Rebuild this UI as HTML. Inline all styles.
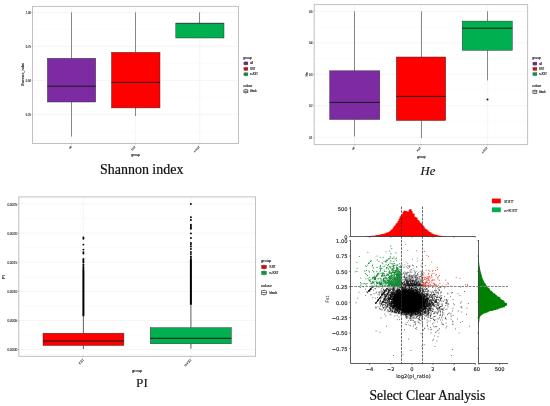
<!DOCTYPE html>
<html lang="en"><head><meta charset="utf-8"><title>Figure</title>
<style>html,body{margin:0;padding:0;background:#fff}svg{display:block;filter:blur(.35px)}</style></head>
<body>
<svg width="550" height="406" viewBox="0 0 550 406">
<rect width="550" height="406" fill="#fff"/>
<rect x="32.5" y="6.4" width="206.0" height="137.1" fill="#fff"/>
<path d="M32.5 29.4H238.5" stroke="#f6f6f6" stroke-width=".5"/>
<path d="M32.5 63.4H238.5" stroke="#f6f6f6" stroke-width=".5"/>
<path d="M32.5 97.4H238.5" stroke="#f6f6f6" stroke-width=".5"/>
<path d="M32.5 131.4H238.5" stroke="#f6f6f6" stroke-width=".5"/>
<path d="M32.5 12.4H238.5" stroke="#f0f0f0" stroke-width=".7"/>
<path d="M32.5 46.4H238.5" stroke="#f0f0f0" stroke-width=".7"/>
<path d="M32.5 80.4H238.5" stroke="#f0f0f0" stroke-width=".7"/>
<path d="M32.5 114.4H238.5" stroke="#f0f0f0" stroke-width=".7"/>
<path d="M71.6 6.4V143.5" stroke="#f1f1f1" stroke-width=".7"/>
<path d="M135.6 6.4V143.5" stroke="#f1f1f1" stroke-width=".7"/>
<path d="M199.8 6.4V143.5" stroke="#f1f1f1" stroke-width=".7"/>
<path d="M71.5 12.4V58.3M71.5 102V136.5" stroke="#3c3c3c" stroke-width="0.6"/>
<rect x="47.4" y="58.3" width="48.300000000000004" height="43.7" fill="#7d2ba3" stroke="#2b2b2b" stroke-width=".45"/>
<path d="M47.4 86.2H95.7" stroke="#1a1a1a" stroke-width="1.0"/>
<path d="M135.5 12.4V52.3M135.5 107.9V116" stroke="#3c3c3c" stroke-width="0.6"/>
<rect x="111.5" y="52.3" width="48.5" height="55.60000000000001" fill="#ff0000" stroke="#2b2b2b" stroke-width=".45"/>
<path d="M111.5 82.4H160" stroke="#1a1a1a" stroke-width="1.0"/>
<path d="M199.5 12.4V23.2M199.5 38V38" stroke="#3c3c3c" stroke-width="0.6"/>
<rect x="175.8" y="23.2" width="48.19999999999999" height="14.8" fill="#00b050" stroke="#2b2b2b" stroke-width=".45"/>
<path d="M175.8 23.2H224" stroke="#1a1a1a" stroke-width="0.5"/>
<rect x="32.5" y="6.4" width="206.0" height="137.1" fill="none" stroke="#c0c0c0" stroke-width="1"/>
<path d="M31.5 12.4H32.5" stroke="#666" stroke-width=".4"/>
<text x="30.9" y="14.054" font-size="2.65" font-family="Liberation Sans, Arial, sans-serif" fill="#3a3a3a" text-anchor="end"  stroke="#3a3a3a" stroke-width=".14">1.00</text>
<path d="M31.5 46.4H32.5" stroke="#666" stroke-width=".4"/>
<text x="30.9" y="48.054" font-size="2.65" font-family="Liberation Sans, Arial, sans-serif" fill="#3a3a3a" text-anchor="end"  stroke="#3a3a3a" stroke-width=".14">0.75</text>
<path d="M31.5 80.4H32.5" stroke="#666" stroke-width=".4"/>
<text x="30.9" y="82.054" font-size="2.65" font-family="Liberation Sans, Arial, sans-serif" fill="#3a3a3a" text-anchor="end"  stroke="#3a3a3a" stroke-width=".14">0.50</text>
<path d="M31.5 114.4H32.5" stroke="#666" stroke-width=".4"/>
<text x="30.9" y="116.054" font-size="2.65" font-family="Liberation Sans, Arial, sans-serif" fill="#3a3a3a" text-anchor="end"  stroke="#3a3a3a" stroke-width=".14">0.25</text>
<text transform="translate(24.1 74.5) rotate(-90)" font-size="3.3" font-family="Liberation Sans, Arial, sans-serif" fill="#222" text-anchor="middle" stroke="#222" stroke-width=".14">Shannon_index</text>
<path d="M71.6 143.5V144.5" stroke="#666" stroke-width=".4"/>
<text transform="translate(71.89999999999999 147.1) rotate(-45)" font-size="2.65" font-family="Liberation Sans, Arial, sans-serif" fill="#3a3a3a" text-anchor="end" stroke="#3a3a3a" stroke-width=".14">all</text>
<path d="M135.6 143.5V144.5" stroke="#666" stroke-width=".4"/>
<text transform="translate(135.9 147.1) rotate(-45)" font-size="2.65" font-family="Liberation Sans, Arial, sans-serif" fill="#3a3a3a" text-anchor="end" stroke="#3a3a3a" stroke-width=".14">KST</text>
<path d="M199.8 143.5V144.5" stroke="#666" stroke-width=".4"/>
<text transform="translate(200.10000000000002 147.1) rotate(-45)" font-size="2.65" font-family="Liberation Sans, Arial, sans-serif" fill="#3a3a3a" text-anchor="end" stroke="#3a3a3a" stroke-width=".14">n-KST</text>
<text x="135.5" y="156" font-size="3.3" font-family="Liberation Sans, Arial, sans-serif" fill="#111" text-anchor="middle"  stroke="#111" stroke-width=".14">group</text>
<text x="243.3" y="58.9" font-size="3.3" font-family="Liberation Sans, Arial, sans-serif" fill="#111" text-anchor="start"  stroke="#111" stroke-width=".14">group</text>
<path d="M245.90 60.90V65.90" stroke="#333" stroke-width="0.3"/>
<rect x="243.9" y="61.95" width="4.00" height="2.90" fill="#7d2ba3" stroke="#333" stroke-width="0.3"/>
<path d="M243.9 63.40h4.00" stroke="#333" stroke-width="0.4"/>
<text x="250.3" y="64.35" font-size="2.65" font-family="Liberation Sans, Arial, sans-serif" fill="#111" text-anchor="start"  stroke="#111" stroke-width=".14">all</text>
<path d="M245.90 66.40V71.40" stroke="#333" stroke-width="0.3"/>
<rect x="243.9" y="67.45" width="4.00" height="2.90" fill="#ff0000" stroke="#333" stroke-width="0.3"/>
<path d="M243.9 68.90h4.00" stroke="#333" stroke-width="0.4"/>
<text x="250.3" y="69.85000000000001" font-size="2.65" font-family="Liberation Sans, Arial, sans-serif" fill="#111" text-anchor="start"  stroke="#111" stroke-width=".14">KST</text>
<path d="M245.90 71.80V76.80" stroke="#333" stroke-width="0.3"/>
<rect x="243.9" y="72.85" width="4.00" height="2.90" fill="#00b050" stroke="#333" stroke-width="0.3"/>
<path d="M243.9 74.30h4.00" stroke="#333" stroke-width="0.4"/>
<text x="250.3" y="75.25" font-size="2.65" font-family="Liberation Sans, Arial, sans-serif" fill="#111" text-anchor="start"  stroke="#111" stroke-width=".14">n-KST</text>
<text x="243.3" y="86.7" font-size="3.3" font-family="Liberation Sans, Arial, sans-serif" fill="#111" text-anchor="start"  stroke="#111" stroke-width=".14">colour</text>
<path d="M245.90 88.80V93.80" stroke="#111" stroke-width="0.5"/>
<rect x="243.9" y="89.85" width="4.00" height="2.90" fill="#fff" stroke="#111" stroke-width="0.5"/>
<path d="M243.9 91.30h4.00" stroke="#111" stroke-width="0.6"/>
<text x="250.3" y="92.25" font-size="2.65" font-family="Liberation Sans, Arial, sans-serif" fill="#111" text-anchor="start"  stroke="#111" stroke-width=".14">black</text>
<text x="141.7" y="173.7" font-size="13.6" font-family="Liberation Serif, Times New Roman, serif" fill="#111" text-anchor="middle" textLength="83.4" lengthAdjust="spacingAndGlyphs" stroke="#111" stroke-width=".22">Shannon index</text>
<rect x="314.2" y="4.6" width="213.40000000000003" height="140.0" fill="#fff"/>
<path d="M314.2 27H527.6" stroke="#f6f6f6" stroke-width=".5"/>
<path d="M314.2 58.5H527.6" stroke="#f6f6f6" stroke-width=".5"/>
<path d="M314.2 90H527.6" stroke="#f6f6f6" stroke-width=".5"/>
<path d="M314.2 121.5H527.6" stroke="#f6f6f6" stroke-width=".5"/>
<path d="M314.2 11.3H527.6" stroke="#f0f0f0" stroke-width=".7"/>
<path d="M314.2 42.8H527.6" stroke="#f0f0f0" stroke-width=".7"/>
<path d="M314.2 74.3H527.6" stroke="#f0f0f0" stroke-width=".7"/>
<path d="M314.2 105.8H527.6" stroke="#f0f0f0" stroke-width=".7"/>
<path d="M314.2 137.3H527.6" stroke="#f0f0f0" stroke-width=".7"/>
<path d="M354.5 4.6V144.6" stroke="#f1f1f1" stroke-width=".7"/>
<path d="M421 4.6V144.6" stroke="#f1f1f1" stroke-width=".7"/>
<path d="M487.7 4.6V144.6" stroke="#f1f1f1" stroke-width=".7"/>
<path d="M354.5 11.3V70.8M354.5 119.5V136.5" stroke="#3c3c3c" stroke-width="0.6"/>
<rect x="329.7" y="70.8" width="50.10000000000002" height="48.7" fill="#7d2ba3" stroke="#2b2b2b" stroke-width=".45"/>
<path d="M329.7 102.4H379.8" stroke="#1a1a1a" stroke-width="1.0"/>
<path d="M421.5 11.3V57M421.5 120.5V138" stroke="#3c3c3c" stroke-width="0.6"/>
<rect x="396.3" y="57" width="49.39999999999998" height="63.5" fill="#ff0000" stroke="#2b2b2b" stroke-width=".45"/>
<path d="M396.3 96.4H445.7" stroke="#1a1a1a" stroke-width="1.0"/>
<path d="M487.5 11.3V21.1M487.5 50.3V80.4" stroke="#3c3c3c" stroke-width="0.6"/>
<rect x="462.2" y="21.1" width="50.099999999999966" height="29.199999999999996" fill="#00b050" stroke="#2b2b2b" stroke-width=".45"/>
<path d="M462.2 28.2H512.3" stroke="#1a1a1a" stroke-width="1.0"/>
<circle cx="487.5" cy="99.4" r="1" fill="#111"/>
<rect x="314.2" y="4.6" width="213.40000000000003" height="140.0" fill="none" stroke="#c0c0c0" stroke-width="1"/>
<path d="M313.2 11.3H314.2" stroke="#666" stroke-width=".4"/>
<text x="312.59999999999997" y="12.954" font-size="2.65" font-family="Liberation Sans, Arial, sans-serif" fill="#3a3a3a" text-anchor="end"  stroke="#3a3a3a" stroke-width=".14">0.5</text>
<path d="M313.2 42.8H314.2" stroke="#666" stroke-width=".4"/>
<text x="312.59999999999997" y="44.454" font-size="2.65" font-family="Liberation Sans, Arial, sans-serif" fill="#3a3a3a" text-anchor="end"  stroke="#3a3a3a" stroke-width=".14">0.4</text>
<path d="M313.2 74.3H314.2" stroke="#666" stroke-width=".4"/>
<text x="312.59999999999997" y="75.954" font-size="2.65" font-family="Liberation Sans, Arial, sans-serif" fill="#3a3a3a" text-anchor="end"  stroke="#3a3a3a" stroke-width=".14">0.3</text>
<path d="M313.2 105.8H314.2" stroke="#666" stroke-width=".4"/>
<text x="312.59999999999997" y="107.454" font-size="2.65" font-family="Liberation Sans, Arial, sans-serif" fill="#3a3a3a" text-anchor="end"  stroke="#3a3a3a" stroke-width=".14">0.2</text>
<path d="M313.2 137.3H314.2" stroke="#666" stroke-width=".4"/>
<text x="312.59999999999997" y="138.954" font-size="2.65" font-family="Liberation Sans, Arial, sans-serif" fill="#3a3a3a" text-anchor="end"  stroke="#3a3a3a" stroke-width=".14">0.1</text>
<text transform="translate(307.9 74.4) rotate(-90)" font-size="3.3" font-family="Liberation Sans, Arial, sans-serif" fill="#222" text-anchor="middle" stroke="#222" stroke-width=".14">He</text>
<path d="M354.5 144.6V145.6" stroke="#666" stroke-width=".4"/>
<text transform="translate(354.8 148.2) rotate(-45)" font-size="2.65" font-family="Liberation Sans, Arial, sans-serif" fill="#3a3a3a" text-anchor="end" stroke="#3a3a3a" stroke-width=".14">all</text>
<path d="M421 144.6V145.6" stroke="#666" stroke-width=".4"/>
<text transform="translate(421.3 148.2) rotate(-45)" font-size="2.65" font-family="Liberation Sans, Arial, sans-serif" fill="#3a3a3a" text-anchor="end" stroke="#3a3a3a" stroke-width=".14">KST</text>
<path d="M487.7 144.6V145.6" stroke="#666" stroke-width=".4"/>
<text transform="translate(488.0 148.2) rotate(-45)" font-size="2.65" font-family="Liberation Sans, Arial, sans-serif" fill="#3a3a3a" text-anchor="end" stroke="#3a3a3a" stroke-width=".14">n-KST</text>
<text x="421.3" y="158" font-size="3.3" font-family="Liberation Sans, Arial, sans-serif" fill="#111" text-anchor="middle"  stroke="#111" stroke-width=".14">group</text>
<text x="532.3" y="58.8" font-size="3.3" font-family="Liberation Sans, Arial, sans-serif" fill="#111" text-anchor="start"  stroke="#111" stroke-width=".14">group</text>
<path d="M534.90 61.10V66.10" stroke="#333" stroke-width="0.3"/>
<rect x="532.9" y="62.15" width="4.00" height="2.90" fill="#7d2ba3" stroke="#333" stroke-width="0.3"/>
<path d="M532.9 63.60h4.00" stroke="#333" stroke-width="0.4"/>
<text x="539.3" y="64.55" font-size="2.65" font-family="Liberation Sans, Arial, sans-serif" fill="#111" text-anchor="start"  stroke="#111" stroke-width=".14">all</text>
<path d="M534.90 66.40V71.40" stroke="#333" stroke-width="0.3"/>
<rect x="532.9" y="67.45" width="4.00" height="2.90" fill="#ff0000" stroke="#333" stroke-width="0.3"/>
<path d="M532.9 68.90h4.00" stroke="#333" stroke-width="0.4"/>
<text x="539.3" y="69.85000000000001" font-size="2.65" font-family="Liberation Sans, Arial, sans-serif" fill="#111" text-anchor="start"  stroke="#111" stroke-width=".14">KST</text>
<path d="M534.90 71.60V76.60" stroke="#333" stroke-width="0.3"/>
<rect x="532.9" y="72.65" width="4.00" height="2.90" fill="#00b050" stroke="#333" stroke-width="0.3"/>
<path d="M532.9 74.10h4.00" stroke="#333" stroke-width="0.4"/>
<text x="539.3" y="75.05" font-size="2.65" font-family="Liberation Sans, Arial, sans-serif" fill="#111" text-anchor="start"  stroke="#111" stroke-width=".14">n-KST</text>
<text x="532.3" y="87.1" font-size="3.3" font-family="Liberation Sans, Arial, sans-serif" fill="#111" text-anchor="start"  stroke="#111" stroke-width=".14">colour</text>
<path d="M534.90 89.30V94.30" stroke="#111" stroke-width="0.5"/>
<rect x="532.9" y="90.35" width="4.00" height="2.90" fill="#fff" stroke="#111" stroke-width="0.5"/>
<path d="M532.9 91.80h4.00" stroke="#111" stroke-width="0.6"/>
<text x="539.3" y="92.75" font-size="2.65" font-family="Liberation Sans, Arial, sans-serif" fill="#111" text-anchor="start"  stroke="#111" stroke-width=".14">black</text>
<text x="427.9" y="175.0" font-size="13.4" font-family="Liberation Serif, Times New Roman, serif" fill="#111" text-anchor="middle" font-style="italic" textLength="14.8" lengthAdjust="spacingAndGlyphs" stroke="#111" stroke-width=".15">He</text>
<rect x="18.8" y="196.9" width="236.7" height="159.4" fill="#fff"/>
<path d="M18.8 218.5H255.5" stroke="#f6f6f6" stroke-width=".5"/>
<path d="M18.8 247.6H255.5" stroke="#f6f6f6" stroke-width=".5"/>
<path d="M18.8 276.7H255.5" stroke="#f6f6f6" stroke-width=".5"/>
<path d="M18.8 305.8H255.5" stroke="#f6f6f6" stroke-width=".5"/>
<path d="M18.8 335H255.5" stroke="#f6f6f6" stroke-width=".5"/>
<path d="M18.8 204H255.5" stroke="#f0f0f0" stroke-width=".7"/>
<path d="M18.8 233.1H255.5" stroke="#f0f0f0" stroke-width=".7"/>
<path d="M18.8 262.2H255.5" stroke="#f0f0f0" stroke-width=".7"/>
<path d="M18.8 291.3H255.5" stroke="#f0f0f0" stroke-width=".7"/>
<path d="M18.8 320.4H255.5" stroke="#f0f0f0" stroke-width=".7"/>
<path d="M18.8 349.5H255.5" stroke="#f0f0f0" stroke-width=".7"/>
<path d="M83.3 196.9V356.3" stroke="#f1f1f1" stroke-width=".7"/>
<path d="M191 196.9V356.3" stroke="#f1f1f1" stroke-width=".7"/>
<circle cx="83.4" cy="237.4" r=".95" fill="#000"/>
<circle cx="83.4" cy="238.8" r=".95" fill="#000"/>
<circle cx="83.4" cy="244.6" r=".95" fill="#000"/>
<circle cx="83.4" cy="249.6" r=".95" fill="#000"/>
<circle cx="83.4" cy="252.3" r=".95" fill="#000"/>
<circle cx="83.4" cy="253.5" r=".95" fill="#000"/>
<circle cx="83.4" cy="258.9" r=".95" fill="#000"/>
<circle cx="83.4" cy="260" r=".95" fill="#000"/>
<circle cx="83.4" cy="261.2" r=".95" fill="#000"/>
<circle cx="83.4" cy="262.4" r=".95" fill="#000"/>
<circle cx="83.4" cy="264.5" r=".95" fill="#000"/>
<circle cx="83.4" cy="266" r=".95" fill="#000"/>
<circle cx="83.4" cy="267.5" r=".95" fill="#000"/>
<circle cx="83.4" cy="268.8" r=".95" fill="#000"/>
<path d="M83.4 270V315.5" stroke="#000" stroke-width="2.0" stroke-linecap="round"/>
<circle cx="190.9" cy="204" r=".95" fill="#000"/>
<circle cx="190.9" cy="217.3" r=".95" fill="#000"/>
<circle cx="190.9" cy="220" r=".95" fill="#000"/>
<circle cx="190.9" cy="224.7" r=".95" fill="#000"/>
<circle cx="190.9" cy="226" r=".95" fill="#000"/>
<circle cx="190.9" cy="227.5" r=".95" fill="#000"/>
<circle cx="190.9" cy="228.8" r=".95" fill="#000"/>
<circle cx="190.9" cy="233.4" r=".95" fill="#000"/>
<circle cx="190.9" cy="238" r=".95" fill="#000"/>
<circle cx="190.9" cy="243" r=".95" fill="#000"/>
<circle cx="190.9" cy="244.5" r=".95" fill="#000"/>
<circle cx="190.9" cy="246.5" r=".95" fill="#000"/>
<circle cx="190.9" cy="249" r=".95" fill="#000"/>
<circle cx="190.9" cy="252" r=".95" fill="#000"/>
<circle cx="190.9" cy="254" r=".95" fill="#000"/>
<circle cx="190.9" cy="256.5" r=".95" fill="#000"/>
<circle cx="190.9" cy="258" r=".95" fill="#000"/>
<path d="M190.9 259.8V304" stroke="#000" stroke-width="2.0" stroke-linecap="round"/>
<path d="M83.4 315V333.2M83.4 345.5V349" stroke="#222" stroke-width="0.7"/>
<rect x="43" y="333.2" width="80.9" height="12.300000000000011" fill="#ff0000" stroke="#2b2b2b" stroke-width=".45"/>
<path d="M43 341H123.9" stroke="#1a1a1a" stroke-width="1.0"/>
<path d="M190.9 304V327.7M190.9 343.8V348.7" stroke="#222" stroke-width="0.7"/>
<rect x="150.3" y="327.7" width="81.0" height="16.100000000000023" fill="#00b050" stroke="#2b2b2b" stroke-width=".45"/>
<path d="M150.3 338.3H231.3" stroke="#1a1a1a" stroke-width="1.0"/>
<rect x="18.8" y="196.9" width="236.7" height="159.4" fill="none" stroke="#c0c0c0" stroke-width="1"/>
<path d="M17.8 204H18.8" stroke="#666" stroke-width=".4"/>
<text x="17.2" y="205.85199999999998" font-size="3.2" font-family="Liberation Sans, Arial, sans-serif" fill="#3a3a3a" text-anchor="end"  stroke="#3a3a3a" stroke-width=".14">0.0025</text>
<path d="M17.8 233.1H18.8" stroke="#666" stroke-width=".4"/>
<text x="17.2" y="234.95199999999997" font-size="3.2" font-family="Liberation Sans, Arial, sans-serif" fill="#3a3a3a" text-anchor="end"  stroke="#3a3a3a" stroke-width=".14">0.0020</text>
<path d="M17.8 262.2H18.8" stroke="#666" stroke-width=".4"/>
<text x="17.2" y="264.05199999999996" font-size="3.2" font-family="Liberation Sans, Arial, sans-serif" fill="#3a3a3a" text-anchor="end"  stroke="#3a3a3a" stroke-width=".14">0.0015</text>
<path d="M17.8 291.3H18.8" stroke="#666" stroke-width=".4"/>
<text x="17.2" y="293.152" font-size="3.2" font-family="Liberation Sans, Arial, sans-serif" fill="#3a3a3a" text-anchor="end"  stroke="#3a3a3a" stroke-width=".14">0.0010</text>
<path d="M17.8 320.4H18.8" stroke="#666" stroke-width=".4"/>
<text x="17.2" y="322.25199999999995" font-size="3.2" font-family="Liberation Sans, Arial, sans-serif" fill="#3a3a3a" text-anchor="end"  stroke="#3a3a3a" stroke-width=".14">0.0005</text>
<path d="M17.8 349.5H18.8" stroke="#666" stroke-width=".4"/>
<text x="17.2" y="351.352" font-size="3.2" font-family="Liberation Sans, Arial, sans-serif" fill="#3a3a3a" text-anchor="end"  stroke="#3a3a3a" stroke-width=".14">0.0000</text>
<text transform="translate(5.0 277) rotate(-90)" font-size="4.0" font-family="Liberation Sans, Arial, sans-serif" fill="#222" text-anchor="middle" stroke="#222" stroke-width=".14">PI</text>
<path d="M83.3 356.3V357.3" stroke="#666" stroke-width=".4"/>
<text transform="translate(84.3 360.0) rotate(-45)" font-size="3.2" font-family="Liberation Sans, Arial, sans-serif" fill="#3a3a3a" text-anchor="end" stroke="#3a3a3a" stroke-width=".14">KST</text>
<path d="M191 356.3V357.3" stroke="#666" stroke-width=".4"/>
<text transform="translate(192.0 360.0) rotate(-45)" font-size="3.2" font-family="Liberation Sans, Arial, sans-serif" fill="#3a3a3a" text-anchor="end" stroke="#3a3a3a" stroke-width=".14">n-KST</text>
<text x="137.1" y="371.6" font-size="4.0" font-family="Liberation Sans, Arial, sans-serif" fill="#111" text-anchor="middle"  stroke="#111" stroke-width=".14">group</text>
<text x="261" y="261.62" font-size="4.026" font-family="Liberation Sans, Arial, sans-serif" fill="#111" text-anchor="start"  stroke="#111" stroke-width=".14">group</text>
<path d="M264.04 263.95V270.05" stroke="#333" stroke-width="0.3"/>
<rect x="261.6" y="265.23" width="4.88" height="3.54" fill="#ff0000" stroke="#333" stroke-width="0.3"/>
<path d="M261.6 267.00h4.88" stroke="#333" stroke-width="0.4"/>
<text x="269.54" y="268.159" font-size="3.2329999999999997" font-family="Liberation Sans, Arial, sans-serif" fill="#111" text-anchor="start"  stroke="#111" stroke-width=".14">KST</text>
<path d="M264.04 269.85V275.95" stroke="#333" stroke-width="0.3"/>
<rect x="261.6" y="271.13" width="4.88" height="3.54" fill="#00b050" stroke="#333" stroke-width="0.3"/>
<path d="M261.6 272.90h4.88" stroke="#333" stroke-width="0.4"/>
<text x="269.54" y="274.05899999999997" font-size="3.2329999999999997" font-family="Liberation Sans, Arial, sans-serif" fill="#111" text-anchor="start"  stroke="#111" stroke-width=".14">n-KST</text>
<text x="261" y="287.02000000000004" font-size="4.026" font-family="Liberation Sans, Arial, sans-serif" fill="#111" text-anchor="start"  stroke="#111" stroke-width=".14">colour</text>
<path d="M264.04 289.55V295.65" stroke="#111" stroke-width="0.5"/>
<rect x="261.6" y="290.83" width="4.88" height="3.54" fill="#fff" stroke="#111" stroke-width="0.5"/>
<path d="M261.6 292.60h4.88" stroke="#111" stroke-width="0.6"/>
<text x="269.54" y="293.759" font-size="3.2329999999999997" font-family="Liberation Sans, Arial, sans-serif" fill="#111" text-anchor="start"  stroke="#111" stroke-width=".14">black</text>
<text x="142.0" y="387.4" font-size="13.5" font-family="Liberation Serif, Times New Roman, serif" fill="#111" text-anchor="middle" textLength="11.8" lengthAdjust="spacingAndGlyphs" stroke="#111" stroke-width=".1">PI</text>
<path d="M363.6 236.5V236.5h1.0V236.4h1.0V236.2h1.0V236.2h1.0V236.1h1.0V236.0h1.0V235.9h1.0V235.8h1.0V235.8h1.0V235.7h1.0V235.7h1.0V235.5h1.0V235.3h1.0V235.1h1.0V235.0h1.0V234.9h1.0V234.6h1.0V234.3h1.0V234.1h1.0V233.9h1.0V233.5h1.0V233.4h1.0V232.8h1.0V232.6h1.0V232.2h1.0V231.7h1.0V231.0h1.0V229.7h1.0V229.2h1.0V227.7h1.0V226.3h1.0V225.3h1.0V223.6h1.0V222.8h1.0V220.9h1.0V218.8h1.0V216.4h1.0V215.4h1.0V214.2h1.0V211.9h1.0V210.4h1.0V210.9h1.0V211.1h1.0V211.2h1.0V211.7h1.0V209.7h1.0V209.0h1.0V209.2h1.0V210.9h1.0V213.5h1.0V213.5h1.0V216.8h1.0V217.3h1.0V217.7h1.0V220.0h1.0V220.6h1.0V222.5h1.0V222.9h1.0V224.1h1.0V225.6h1.0V226.6h1.0V228.2h1.0V228.9h1.0V229.8h1.0V230.6h1.0V231.5h1.0V232.0h1.0V232.6h1.0V233.4h1.0V233.7h1.0V234.3h1.0V234.5h1.0V234.8h1.0V235.0h1.0V235.4h1.0V235.6h1.0V235.7h1.0V235.8h1.0V236.0h1.0V236.1h1.0V236.2h1.0V236.2h1.0V236.3h1.0V236.4h1.0V236.4h1.0V236.5h1.0V236.5Z" fill="#ff0000"/>
<path d="M350.5 207V236.5H475.5" fill="none" stroke="#1a1a1a" stroke-width=".7"/>
<path d="M349.1 208.2H350.5" stroke="#1a1a1a" stroke-width=".5"/>
<text x="347.6" y="210.5" font-size="5.2" font-family="DejaVu Sans, Liberation Sans, sans-serif" fill="#111" text-anchor="end"  stroke="#111" stroke-width=".1">500</text>
<path d="M349.1 236.5H350.5" stroke="#1a1a1a" stroke-width=".5"/>
<text x="347.6" y="238.8" font-size="5.2" font-family="DejaVu Sans, Liberation Sans, sans-serif" fill="#111" text-anchor="end"  stroke="#111" stroke-width=".1">0</text>
<path d="M369.6 236.5v1.2" stroke="#1a1a1a" stroke-width=".5"/>
<path d="M390.7 236.5v1.2" stroke="#1a1a1a" stroke-width=".5"/>
<path d="M411.9 236.5v1.2" stroke="#1a1a1a" stroke-width=".5"/>
<path d="M433.0 236.5v1.2" stroke="#1a1a1a" stroke-width=".5"/>
<path d="M454.1 236.5v1.2" stroke="#1a1a1a" stroke-width=".5"/>
<path d="M475.3 236.5v1.2" stroke="#1a1a1a" stroke-width=".5"/>
<path d="M478.5 256.6H478.7v0.55H478.7v0.55H478.8v0.55H478.8v0.55H478.9v0.55H478.9v0.55H479.0v0.55H479.0v0.55H479.0v0.55H479.1v0.55H479.1v0.55H479.2v0.55H479.2v0.55H479.3v0.55H479.3v0.55H479.4v0.55H479.5v0.55H479.6v0.55H479.7v0.55H479.8v0.55H479.9v0.55H480.0v0.55H480.1v0.55H480.2v0.55H480.3v0.55H480.4v0.55H480.5v0.55H480.7v0.55H480.8v0.55H480.9v0.55H481.2v0.55H481.3v0.55H481.4v0.55H481.6v0.55H481.7v0.55H481.9v0.55H482.0v0.55H482.3v0.55H482.3v0.55H482.5v0.55H482.7v0.55H483.0v0.55H483.3v0.55H483.5v0.55H483.7v0.55H484.1v0.55H484.3v0.55H484.7v0.55H484.8v0.55H485.7v0.55H485.9v0.55H486.0v0.55H486.5v0.55H486.9v0.55H487.3v0.55H487.6v0.55H488.6v0.55H489.3v0.55H489.4v0.55H489.9v0.55H490.0v0.55H490.6v0.55H491.5v0.55H492.0v0.55H493.3v0.55H493.1v0.55H493.6v0.55H495.4v0.55H495.5v0.55H495.6v0.55H496.9v0.55H496.8v0.55H498.2v0.55H499.6v0.55H500.1v0.55H500.6v0.55H500.5v0.55H501.4v0.55H501.7v0.55H503.6v0.55H503.7v0.55H504.8v0.55H504.5v0.55H504.8v0.55H506.4v0.55H507.0v0.55H507.1v0.55H507.1v0.55H506.8v0.55H506.3v0.55H504.8v0.55H505.0v0.55H503.1v0.55H500.9v0.55H499.4v0.55H498.3v0.55H496.1v0.55H494.4v0.55H492.4v0.55H489.7v0.55H488.6v0.55H487.2v0.55H485.8v0.55H484.1v0.55H483.1v0.55H482.3v0.55H481.5v0.55H480.7v0.55H480.5v0.55H480.2v0.55H479.9v0.55H479.6v0.55H479.6v0.55H479.5v0.55H479.4v0.55H479.4v0.55H479.3v0.55H479.2v0.55H479.2v0.55H479.1v0.55H479.0v0.55H479.0v0.55H478.9v0.55H478.8v0.55H478.8v0.55H478.7v0.55H478.5Z" fill="#008000"/>
<path d="M478.5 240V363.5H508" fill="none" stroke="#1a1a1a" stroke-width=".7"/>
<path d="M478.5 240.6h-1.2" stroke="#1a1a1a" stroke-width=".5"/>
<path d="M478.5 256.0h-1.2" stroke="#1a1a1a" stroke-width=".5"/>
<path d="M478.5 271.4h-1.2" stroke="#1a1a1a" stroke-width=".5"/>
<path d="M478.5 286.8h-1.2" stroke="#1a1a1a" stroke-width=".5"/>
<path d="M478.5 302.2h-1.2" stroke="#1a1a1a" stroke-width=".5"/>
<path d="M478.5 317.6h-1.2" stroke="#1a1a1a" stroke-width=".5"/>
<path d="M478.5 333.0h-1.2" stroke="#1a1a1a" stroke-width=".5"/>
<path d="M478.5 348.4h-1.2" stroke="#1a1a1a" stroke-width=".5"/>
<path d="M478.8 363.5v1.4" stroke="#1a1a1a" stroke-width=".5"/>
<text x="478.40000000000003" y="371.4" font-size="5.2" font-family="DejaVu Sans, Liberation Sans, sans-serif" fill="#111" text-anchor="middle"  stroke="#111" stroke-width=".1">0</text>
<path d="M499.6 363.5v1.4" stroke="#1a1a1a" stroke-width=".5"/>
<text x="499.6" y="371.4" font-size="5.2" font-family="DejaVu Sans, Liberation Sans, sans-serif" fill="#111" text-anchor="middle"  stroke="#111" stroke-width=".1">500</text>
<defs><radialGradient id="g"><stop offset="0" stop-color="#000"/><stop offset=".72" stop-color="#000"/><stop offset="1" stop-color="#000" stop-opacity="0"/></radialGradient></defs>
<ellipse cx="408.4" cy="301.4" rx="13.2" ry="9.212" fill="url(#g)" transform="rotate(7 408.4 301.4)"/>
<path d="M416.8 309.2h0M416.0 293.3h0M418.5 301.3h0M404.8 308.1h0M397.1 303.1h0M412.4 294.9h0M392.7 294.9h0M398.6 302.8h0M416.9 305.6h0M406.4 290.0h0M418.5 296.6h0M427.0 299.7h0M396.4 296.8h0M402.0 307.7h0M398.6 303.8h0M418.0 298.9h0M405.4 294.4h0M419.2 299.7h0M398.1 298.9h0M413.2 308.3h0M403.9 307.4h0M396.5 301.3h0M416.9 291.3h0M420.2 290.0h0M416.9 305.5h0M414.3 310.3h0M404.7 308.3h0M397.3 302.8h0M404.3 307.5h0M415.7 294.6h0M414.7 307.7h0M414.8 295.5h0M412.8 294.0h0M406.5 308.7h0M408.7 292.0h0M407.3 308.4h0M396.7 296.0h0M406.4 308.1h0M395.8 298.9h0M391.4 302.5h0M410.3 309.5h0M393.8 293.4h0M417.5 290.9h0M419.5 297.2h0M419.9 303.0h0M401.7 306.9h0M422.1 298.4h0M418.8 305.1h0M399.5 306.3h0M420.0 305.5h0M391.6 301.4h0M413.4 308.8h0M418.6 298.0h0M422.7 316.9h0M402.0 306.8h0M407.0 308.4h0M389.5 298.8h0M406.8 294.4h0M398.3 305.6h0M413.6 308.2h0M416.3 308.8h0M419.6 306.8h0M400.1 295.7h0M407.6 309.5h0M397.7 300.2h0M424.4 305.9h0M413.2 293.2h0M410.0 294.1h0M409.3 309.7h0M393.5 307.5h0M417.5 305.2h0M418.7 299.6h0M402.5 292.4h0M419.2 302.9h0M426.4 300.7h0M397.1 301.4h0M394.2 305.7h0M417.2 305.2h0M409.6 289.7h0M404.8 312.2h0M408.7 313.9h0M406.7 314.1h0M415.2 290.8h0M409.4 294.4h0M418.5 304.2h0M426.1 311.4h0M416.2 294.7h0M407.8 308.7h0M413.5 294.3h0M402.6 312.0h0M418.5 301.4h0M411.3 293.8h0M394.8 292.6h0M399.2 306.8h0M407.2 308.5h0M402.8 307.3h0M402.5 309.1h0M417.3 307.6h0M413.9 309.7h0M392.6 294.2h0M407.8 293.6h0M417.3 298.2h0M419.6 303.5h0M397.7 292.0h0M418.4 300.0h0M426.5 308.3h0M423.0 296.4h0M399.6 304.6h0M407.7 294.2h0M394.3 295.3h0M416.5 294.1h0M400.8 295.0h0M410.4 293.4h0M398.9 303.3h0M401.5 294.2h0M422.7 302.0h0M413.7 290.6h0M397.2 309.8h0M419.9 296.9h0M405.6 312.9h0M412.9 307.9h0M413.2 290.9h0M422.5 302.5h0M421.0 303.1h0M401.6 295.9h0M409.3 312.7h0M421.0 303.1h0M400.9 306.6h0M400.5 294.3h0M419.3 299.6h0M416.5 306.6h0M402.7 294.7h0M418.4 305.5h0M395.7 296.7h0M412.4 313.7h0M417.2 297.6h0M408.7 308.8h0M401.8 294.1h0M423.2 294.0h0M417.9 298.3h0M415.8 306.8h0M417.9 312.0h0M405.7 294.5h0M397.8 295.0h0M415.5 306.9h0M416.6 306.8h0M401.6 309.4h0M407.0 309.2h0M416.8 296.0h0M410.6 308.7h0M406.0 293.9h0M401.6 294.3h0M421.3 295.7h0M406.7 308.2h0M412.7 312.3h0M415.5 311.0h0M402.0 308.0h0M421.5 300.8h0M400.2 305.0h0M399.9 295.4h0M407.4 293.4h0M397.0 304.3h0M396.9 304.1h0M400.1 290.4h0M405.8 308.8h0M398.3 304.0h0M409.2 309.2h0M413.1 294.0h0M415.3 308.0h0M420.3 300.9h0M415.2 294.9h0M407.5 294.0h0M404.1 308.1h0M416.6 293.0h0M420.7 303.6h0M414.2 308.0h0M417.9 298.2h0M420.0 296.5h0M408.6 309.9h0M417.6 293.4h0M397.6 290.0h0M399.5 294.6h0M406.6 290.0h0M393.3 301.3h0M416.3 293.2h0M401.6 309.7h0M417.4 299.2h0M417.9 304.2h0M403.6 308.9h0M393.5 294.5h0M412.8 295.4h0M399.2 305.5h0M390.1 306.8h0M418.6 303.4h0M407.3 294.2h0M410.8 294.4h0M400.1 293.5h0M425.3 300.8h0M421.4 303.9h0M417.8 295.3h0M399.9 306.5h0M413.2 293.2h0M419.1 305.9h0M397.8 293.7h0M422.6 303.2h0M417.4 292.8h0M416.4 295.5h0M421.7 309.0h0M396.0 292.3h0M409.4 294.1h0M396.9 295.3h0M411.7 309.9h0M418.6 302.5h0M401.7 294.8h0M397.7 294.4h0M418.2 302.2h0M411.6 293.4h0M426.1 306.7h0M416.9 306.2h0M419.4 300.7h0M419.7 301.1h0M429.9 307.9h0M412.9 291.8h0M419.9 314.8h0M398.3 295.2h0M401.3 309.2h0M397.8 301.0h0M414.1 307.8h0M406.9 292.3h0M418.1 299.3h0M409.5 310.3h0M417.3 296.3h0M414.5 311.3h0M424.5 301.8h0M395.7 301.1h0M410.7 308.9h0M407.4 290.1h0M419.2 302.8h0M394.3 294.6h0M410.6 294.5h0M419.3 307.2h0M410.6 309.6h0M408.2 294.0h0M414.4 295.5h0M400.2 306.1h0M396.5 298.9h0M420.2 301.1h0M416.2 306.8h0M406.1 294.5h0M400.6 296.1h0M418.1 295.8h0M417.0 309.0h0M399.1 304.5h0M395.5 295.0h0M415.6 293.7h0M392.6 305.4h0M408.0 311.2h0M393.8 298.5h0M397.2 303.5h0M415.1 308.6h0M399.7 291.7h0M398.6 295.2h0M416.1 308.3h0M398.6 298.0h0M409.4 309.1h0M400.3 307.3h0M394.7 296.0h0M420.0 302.2h0M416.1 297.1h0M399.2 305.5h0M418.3 300.8h0M400.5 308.6h0M420.7 294.4h0M403.7 308.5h0M419.5 298.6h0M423.5 306.7h0M384.5 295.1h0M401.3 309.8h0M418.2 297.5h0M404.7 308.7h0M402.0 295.2h0M404.5 291.6h0M395.7 300.0h0M402.0 293.8h0M409.9 294.4h0M412.4 308.2h0M410.5 294.6h0M406.3 308.9h0M418.3 299.4h0M421.2 296.6h0M397.7 293.9h0M393.7 307.7h0M402.6 309.5h0M413.8 310.9h0M419.3 301.3h0M413.7 295.7h0M411.5 309.0h0M418.6 304.3h0M394.3 303.3h0M426.3 299.6h0M397.0 302.4h0M411.0 293.3h0M412.4 309.0h0M401.8 291.5h0M403.5 307.9h0M407.1 293.9h0M416.7 294.8h0M417.6 298.7h0M412.8 307.9h0M403.4 308.1h0M416.0 294.8h0M421.3 305.6h0M404.9 291.9h0M420.0 308.4h0M425.0 298.1h0M405.7 293.4h0M411.1 289.7h0M395.2 296.9h0M419.1 305.8h0M408.0 310.4h0M401.8 312.3h0M394.6 295.4h0M418.2 305.5h0M406.1 293.9h0M402.4 307.9h0M418.5 303.1h0M397.8 297.9h0M414.5 307.9h0M413.0 311.6h0M413.4 290.3h0M414.1 295.2h0M422.1 305.8h0M404.8 293.0h0M426.6 307.0h0M407.5 293.3h0M417.3 306.5h0M403.2 291.6h0M397.8 296.3h0M400.6 307.9h0M413.0 312.3h0M416.7 297.8h0M416.9 296.0h0M398.3 298.7h0M398.2 296.4h0M397.7 304.8h0M415.8 294.0h0M419.4 300.8h0M400.9 305.6h0M398.6 294.5h0M421.5 298.4h0M411.8 310.4h0M420.2 304.0h0M416.9 296.9h0M413.3 295.6h0M415.7 295.5h0M401.6 308.3h0M413.3 309.6h0M399.3 296.6h0M397.7 302.0h0M419.9 314.9h0M405.5 310.1h0M398.3 296.7h0M388.0 292.8h0M410.6 292.5h0M401.5 306.7h0M416.0 297.1h0M404.3 307.8h0M412.7 309.7h0M406.3 312.5h0M406.5 308.1h0M397.2 305.5h0M417.4 310.8h0M399.4 310.9h0M398.6 304.2h0M396.3 301.9h0M414.0 307.7h0M414.8 293.2h0M403.2 314.8h0M398.3 301.3h0M414.4 307.5h0M419.8 299.7h0M412.4 308.9h0M411.1 294.5h0M408.1 289.9h0M406.7 308.6h0M410.7 309.4h0M409.9 290.7h0M400.3 309.4h0M419.3 294.6h0M431.7 306.9h0M405.1 294.5h0M411.8 295.0h0M395.6 299.5h0M418.5 302.2h0M400.6 307.0h0M419.2 301.2h0M406.5 308.7h0M398.6 299.8h0M405.1 293.7h0M392.7 308.7h0M419.6 302.7h0M396.5 292.2h0M411.0 309.2h0M409.6 287.7h0M418.1 299.3h0M413.8 295.3h0M396.4 307.3h0M407.4 308.5h0M398.8 305.2h0M399.9 297.4h0M407.3 294.3h0M394.5 304.7h0M397.8 302.9h0M397.7 294.8h0M404.5 293.7h0M409.7 311.2h0M409.5 294.4h0M404.3 293.1h0M399.5 309.8h0M420.1 302.2h0M415.9 296.4h0M403.7 308.4h0M411.6 312.0h0M402.8 308.6h0M417.3 295.7h0M410.4 310.5h0M421.8 297.9h0M416.4 306.6h0M420.1 306.0h0M416.0 294.4h0M399.6 296.6h0M427.9 306.8h0M415.4 294.2h0M415.2 308.7h0M422.1 298.3h0M426.8 299.0h0M401.2 308.3h0M408.8 293.3h0M398.8 297.4h0M397.1 299.3h0M413.6 310.0h0M419.2 292.3h0M416.4 297.4h0M396.6 301.7h0M408.2 308.8h0M423.6 299.3h0M395.2 294.5h0M408.2 294.3h0M400.3 308.0h0M409.5 308.7h0M419.2 301.1h0M416.8 294.0h0M398.1 302.1h0M397.0 294.1h0M412.9 295.5h0M406.1 308.7h0M409.8 314.5h0M417.8 300.2h0M401.2 309.1h0M395.7 294.0h0M398.4 305.6h0M414.2 310.0h0M408.6 290.4h0M400.1 312.8h0M399.5 311.6h0M406.7 309.3h0M412.2 314.7h0M415.4 310.3h0M398.7 307.6h0M407.6 313.7h0M400.5 295.8h0M410.5 311.7h0M404.5 294.3h0M401.7 295.0h0M402.1 295.4h0M412.6 293.6h0M401.4 294.7h0M417.3 296.1h0M427.0 302.5h0M408.4 293.8h0M418.2 303.2h0M399.9 307.4h0M429.6 308.4h0M416.7 307.5h0M399.4 297.5h0M407.2 309.6h0M407.9 286.8h0M422.9 304.0h0M414.6 295.3h0M402.2 308.2h0M417.5 298.4h0M399.7 296.0h0M398.5 302.1h0M401.6 293.0h0M408.2 310.1h0M390.5 308.8h0M418.2 301.6h0M421.5 306.0h0M416.6 312.1h0M414.0 293.3h0M399.1 298.3h0M415.2 306.8h0M403.9 292.3h0M423.3 299.3h0M407.3 310.9h0M408.8 309.4h0M390.2 296.6h0M423.9 296.9h0M405.2 308.0h0M406.0 312.6h0M418.6 303.9h0M406.5 310.4h0M417.8 305.7h0M398.2 300.4h0M404.2 307.8h0M411.5 308.8h0M400.9 290.8h0M416.3 306.6h0M397.9 288.0h0M419.0 306.1h0M407.5 309.7h0M397.3 306.9h0M412.0 311.0h0M422.5 305.1h0M397.2 302.0h0M417.3 308.8h0M408.8 309.6h0M418.3 306.0h0M408.9 294.4h0M413.1 309.4h0M420.9 308.3h0M403.6 294.2h0M419.4 302.0h0M419.8 303.4h0M421.4 296.8h0M400.5 296.2h0M410.3 312.8h0M409.2 294.2h0M415.5 294.6h0M419.7 300.8h0M415.2 307.2h0M419.2 312.7h0M408.6 312.5h0M418.5 298.6h0M405.1 307.9h0M407.8 309.7h0M424.2 309.5h0M400.7 306.1h0M420.8 300.6h0M395.3 304.0h0M392.2 306.5h0M409.6 311.2h0M399.8 304.3h0M399.2 296.3h0M397.1 300.9h0M411.9 288.4h0M413.9 295.2h0M398.5 298.6h0M419.9 306.8h0M405.9 294.5h0M406.6 308.1h0M417.7 299.7h0M397.2 311.8h0M417.0 306.3h0M401.8 295.4h0M412.8 293.0h0M419.2 299.2h0M414.3 309.2h0M413.3 293.0h0M397.0 294.8h0M403.8 294.4h0M411.6 309.8h0M401.1 294.1h0M407.4 291.9h0M414.4 309.7h0M398.9 294.3h0M398.5 299.6h0M398.1 299.8h0M420.3 307.1h0M420.3 304.9h0M419.2 306.4h0M398.9 305.2h0M418.4 308.7h0M398.9 298.8h0M414.0 311.3h0M408.0 309.1h0M405.6 314.9h0M418.4 300.7h0M407.1 309.0h0M409.0 293.8h0M398.5 304.0h0M410.5 293.1h0M420.1 292.4h0M397.9 307.8h0M409.0 309.3h0M420.8 298.2h0M401.5 292.1h0M417.8 296.0h0M402.7 307.4h0M417.5 305.6h0M395.1 302.0h0M397.4 290.5h0M398.7 295.7h0M420.1 298.1h0M397.4 298.9h0M409.0 293.7h0M419.7 296.0h0M390.3 310.4h0M422.5 298.1h0M398.1 300.0h0M405.4 309.7h0M419.8 303.1h0M406.8 310.8h0M399.7 295.3h0M395.3 293.9h0M424.6 299.3h0M418.2 306.0h0M413.2 308.4h0M409.6 309.1h0M403.6 307.3h0M396.8 301.0h0M399.4 295.8h0M417.1 305.7h0M416.3 295.4h0M395.4 309.3h0M417.1 298.1h0M401.1 309.5h0M398.0 307.4h0M404.3 291.3h0M417.2 305.0h0M409.1 311.5h0M409.2 293.4h0M426.5 308.5h0M406.6 294.2h0M414.0 309.7h0M418.9 301.5h0M413.6 308.0h0M396.1 303.3h0M412.9 309.6h0M418.0 298.1h0M398.8 294.0h0M419.1 298.9h0M410.5 292.0h0M412.7 289.9h0M395.8 300.2h0M401.9 292.8h0M385.7 290.4h0M409.3 293.3h0M413.6 294.8h0M392.7 302.0h0M418.4 311.9h0M412.9 311.4h0M418.6 298.5h0M395.1 302.0h0M403.0 289.8h0M398.2 301.5h0M399.9 306.5h0M418.2 296.9h0M391.4 292.1h0M390.8 295.3h0M410.5 309.0h0M399.3 298.0h0M399.3 303.4h0M391.7 293.6h0M411.4 311.6h0M403.8 288.0h0M409.7 286.9h0M400.8 306.2h0M417.4 311.4h0M400.2 296.5h0M394.3 299.5h0M399.4 303.6h0M397.9 301.2h0M402.9 292.2h0M419.0 306.4h0M404.0 307.9h0M415.1 307.3h0M408.8 293.7h0M400.1 304.5h0M405.3 294.2h0M398.8 298.3h0M403.7 293.6h0M405.8 287.2h0M401.1 309.6h0M421.5 301.7h0M417.3 306.9h0M417.8 296.1h0M398.0 306.5h0M420.4 305.3h0M430.5 294.5h0M396.6 298.9h0M405.3 309.6h0M419.3 299.0h0M408.6 310.9h0M420.0 306.3h0M419.2 300.9h0M397.4 300.7h0M405.5 308.3h0M417.9 298.1h0M420.3 304.0h0M403.6 292.0h0M420.5 304.0h0M415.7 296.3h0M395.2 293.8h0M410.1 309.7h0M412.5 294.4h0M411.9 291.8h0M406.3 311.2h0M385.5 302.5h0M416.5 306.5h0M420.1 295.3h0M418.9 300.6h0M403.1 294.2h0M392.6 307.0h0M412.1 294.1h0M418.1 300.9h0M402.8 294.9h0M401.3 293.2h0M403.0 309.0h0M396.8 303.0h0M418.1 297.3h0M421.3 296.6h0M402.0 307.3h0M402.0 295.6h0M404.9 307.9h0M416.5 287.2h0M418.1 299.2h0M404.9 290.7h0M419.6 300.6h0M404.7 291.2h0M409.7 309.3h0M390.5 298.4h0M409.7 293.2h0M401.4 306.9h0M407.2 291.4h0M411.6 293.1h0M399.2 304.1h0M409.5 309.7h0M399.8 296.9h0M410.4 294.3h0M402.0 294.2h0M396.5 297.0h0M416.4 294.3h0M407.2 312.2h0M418.4 303.0h0M405.8 293.8h0M409.7 294.2h0M397.2 308.0h0M403.9 308.6h0M404.0 294.1h0M407.9 291.3h0M399.2 305.1h0M418.1 308.7h0M393.7 303.6h0M415.2 310.2h0M397.6 302.8h0M395.1 293.7h0M420.5 298.6h0M398.3 306.8h0M409.2 308.4h0M411.0 308.4h0M414.4 294.6h0M408.1 309.4h0M409.0 291.0h0M421.8 307.3h0M395.2 300.0h0M413.4 293.5h0M416.4 307.9h0M416.7 290.9h0M420.7 302.8h0M417.0 296.0h0M396.2 302.0h0M402.4 292.7h0M418.1 300.9h0M419.8 300.2h0M422.3 289.2h0M414.6 309.7h0M401.3 307.9h0M407.2 294.2h0M397.8 303.2h0M416.2 296.3h0M419.3 300.8h0M418.6 303.8h0M427.7 302.9h0M418.5 293.5h0M421.0 310.2h0M401.2 295.3h0M403.8 291.5h0M417.7 311.0h0M420.8 301.4h0M398.4 302.3h0M399.2 303.6h0M408.1 293.4h0M419.0 296.0h0M420.0 298.5h0M385.8 302.7h0M399.5 311.7h0M413.5 291.4h0M397.2 306.9h0M390.7 297.9h0M395.7 296.2h0M399.1 310.8h0M404.2 307.8h0M414.3 294.6h0M422.2 299.3h0M422.6 303.2h0M403.0 289.9h0M407.2 309.8h0M416.7 295.9h0M404.6 290.3h0M411.7 292.8h0M418.8 308.3h0M401.7 306.5h0M421.6 307.9h0M402.8 292.3h0M401.3 309.0h0M416.2 306.9h0M390.6 310.0h0M401.9 294.6h0M395.9 299.0h0M409.9 291.2h0M421.7 301.7h0M398.5 299.3h0M394.7 311.6h0M419.1 299.7h0M403.0 308.1h0M413.2 308.2h0M412.7 290.9h0M418.8 306.1h0M421.0 307.1h0M398.0 300.7h0M396.4 302.9h0M411.9 308.6h0M420.4 301.5h0M401.2 308.2h0M408.7 310.8h0M407.3 292.1h0M429.7 302.7h0M411.6 294.3h0M410.9 293.5h0M401.3 306.9h0M407.4 308.6h0M417.8 297.0h0M409.9 289.2h0M398.2 311.6h0M398.3 303.4h0M417.7 292.8h0M417.6 298.0h0M415.6 307.4h0M412.2 309.0h0M417.1 297.4h0M419.8 298.8h0M404.9 290.3h0M393.8 299.7h0M400.3 293.9h0M398.7 298.9h0M410.2 312.2h0M393.9 306.9h0M426.6 300.9h0M393.7 296.4h0M419.7 292.7h0M420.5 300.6h0M404.2 292.2h0M404.7 288.5h0M422.2 305.0h0M424.1 306.4h0M415.6 309.9h0M397.5 304.5h0M392.3 305.6h0M419.3 295.6h0M408.2 309.4h0M430.0 305.7h0M407.8 291.7h0M411.7 315.7h0M407.5 294.3h0M416.4 297.0h0M391.2 302.0h0M417.4 297.7h0M406.7 311.7h0M418.6 305.7h0M414.3 293.3h0M398.5 295.5h0M418.9 299.2h0M409.0 310.9h0M407.0 291.2h0M395.3 291.9h0M415.4 307.7h0M403.3 308.8h0M398.9 295.9h0M414.7 307.6h0M425.0 301.8h0M415.0 308.1h0M404.7 290.4h0M402.3 307.0h0M406.7 309.2h0M420.2 305.3h0M410.9 309.0h0M398.0 303.2h0M415.8 312.7h0M417.3 296.6h0M408.1 308.5h0M403.4 310.3h0M413.1 308.6h0M399.4 305.6h0M407.0 309.8h0M406.1 293.0h0M416.8 311.2h0M404.3 290.5h0M411.1 309.0h0M416.8 290.0h0M419.3 298.6h0M404.5 294.6h0M408.4 308.4h0M395.1 297.8h0M395.1 298.1h0M399.5 309.4h0M416.6 308.7h0M397.9 302.6h0M402.1 306.5h0M410.1 314.5h0M397.8 301.7h0M417.1 295.7h0M401.6 306.3h0M395.3 308.6h0M435.8 299.4h0M418.6 300.2h0M416.2 292.4h0M395.5 309.1h0M406.3 292.8h0M419.9 298.5h0M417.6 306.2h0M396.8 299.0h0M418.8 294.4h0M419.5 298.7h0M398.3 304.4h0M407.0 294.4h0M423.8 303.7h0M398.1 303.4h0M425.7 310.2h0M409.5 310.7h0M398.5 304.9h0M418.9 308.7h0M409.4 289.7h0M436.3 297.0h0M398.8 309.2h0M417.7 304.1h0M397.5 298.7h0M416.9 295.5h0M411.6 293.5h0M403.9 308.8h0M420.8 305.0h0M401.2 307.6h0M419.3 301.7h0M422.2 303.9h0M418.5 293.5h0M403.9 307.4h0M407.2 294.2h0M414.2 308.5h0M405.4 313.2h0M403.7 308.7h0M418.3 309.1h0M398.3 300.4h0M419.4 302.9h0M402.8 307.5h0M414.8 295.6h0M416.8 298.4h0M414.1 294.7h0M392.7 299.4h0M402.4 308.4h0M419.2 303.5h0M411.7 290.4h0M398.3 306.3h0M405.7 308.3h0M395.5 297.7h0M413.9 307.9h0M400.5 296.5h0M417.6 307.2h0M392.1 305.3h0M411.6 293.9h0M402.6 291.9h0M398.8 302.7h0M399.3 297.6h0M395.6 310.9h0M410.2 308.3h0M419.1 300.7h0M405.0 312.2h0M412.1 294.9h0M419.9 296.4h0M414.3 308.8h0M413.5 309.1h0M393.3 300.9h0M406.4 309.3h0M417.6 296.2h0M414.4 307.7h0M408.9 293.4h0M392.4 299.0h0M397.2 302.2h0M393.5 289.9h0M416.9 306.3h0M406.0 287.5h0M398.5 296.1h0M417.6 304.9h0M413.6 291.6h0M424.9 315.3h0M401.0 295.7h0M418.1 301.4h0M413.7 291.6h0M399.5 294.9h0M409.4 309.8h0M417.6 308.1h0M394.2 303.9h0M398.1 295.7h0M395.4 299.4h0M406.9 310.1h0M402.0 295.1h0M409.9 310.1h0M402.4 294.9h0M406.2 294.3h0M397.0 302.5h0M417.0 298.5h0M406.2 293.0h0M416.2 310.4h0M399.6 297.9h0M395.4 294.7h0M418.6 295.5h0M406.1 293.2h0M397.9 304.0h0M414.6 310.0h0M412.7 288.2h0M397.7 300.7h0M400.5 307.3h0M416.2 294.1h0M395.3 305.4h0M416.8 296.9h0M409.4 309.7h0M389.4 297.8h0M419.1 292.7h0M423.0 300.0h0M424.1 303.9h0M419.1 306.9h0M392.5 301.4h0M396.8 289.5h0M410.4 292.1h0M422.3 302.7h0M403.0 307.0h0M414.6 308.7h0M419.1 299.5h0M398.9 298.0h0M413.7 307.7h0M403.8 294.6h0M411.8 308.6h0M413.8 294.0h0M400.2 306.5h0M398.3 290.5h0M415.0 307.7h0M417.5 310.1h0M416.3 296.9h0M404.0 307.8h0M399.9 292.8h0M406.7 294.4h0M396.8 301.4h0M392.7 295.1h0M418.5 299.6h0M408.3 294.0h0M412.7 307.9h0M420.0 300.6h0M398.3 304.7h0M402.5 289.0h0M419.2 297.9h0M423.5 304.2h0M415.5 295.4h0M409.5 294.1h0M398.9 298.5h0M399.6 309.5h0M397.2 300.9h0M424.7 308.5h0M415.3 296.3h0M405.8 309.4h0M403.4 308.6h0M396.8 297.3h0M412.3 309.9h0M410.1 294.2h0M401.7 306.0h0M421.8 297.8h0M402.4 308.3h0M401.2 295.6h0M403.6 309.0h0M400.1 293.3h0M408.7 308.9h0M420.9 295.2h0M396.2 296.7h0M396.2 298.8h0M414.5 294.1h0M406.0 290.3h0M396.1 303.0h0M389.3 301.8h0M413.9 292.2h0M421.2 303.2h0M413.9 295.3h0M406.4 292.3h0M398.3 301.3h0M398.9 302.4h0M395.2 297.2h0M397.0 293.9h0M395.6 301.1h0M404.6 312.0h0M415.1 296.3h0M396.7 309.1h0M407.5 309.0h0M407.1 309.6h0M402.7 307.1h0M415.8 306.6h0M418.2 300.6h0M418.9 308.1h0M403.0 293.0h0M395.6 301.2h0M418.4 296.8h0M398.2 299.2h0M406.6 310.3h0M398.0 291.4h0M422.7 294.0h0M416.1 310.3h0M402.5 306.6h0M404.9 293.6h0M414.9 295.6h0M421.3 301.1h0M408.0 311.0h0M412.2 308.2h0M400.3 305.4h0M413.0 292.1h0M416.7 306.9h0M404.7 310.5h0M407.5 292.1h0M402.5 295.0h0M416.2 294.5h0M392.8 298.1h0M403.3 308.1h0M419.3 300.8h0M399.0 296.9h0M406.4 294.1h0M412.3 290.4h0M397.6 304.2h0M420.1 296.6h0M411.4 313.7h0M399.1 303.8h0M412.7 295.4h0M404.8 294.7h0M397.3 301.1h0M416.8 305.6h0M395.3 297.4h0M397.4 304.1h0M387.1 298.2h0M399.5 294.0h0M412.1 308.1h0M398.5 299.1h0M418.0 290.2h0M418.1 306.3h0M417.5 298.0h0M398.4 297.0h0M431.4 299.8h0M412.3 293.6h0M418.3 301.8h0M397.9 303.2h0M402.3 295.0h0M406.2 289.4h0M400.9 306.9h0M423.4 289.3h0M409.5 312.0h0M391.4 299.6h0M417.5 296.7h0M398.5 301.2h0M404.0 307.4h0M402.7 291.3h0M394.2 300.7h0M408.0 308.8h0M411.3 308.7h0M418.4 299.0h0M408.8 294.0h0M398.2 297.2h0M405.1 294.2h0M422.2 302.8h0M410.4 292.2h0M421.6 297.5h0M399.6 305.9h0M401.8 295.0h0M418.0 303.4h0M418.1 301.0h0M400.8 291.2h0M416.9 291.9h0M399.4 305.6h0M420.4 301.8h0M419.7 292.8h0M405.7 309.9h0M402.4 312.4h0M412.4 308.3h0M415.4 306.9h0M398.3 303.3h0M417.2 298.3h0M422.4 303.3h0M410.2 315.1h0M384.3 304.8h0M422.5 291.4h0M397.7 298.8h0M419.3 302.4h0M397.0 297.5h0M422.4 295.5h0M433.3 305.0h0M424.1 302.4h0M423.3 302.5h0M410.6 292.8h0M407.3 309.6h0M401.3 306.3h0M397.1 297.8h0M408.7 293.7h0M424.5 301.1h0M400.5 294.3h0M417.6 293.9h0M418.6 304.4h0M399.9 296.9h0M420.7 305.7h0M420.2 298.8h0M396.9 305.0h0M401.8 306.3h0M400.8 306.8h0M394.4 301.1h0M394.6 300.5h0M408.9 310.5h0M397.1 302.0h0M393.4 307.4h0M400.3 296.1h0M398.4 297.5h0M418.9 308.4h0M394.1 299.3h0M416.1 295.9h0M399.0 310.4h0M414.5 307.8h0M417.9 305.2h0M421.6 307.8h0M398.7 289.3h0M406.8 290.1h0M419.0 304.2h0M418.1 299.4h0M400.2 306.4h0M417.5 298.0h0M415.4 294.7h0M403.7 289.5h0M419.0 308.2h0M423.8 304.9h0M422.4 299.7h0M413.7 310.0h0M420.3 299.4h0M403.3 295.1h0M403.8 294.9h0M419.8 297.8h0M435.3 302.6h0M398.6 306.9h0M400.5 294.0h0M392.9 301.0h0M414.4 296.3h0M417.8 306.5h0M433.6 309.7h0M418.3 302.4h0M401.3 308.0h0M397.7 309.6h0M397.2 293.9h0M420.7 297.1h0M405.0 308.0h0M401.3 308.6h0M414.8 296.5h0M400.9 309.1h0M423.5 304.6h0M416.6 291.0h0M419.4 303.4h0M405.3 307.9h0M397.5 303.6h0M398.6 305.8h0M410.8 309.0h0M406.2 308.7h0M409.1 294.5h0M390.5 307.9h0M417.3 296.4h0M420.8 301.4h0M405.6 308.1h0M394.7 294.6h0M400.0 307.4h0M396.7 304.5h0M394.0 297.6h0M380.9 302.2h0M417.9 297.2h0M414.3 295.9h0M418.2 302.6h0M400.3 310.6h0M412.9 295.0h0M403.9 293.6h0M394.8 299.4h0M406.2 293.7h0M400.3 296.5h0M400.1 296.8h0M406.2 293.8h0M417.8 311.7h0M397.1 300.4h0M422.3 301.3h0M407.4 291.0h0M414.4 294.8h0M398.6 302.9h0M397.3 305.4h0M412.7 310.8h0M396.6 303.7h0M393.4 303.1h0M389.1 295.4h0M410.6 294.0h0M416.8 309.0h0M418.2 295.7h0M412.5 290.0h0M416.8 294.1h0M403.3 308.6h0M408.7 308.7h0M403.1 293.0h0M408.1 292.3h0M421.1 301.0h0M407.9 309.1h0M408.3 309.6h0M399.0 294.1h0M415.9 296.7h0M392.3 296.3h0M414.9 307.6h0M411.1 293.8h0M414.9 308.4h0M410.1 294.1h0M417.0 296.7h0M413.3 308.1h0M421.6 296.6h0M407.6 311.7h0M406.7 309.7h0M412.2 293.2h0M406.6 293.8h0M407.6 309.8h0M399.5 303.9h0M418.8 295.6h0M397.1 301.0h0M425.6 305.0h0M421.8 304.6h0M417.2 294.9h0M396.7 298.8h0M421.9 300.4h0M400.7 296.5h0M424.0 306.7h0M404.1 290.5h0M419.1 298.2h0M420.2 305.4h0M399.1 303.4h0M422.7 300.3h0M424.5 300.1h0M411.9 290.5h0M394.7 307.2h0M405.7 309.1h0M421.4 296.3h0M415.7 307.5h0M426.2 298.4h0M417.7 308.3h0M416.7 297.1h0M419.3 303.2h0M397.6 297.1h0M398.4 302.4h0M399.5 305.3h0M393.3 298.3h0M416.7 307.0h0M405.0 309.3h0M416.6 306.3h0M398.8 304.1h0M409.9 293.0h0M396.5 297.2h0M418.9 304.3h0M406.4 316.4h0M393.3 306.0h0M409.8 309.1h0M418.5 305.4h0M403.9 310.8h0M381.0 298.7h0M402.8 293.5h0M407.4 310.6h0M398.6 299.9h0M415.3 308.2h0M405.6 308.9h0M410.6 309.3h0M419.7 304.4h0M416.0 296.8h0M395.7 301.5h0M398.8 292.3h0M406.8 310.4h0M417.5 298.5h0M408.0 309.7h0M408.3 310.4h0M407.8 310.0h0M426.6 298.8h0M397.6 295.1h0M408.8 292.5h0M409.1 290.1h0M403.8 293.1h0M416.6 297.6h0M410.2 309.3h0M417.9 308.2h0M389.5 308.0h0M398.0 301.4h0M395.9 301.2h0M410.1 309.3h0M392.9 296.6h0M396.5 301.5h0M398.0 299.0h0M399.4 297.2h0M395.0 295.5h0M408.2 293.3h0M413.1 295.0h0M415.7 297.1h0M404.0 308.1h0M416.5 297.0h0M398.7 306.4h0M401.8 294.5h0M407.6 311.3h0M402.7 312.8h0M419.6 306.4h0M415.2 296.5h0M416.8 306.2h0M390.3 294.9h0M417.1 307.2h0M394.6 306.7h0M420.4 299.1h0M396.2 299.6h0M410.6 293.4h0M418.8 300.5h0M396.4 307.5h0M407.2 291.9h0M415.4 311.4h0M404.8 293.0h0M415.8 295.9h0M396.1 304.1h0M406.7 314.0h0M395.5 287.0h0M414.4 307.6h0M424.5 295.3h0M419.5 297.4h0M408.5 289.9h0M397.7 307.4h0M410.4 293.4h0M399.3 305.5h0M396.6 304.2h0M417.5 296.0h0M416.9 307.2h0M400.5 307.0h0M396.8 299.9h0M418.3 303.0h0M405.3 309.3h0M397.9 302.5h0M405.9 311.2h0M403.3 294.3h0M418.7 297.2h0M420.5 304.2h0M397.8 302.9h0M410.2 308.6h0M419.4 296.6h0M398.3 304.2h0M409.4 309.3h0M396.1 306.6h0M392.3 292.6h0M409.0 291.9h0M417.5 297.5h0M417.6 304.6h0M415.1 294.5h0M407.1 308.6h0M403.1 314.4h0M412.3 293.7h0M421.7 304.9h0M421.8 300.3h0M420.9 301.9h0M419.1 296.8h0M411.8 295.0h0M416.9 305.4h0M412.0 293.4h0M421.8 299.2h0M409.9 308.6h0M412.8 293.5h0M402.7 292.8h0M416.6 307.3h0M408.4 309.8h0M400.1 304.9h0M420.6 296.5h0M396.8 294.4h0M409.4 308.8h0M418.5 303.8h0M423.1 304.8h0M406.9 294.1h0M409.7 312.9h0M396.6 300.5h0M416.3 308.0h0M412.4 308.9h0M418.9 301.6h0M384.4 307.0h0M410.8 294.1h0M411.4 294.3h0M396.2 299.8h0M414.9 296.2h0M407.1 313.3h0M416.4 309.3h0M407.8 294.1h0M416.9 288.7h0M404.0 308.0h0M417.7 297.7h0M401.2 313.6h0M412.5 308.4h0M396.7 300.9h0M418.8 305.7h0M409.9 293.9h0M417.4 292.5h0M397.1 301.3h0M417.8 304.8h0M416.8 298.4h0M411.8 295.0h0M414.0 309.8h0M412.3 309.6h0M414.1 307.9h0M399.0 303.9h0M418.7 305.2h0M404.6 294.6h0M413.9 307.6h0M419.1 304.9h0M412.1 308.8h0M416.9 297.5h0M420.5 305.7h0M426.6 301.2h0M406.0 308.6h0M408.8 312.7h0M417.8 308.5h0M405.2 309.4h0M406.0 312.9h0M400.3 305.1h0M399.0 306.3h0M411.4 294.9h0M401.3 289.0h0M402.0 306.8h0M400.6 312.2h0M422.7 303.8h0M397.7 302.3h0M392.0 303.7h0M421.3 307.1h0M408.7 294.0h0M420.1 307.6h0M403.7 294.9h0M398.2 300.9h0M420.0 291.2h0M403.1 294.3h0M412.0 311.9h0M396.9 299.6h0M387.6 305.8h0M400.1 296.5h0M418.2 298.7h0M415.1 307.2h0M407.1 308.8h0M408.0 309.3h0M385.5 309.2h0M392.9 302.6h0M414.2 308.8h0M402.8 307.6h0M400.1 295.8h0M395.3 299.9h0M414.3 293.8h0M423.2 296.7h0M394.4 299.9h0M418.0 300.7h0M416.0 313.5h0M422.7 299.5h0M409.6 288.3h0M396.0 302.1h0M419.7 299.4h0M402.8 307.4h0M398.6 300.4h0M398.5 299.1h0M410.8 310.6h0M421.1 305.3h0M411.9 293.9h0M401.3 289.8h0M420.3 306.6h0M396.9 302.2h0M398.9 297.5h0M402.4 308.3h0M397.5 301.3h0M398.8 299.1h0M401.0 294.4h0M409.7 293.3h0M406.1 293.3h0M402.5 295.1h0M417.8 308.3h0M420.3 301.2h0M399.3 296.7h0M402.9 308.9h0M417.9 303.8h0M413.8 309.0h0M397.1 298.4h0M396.0 298.6h0M415.9 309.4h0M418.5 298.8h0M409.6 309.2h0M417.8 305.0h0M406.8 309.6h0M402.4 307.9h0M397.4 303.1h0M404.1 308.8h0M400.0 294.8h0M397.6 296.5h0M400.4 291.5h0M419.7 296.2h0M430.1 310.9h0M409.1 310.1h0M414.6 307.8h0M419.3 301.5h0M420.1 294.6h0M416.3 306.9h0M394.0 299.5h0M405.3 293.2h0M413.9 308.3h0M403.5 307.6h0M392.3 308.0h0M419.3 307.8h0M414.2 311.8h0M405.3 287.1h0M403.0 308.2h0M412.2 294.4h0M421.6 300.9h0M414.8 296.0h0M418.0 289.7h0M400.4 296.2h0M416.4 310.7h0M398.6 298.6h0M421.2 307.8h0M397.7 300.9h0M421.4 296.5h0M388.7 294.0h0M397.6 303.8h0M396.1 302.0h0M398.9 305.1h0M398.3 306.6h0M406.4 290.4h0M397.3 301.9h0M404.4 289.2h0M416.0 295.7h0M412.9 308.6h0M422.0 297.9h0M425.2 303.0h0M415.8 294.0h0M419.8 306.8h0M410.2 294.5h0M398.6 302.8h0M415.9 295.3h0M409.2 294.4h0M406.4 291.5h0M396.3 299.3h0M386.2 306.4h0M399.6 294.4h0M402.6 294.6h0M406.4 292.5h0M416.5 297.8h0M412.5 314.8h0M396.6 298.1h0M419.2 299.3h0M416.2 308.5h0M393.3 300.6h0M416.8 307.9h0M414.6 310.6h0M416.7 287.9h0M411.2 292.3h0M421.1 299.6h0M416.5 295.6h0M396.7 299.8h0M403.4 294.5h0M404.8 294.5h0M409.9 288.1h0M418.4 303.4h0M416.7 311.8h0M413.6 295.0h0M418.5 302.1h0M403.5 293.4h0M397.4 306.7h0M414.1 308.8h0M403.7 293.1h0M409.1 311.5h0M418.5 303.1h0M400.0 296.6h0M395.0 300.3h0M411.3 308.3h0M418.9 299.5h0M412.2 294.9h0M402.1 295.6h0M397.5 304.6h0M390.4 306.3h0M395.1 305.9h0M401.7 293.3h0M404.8 294.3h0M413.7 309.1h0M396.4 306.3h0M389.0 295.0h0M419.7 305.6h0M404.0 308.7h0M401.5 306.4h0M413.3 294.4h0M412.4 311.8h0M419.3 297.4h0M411.6 308.3h0M402.0 294.9h0M405.0 292.1h0M409.3 310.2h0M419.8 299.1h0M405.4 293.9h0M403.0 294.4h0M413.8 309.4h0M397.4 298.8h0M410.4 316.5h0M413.4 308.5h0M420.8 303.3h0M406.7 312.0h0M408.5 309.6h0M414.5 307.6h0M404.5 308.3h0M393.6 299.0h0M407.5 290.8h0M418.2 297.2h0M422.3 300.7h0M406.4 294.0h0M421.0 304.9h0M405.6 292.9h0M403.4 309.3h0M405.1 293.2h0M401.7 308.2h0M409.4 293.6h0M394.5 305.0h0M405.5 310.1h0M419.0 297.7h0M402.8 295.0h0M417.6 306.4h0M400.7 308.0h0M398.7 299.0h0M416.5 296.8h0M404.5 308.2h0M411.9 293.9h0M419.6 293.0h0M414.0 295.4h0M415.6 290.2h0M409.3 309.1h0M400.4 296.9h0M415.2 291.5h0M397.1 290.7h0M414.7 309.9h0M405.8 308.2h0M422.8 309.6h0M424.2 303.3h0M422.6 293.7h0M413.9 308.9h0M405.4 291.4h0M403.9 294.2h0M397.9 301.8h0M420.6 301.1h0M398.0 307.5h0M419.8 304.7h0M396.5 298.9h0M395.3 303.6h0M411.0 309.8h0M414.6 309.3h0M394.8 294.7h0M407.3 309.3h0M420.8 300.6h0M419.4 312.1h0M425.1 306.9h0M407.4 309.3h0M415.5 309.7h0M404.6 291.6h0M395.7 302.2h0M404.2 294.7h0M419.4 300.2h0M420.0 302.5h0M416.8 306.1h0M392.5 306.9h0M417.0 294.6h0M383.5 301.7h0M418.0 296.6h0M421.2 305.7h0M399.3 298.0h0M401.7 308.2h0M405.8 293.9h0M407.1 293.4h0M408.1 290.0h0M419.1 302.9h0M418.5 296.5h0M413.4 291.8h0M398.8 296.6h0M419.0 302.2h0M399.5 296.6h0M411.5 293.2h0M427.3 305.2h0M393.6 308.4h0M406.9 294.4h0M399.1 303.1h0M424.9 303.8h0M401.3 293.2h0M413.3 294.9h0M394.9 299.0h0M397.8 302.2h0M398.7 299.2h0M412.6 309.7h0M417.4 305.4h0M409.1 308.5h0M418.1 306.6h0M411.2 308.3h0M398.3 305.0h0M412.7 295.2h0M392.3 311.5h0M399.5 313.5h0M426.4 304.1h0M410.6 294.0h0M412.8 313.8h0M409.2 311.0h0M412.9 314.0h0M404.3 311.4h0M413.6 312.0h0M413.1 295.0h0M396.6 304.4h0M408.3 310.0h0M410.2 310.2h0M399.2 292.2h0M414.6 293.0h0M409.3 311.4h0M403.3 308.2h0M417.3 310.4h0M399.6 304.7h0M395.3 303.5h0M399.3 297.9h0M418.0 305.5h0M418.7 302.7h0M414.6 308.7h0M399.8 308.3h0M418.7 303.9h0M402.3 287.4h0M418.7 302.8h0M396.6 300.9h0M396.9 302.7h0M400.6 295.7h0M396.3 300.1h0M398.4 301.1h0M398.3 300.9h0M397.4 306.9h0M410.0 294.3h0M412.6 290.2h0M416.1 310.7h0M397.8 300.2h0M397.0 300.4h0M398.2 295.0h0M402.0 294.1h0M404.0 294.1h0M399.3 295.8h0M409.5 308.5h0M404.8 311.5h0M401.3 292.8h0M401.5 308.7h0M416.7 307.5h0M405.8 293.7h0M415.1 310.9h0M417.4 298.0h0M398.2 298.8h0M402.5 309.8h0M404.4 307.6h0M397.5 303.7h0M412.8 294.6h0M416.6 298.0h0M416.6 287.3h0M411.2 292.8h0M410.9 291.9h0M407.6 290.8h0M393.4 301.7h0M397.6 306.0h0M397.9 301.9h0M398.1 303.5h0M414.8 293.5h0M399.2 303.8h0M433.6 300.6h0M415.4 295.5h0M418.5 301.4h0M417.5 295.8h0M416.5 306.3h0M421.0 307.5h0M403.1 307.4h0M421.3 304.6h0M396.1 297.3h0M422.0 302.3h0M411.0 294.7h0M418.9 302.4h0M423.8 298.0h0M415.6 296.9h0M405.8 290.6h0M411.0 293.8h0M419.7 304.0h0M400.5 294.5h0M423.2 301.3h0M405.5 308.6h0M395.0 305.4h0M401.8 295.1h0M402.8 307.9h0M399.9 296.1h0M401.2 306.1h0M414.9 290.4h0M419.7 303.2h0M399.4 296.9h0M416.8 305.6h0M398.3 308.2h0M416.8 297.7h0M395.0 297.2h0M409.6 309.0h0M412.5 309.1h0M403.6 308.4h0M399.3 297.0h0M418.5 301.0h0M409.5 310.0h0M418.3 303.5h0M393.8 299.1h0M397.2 297.6h0M399.7 292.9h0M404.6 307.9h0M403.0 308.7h0M405.2 293.8h0M401.2 295.6h0M414.2 308.5h0M415.8 308.8h0M403.0 294.7h0M398.4 301.3h0M414.4 308.0h0M416.3 306.4h0M417.3 312.3h0M398.8 296.0h0M418.9 296.6h0M398.1 300.7h0M401.1 305.9h0M397.2 303.1h0M389.8 297.9h0M399.3 306.2h0M397.8 295.7h0M400.2 295.7h0M419.5 301.5h0M399.8 304.9h0M402.8 292.2h0M408.9 312.7h0M402.6 307.8h0M395.3 300.9h0M392.4 298.7h0M400.4 306.1h0M415.5 287.3h0M416.1 296.8h0M415.7 297.0h0M414.0 308.3h0M397.7 300.7h0M413.2 293.0h0M403.5 307.7h0M419.8 301.9h0M403.2 295.0h0M413.5 308.5h0M390.8 298.9h0M403.0 294.3h0M411.0 315.3h0M414.2 311.6h0M412.7 293.0h0M407.3 292.7h0M405.3 293.9h0M418.6 307.5h0M404.6 294.5h0M428.3 299.8h0M420.1 298.1h0M421.2 298.8h0M414.2 307.9h0M418.9 298.6h0M397.0 299.0h0M396.4 303.0h0M404.9 294.7h0M415.0 310.3h0M398.8 297.6h0M402.1 295.7h0M399.2 305.6h0M417.7 299.3h0M418.2 304.0h0M415.9 309.1h0M395.4 299.6h0M404.4 293.9h0M400.9 308.0h0M418.1 298.6h0M402.2 309.5h0M398.2 304.0h0M408.8 308.8h0M395.8 304.0h0M419.3 305.8h0M406.7 290.2h0M403.4 311.6h0M402.2 292.6h0M401.6 294.8h0M396.9 294.5h0M418.2 305.6h0M398.7 296.2h0M404.3 293.5h0M417.0 307.1h0M395.5 296.0h0M397.5 302.2h0M408.8 293.3h0M423.9 297.7h0M414.5 308.6h0M414.1 311.0h0M398.1 304.9h0M415.6 295.5h0M392.9 294.5h0M424.0 302.9h0M393.8 304.2h0M403.3 307.8h0M410.7 294.3h0M420.5 302.5h0M403.1 291.4h0M398.3 300.2h0M407.8 308.3h0M398.0 306.0h0M414.5 307.4h0M398.6 297.9h0M411.0 291.4h0M416.1 290.1h0M410.0 293.3h0M398.3 300.9h0M411.4 313.4h0M417.3 298.8h0M403.3 307.3h0M434.0 313.6h0M407.1 291.2h0M406.2 293.5h0M409.0 294.4h0M422.2 310.2h0M405.9 310.2h0M415.4 295.6h0M405.2 309.9h0M422.0 302.6h0M409.9 294.3h0M424.0 299.0h0M397.5 297.7h0M411.3 314.6h0M410.6 310.7h0M417.5 293.6h0M396.5 301.5h0M399.4 306.4h0M422.5 295.9h0M419.1 298.4h0M401.8 294.5h0M395.4 302.0h0M409.3 309.0h0M398.3 291.5h0M405.8 308.8h0M417.7 308.0h0M418.2 302.7h0M422.2 303.7h0M407.4 309.1h0M420.4 314.4h0M416.6 296.9h0M401.6 293.0h0M417.0 307.5h0M409.1 310.4h0M419.9 298.8h0M421.9 301.2h0M399.1 297.5h0M415.1 309.9h0M403.9 309.8h0M425.5 299.6h0M403.0 294.6h0M415.2 310.9h0M396.4 300.1h0M410.6 311.4h0M408.4 308.4h0M410.7 308.3h0M400.4 305.9h0M405.7 293.8h0M419.4 300.2h0M411.4 311.1h0M391.0 304.4h0M409.8 291.7h0M392.6 299.6h0M411.3 294.1h0M414.5 307.7h0M404.3 288.4h0M397.8 302.0h0M394.8 294.8h0M413.7 310.7h0M396.8 298.2h0M397.2 301.4h0M397.3 298.7h0M408.7 311.7h0M415.3 296.3h0M415.5 308.3h0M423.4 295.2h0M405.0 308.0h0M412.1 292.8h0M417.6 295.8h0M424.7 305.2h0M417.4 296.1h0M403.4 288.9h0M420.3 295.5h0M394.0 307.5h0M418.4 295.1h0M419.8 298.4h0M403.5 308.2h0M402.1 287.8h0M416.6 292.6h0M414.5 295.0h0M415.5 295.4h0M413.6 292.2h0M422.3 306.2h0M393.9 297.3h0M391.5 299.7h0M414.4 292.8h0M416.4 296.9h0M397.0 302.5h0M417.2 297.3h0M397.0 310.2h0M394.2 297.9h0M421.2 302.4h0M410.4 312.7h0M418.2 295.1h0M408.0 288.6h0M402.0 307.5h0M419.2 306.2h0M420.0 299.6h0M406.8 309.6h0M403.6 307.8h0M393.9 298.5h0M409.2 308.9h0M417.6 298.7h0M416.1 290.1h0M396.3 298.8h0M416.4 297.7h0M413.1 315.3h0M400.5 295.4h0M404.1 308.0h0M419.8 300.1h0M397.6 297.8h0M419.4 304.9h0M399.9 305.9h0M396.4 298.7h0M420.8 307.9h0M398.1 313.4h0M401.7 314.3h0M416.2 296.9h0M405.7 315.0h0M398.2 302.4h0M406.6 308.8h0M409.2 291.2h0M414.7 307.3h0M392.4 302.7h0M407.6 294.4h0M399.2 298.4h0M414.0 308.8h0M420.0 302.0h0M422.7 307.4h0M411.1 308.7h0M402.5 290.9h0M411.0 294.7h0M420.2 298.0h0M409.4 308.9h0M399.6 295.7h0M418.6 303.2h0M404.0 308.2h0M418.9 305.9h0M397.8 307.7h0M409.7 308.9h0M414.5 296.1h0M423.5 294.7h0M410.7 290.2h0M402.5 307.2h0M405.5 308.6h0M419.0 297.1h0M418.0 304.8h0M393.8 307.4h0M407.2 291.6h0M403.1 310.0h0M413.0 309.0h0M399.1 298.3h0M397.0 306.6h0M407.1 291.6h0M408.7 310.9h0M421.7 302.6h0M402.3 295.5h0M406.8 293.4h0M414.4 292.5h0M406.0 308.0h0M414.1 295.3h0M400.3 295.0h0M404.8 308.8h0M416.0 296.8h0M413.6 295.7h0M406.6 293.1h0M398.4 305.6h0M415.5 314.6h0M414.1 292.3h0M412.8 294.9h0M407.9 293.4h0M403.8 311.6h0M410.5 309.8h0M408.9 310.2h0M412.0 309.0h0M406.0 289.3h0M409.6 310.8h0M411.7 308.4h0M411.7 310.9h0M407.9 310.9h0M405.1 311.4h0M418.7 295.2h0M412.5 288.4h0M413.4 287.3h0M394.1 302.7h0M418.0 304.6h0M410.8 309.8h0M395.7 298.9h0M418.3 298.3h0M405.8 294.0h0M402.4 311.6h0M403.5 312.7h0M402.3 314.4h0M415.5 294.0h0M418.2 301.2h0M424.3 311.3h0M416.4 308.8h0M412.5 310.3h0M412.8 295.2h0M399.9 296.6h0M401.8 294.7h0M430.1 300.3h0M412.8 309.9h0M416.5 307.2h0M419.1 304.6h0M430.2 309.7h0M400.0 307.0h0M414.3 295.6h0M399.8 308.5h0M404.8 289.4h0M413.3 290.5h0M405.9 294.2h0M409.4 312.1h0M396.3 302.5h0M412.4 293.1h0M413.8 290.1h0M422.0 308.9h0M398.9 305.5h0M424.4 301.6h0M418.4 303.7h0M412.2 292.3h0M398.2 303.8h0M427.6 300.4h0M432.8 299.1h0M419.4 296.6h0M414.8 312.9h0M418.0 298.1h0M421.0 304.7h0M398.0 298.2h0M403.7 294.7h0M419.7 302.9h0M391.6 299.8h0M417.8 303.8h0M399.0 293.8h0M407.2 309.2h0M423.4 294.2h0M397.1 298.2h0M385.2 300.2h0M395.9 300.2h0M404.1 308.1h0M418.7 301.8h0M400.0 304.9h0M394.8 297.0h0M398.7 290.9h0M420.6 299.6h0M397.5 299.7h0M400.1 295.1h0M398.3 293.1h0M416.5 295.8h0M395.2 303.4h0M396.7 297.7h0M405.7 293.8h0M418.5 304.7h0M399.3 297.7h0M397.8 298.0h0M401.9 295.6h0M414.8 308.8h0M397.3 294.2h0M430.0 304.2h0M420.2 301.5h0M420.0 302.9h0M404.4 311.2h0M399.4 296.1h0M395.9 302.9h0M411.1 308.3h0M395.0 297.6h0M397.6 298.5h0M403.6 308.2h0M405.3 294.4h0M413.3 294.8h0M420.7 299.6h0M412.7 295.3h0M396.1 305.3h0M398.4 296.8h0M421.5 299.2h0M398.8 304.4h0M409.4 293.9h0M395.9 306.5h0M418.9 300.9h0M397.8 302.0h0M418.5 303.5h0M414.3 295.8h0M400.2 291.2h0M405.6 308.0h0M400.0 307.4h0M389.6 297.9h0M402.4 310.4h0M413.4 293.2h0M395.1 295.5h0M396.3 300.4h0M397.9 301.7h0M414.7 307.9h0M415.5 313.0h0M400.5 292.7h0M407.1 294.2h0M422.3 302.7h0M400.3 296.1h0M404.3 309.6h0M394.5 309.9h0M402.9 308.3h0M415.3 294.2h0M393.4 298.3h0M401.1 295.7h0M402.6 290.1h0M407.8 290.5h0M424.0 302.8h0M410.6 294.4h0M396.5 298.7h0M418.8 297.4h0M388.2 301.9h0M412.1 289.7h0M424.0 296.9h0M425.4 305.6h0M419.0 297.4h0M410.4 308.6h0M416.9 306.1h0M397.8 296.8h0M413.6 310.3h0M394.8 302.0h0M418.5 305.1h0M405.4 308.7h0M397.5 294.6h0M399.3 305.7h0M419.5 312.2h0M396.4 298.6h0M428.5 309.0h0M418.8 304.3h0M409.9 308.4h0M401.4 307.7h0M419.1 303.5h0M397.5 302.6h0M413.4 309.6h0M401.3 309.4h0M414.1 308.6h0M417.7 299.4h0M399.2 297.8h0M386.9 300.4h0M406.2 294.2h0M419.6 304.8h0M404.7 292.6h0M399.1 288.7h0M398.4 300.3h0M417.3 295.6h0M398.6 306.7h0M418.1 293.9h0M418.5 307.1h0M405.4 289.0h0M416.0 306.6h0M396.0 301.2h0M405.8 289.8h0M417.5 305.4h0M419.8 290.1h0M394.8 290.8h0M395.6 297.7h0M407.0 313.0h0M419.3 303.4h0M415.6 296.9h0M407.7 294.0h0M400.0 308.4h0M405.6 292.7h0M400.2 306.2h0M407.6 290.7h0M402.5 294.7h0M429.0 298.6h0M405.4 308.4h0M399.1 308.7h0M401.5 295.7h0M404.5 308.1h0M419.6 297.9h0M403.6 307.3h0M417.3 293.1h0M397.7 293.1h0M421.0 302.2h0M403.4 307.9h0M390.4 299.1h0M389.9 303.4h0M398.0 300.6h0M416.8 306.5h0M421.9 303.7h0M394.9 311.5h0M410.9 308.5h0M413.3 294.1h0M410.0 294.1h0M423.0 301.0h0M402.8 308.9h0M421.5 298.8h0M420.0 301.5h0M426.4 312.7h0M402.0 307.4h0M419.4 301.7h0M398.9 302.7h0M401.6 292.5h0M404.2 307.5h0M411.3 293.0h0M406.4 294.1h0M397.2 302.2h0M401.4 309.0h0M400.2 307.2h0M405.7 308.3h0M420.2 302.3h0M404.7 293.7h0M417.7 314.6h0M419.3 300.9h0M399.9 293.2h0M400.3 306.8h0M390.1 308.9h0M419.2 301.2h0M420.8 296.2h0M418.1 304.3h0M400.0 296.2h0M418.5 299.4h0M415.8 296.5h0M398.4 297.6h0M397.2 309.6h0M418.7 300.8h0M416.4 294.8h0M403.8 291.7h0M409.5 294.2h0M420.4 289.2h0M413.0 316.2h0M420.0 304.8h0M402.3 306.7h0M404.0 294.1h0M415.9 307.2h0M419.5 310.3h0M425.7 300.0h0M403.0 307.6h0M420.9 310.7h0M414.2 312.9h0M409.1 287.5h0M418.7 300.2h0M410.6 310.8h0M401.2 306.6h0M415.7 314.9h0M416.9 308.0h0M404.4 293.4h0M418.7 298.1h0M409.6 311.3h0M406.2 310.6h0M398.7 301.2h0M425.4 302.5h0M414.5 293.0h0M397.3 305.4h0M420.1 303.6h0M431.4 302.1h0M417.1 298.5h0M418.1 309.2h0M423.2 304.3h0M419.5 303.2h0M420.0 302.0h0M419.6 302.2h0M399.3 305.3h0M396.4 298.8h0M398.6 295.8h0M423.8 301.5h0M416.4 310.7h0M416.6 308.6h0M415.8 296.8h0M405.6 308.2h0M409.4 292.9h0M419.8 302.9h0M398.6 304.7h0M404.3 294.6h0M416.2 297.6h0M398.2 303.3h0M398.4 304.8h0M413.8 312.1h0M396.6 299.3h0M406.4 292.9h0M397.1 300.3h0M415.3 308.0h0M397.6 298.9h0M399.4 297.3h0M412.3 291.1h0M401.9 294.4h0M420.7 313.5h0M420.2 301.5h0M398.6 300.9h0M420.7 299.6h0M406.0 293.6h0M417.0 307.4h0M417.7 304.1h0M422.5 307.7h0M419.5 299.0h0M414.9 313.8h0M399.7 295.8h0M396.9 301.6h0M417.5 298.0h0M435.3 290.2h0M424.5 305.6h0M407.8 293.7h0M400.9 309.2h0M400.4 308.8h0M395.2 303.9h0M398.8 299.6h0M400.3 294.9h0M398.6 301.7h0M396.6 300.8h0M398.5 295.9h0M412.9 291.0h0M426.2 298.5h0M403.1 307.4h0M413.7 295.6h0M414.7 292.6h0M417.6 305.4h0M418.7 298.5h0M420.9 299.2h0M410.5 314.2h0M403.2 308.6h0M415.7 307.6h0M397.3 302.9h0M418.4 300.7h0M399.7 297.2h0M404.4 290.6h0M412.0 310.9h0M416.9 307.5h0M399.8 294.3h0M406.7 318.4h0M398.3 299.5h0M418.8 307.6h0M418.9 303.1h0M421.9 300.7h0M408.1 312.5h0M416.8 297.9h0M385.2 300.7h0M389.7 302.0h0M401.4 306.2h0M408.5 289.6h0M400.2 297.0h0M416.3 297.3h0M422.9 305.8h0M397.4 296.0h0M397.4 297.8h0M405.7 292.7h0M418.5 298.9h0M402.9 311.3h0M404.7 308.4h0M413.6 314.0h0M394.7 293.8h0M398.1 301.2h0M418.2 302.2h0M414.7 296.4h0M401.8 306.5h0M419.9 292.2h0M416.5 294.9h0M402.2 311.8h0M414.9 315.3h0M406.1 315.2h0M402.7 308.4h0M415.0 293.2h0M428.0 307.1h0M410.3 294.5h0M415.1 294.3h0M404.3 293.3h0M408.3 292.2h0M419.2 308.3h0M399.9 306.6h0M401.4 309.7h0M409.9 292.3h0M419.0 307.0h0M398.4 301.8h0M400.7 305.7h0M413.1 295.5h0M404.6 309.4h0M399.4 294.8h0M418.6 297.4h0M416.1 307.4h0M419.3 301.6h0M398.4 296.1h0M402.0 308.7h0M399.2 309.3h0M418.2 304.5h0M398.6 301.7h0M418.3 296.7h0M399.6 304.0h0M396.6 304.3h0M419.0 297.8h0M399.5 297.6h0M403.3 307.6h0M406.2 308.4h0M413.9 295.4h0M401.8 293.3h0M404.7 308.4h0M399.3 294.2h0M403.0 294.6h0M397.2 303.6h0M418.2 311.5h0M418.7 304.6h0M400.6 306.5h0M409.3 293.4h0M421.3 298.7h0M409.2 293.4h0M419.5 298.9h0M400.6 308.7h0M412.5 310.5h0M404.5 309.0h0M412.1 313.0h0M400.7 296.3h0M421.3 300.8h0M418.8 313.5h0M394.1 300.2h0M419.3 303.6h0M399.3 303.8h0M420.9 311.1h0M415.6 307.3h0M401.0 294.0h0M408.4 310.2h0M407.7 293.8h0M424.3 302.1h0M404.4 307.9h0M415.7 306.5h0M399.4 289.5h0M411.1 292.8h0M403.5 294.9h0M399.8 304.5h0M395.1 298.5h0M415.8 308.9h0M399.0 302.6h0M420.9 309.2h0M400.5 306.1h0M408.2 292.7h0M402.2 307.2h0M416.8 296.8h0M404.1 307.7h0M411.3 293.9h0M416.2 292.0h0M413.8 295.2h0M406.6 308.3h0M405.1 312.4h0M402.0 295.2h0M417.7 306.6h0M404.6 294.3h0M420.8 301.1h0M417.5 296.9h0M402.3 307.9h0M394.2 296.8h0M398.7 305.3h0M404.1 294.5h0M399.4 307.2h0M421.1 301.3h0M397.9 302.8h0M411.6 312.9h0M415.8 307.2h0M420.1 298.6h0M404.2 286.9h0M397.1 297.6h0M404.9 309.9h0M412.4 308.2h0M404.2 307.5h0M401.4 296.1h0M416.0 306.5h0M402.7 307.1h0M398.1 305.9h0M401.8 306.3h0M394.1 302.9h0M408.8 310.8h0M416.7 307.0h0M404.7 308.5h0M414.8 293.8h0M414.5 311.1h0M416.8 308.8h0M412.0 294.1h0M423.2 304.5h0M411.5 309.7h0M398.5 294.6h0M395.9 300.9h0M396.9 304.8h0M413.9 309.1h0M401.9 307.5h0M397.0 298.9h0M416.9 292.6h0M403.3 309.2h0M402.2 308.5h0M405.0 312.5h0M416.4 293.2h0M418.4 299.5h0M398.5 305.1h0M409.5 309.1h0M421.6 308.1h0M398.5 298.4h0M391.2 292.4h0M395.2 312.8h0M393.7 299.4h0M389.7 304.9h0M412.1 291.8h0M410.1 293.8h0M403.2 295.1h0M393.7 305.6h0M413.4 293.8h0M402.7 306.8h0M404.4 308.3h0M405.7 294.1h0M400.6 306.3h0M402.0 291.7h0M397.1 287.8h0M394.4 289.3h0M405.5 310.1h0M394.6 307.5h0M394.5 297.2h0M399.7 307.5h0M417.1 298.6h0M415.8 293.2h0M396.1 301.0h0M400.5 307.6h0M396.6 302.4h0M396.6 292.3h0M428.0 299.4h0M407.4 292.8h0M399.6 306.0h0M419.2 310.9h0M416.6 298.0h0M418.1 300.7h0M413.6 295.1h0M405.5 291.7h0M420.7 301.4h0M404.8 310.8h0M405.6 292.1h0M410.9 293.4h0M415.6 309.7h0M410.7 308.5h0M416.6 296.4h0M399.9 296.6h0M387.5 300.5h0M395.1 299.8h0M430.7 313.2h0M396.6 299.2h0M413.4 295.5h0M416.2 311.2h0M419.6 303.2h0M418.8 299.1h0M398.4 293.2h0M421.2 304.5h0M407.1 294.2h0M400.2 305.1h0M405.3 308.1h0M398.3 301.6h0M423.8 309.5h0M401.6 293.1h0M417.9 299.4h0M398.9 296.0h0M397.2 310.6h0M397.4 299.2h0M410.8 308.6h0M418.5 299.9h0M414.3 292.8h0M406.7 308.5h0M419.3 296.6h0M419.9 298.4h0M398.3 305.3h0M397.3 305.5h0M419.0 299.1h0M418.3 308.5h0M399.7 305.2h0M418.6 300.8h0M414.6 294.8h0M416.3 310.0h0M429.5 303.7h0M432.1 304.7h0M420.4 305.7h0M407.7 294.2h0M399.2 306.8h0M414.6 308.7h0M411.8 309.7h0M395.5 308.7h0M400.1 296.5h0M401.0 292.2h0M404.9 294.1h0M394.1 307.3h0M416.1 313.8h0M398.1 304.5h0M395.6 305.1h0M401.9 295.2h0M420.9 302.9h0M405.7 309.6h0M399.3 294.8h0M405.7 307.9h0M398.4 297.2h0M417.1 296.3h0M395.4 294.5h0M410.5 308.9h0M418.1 297.7h0M402.4 306.8h0M415.9 296.2h0M404.5 293.4h0M411.3 314.3h0M397.2 297.0h0M424.3 301.5h0M404.4 312.5h0M406.3 294.2h0M404.3 308.5h0M397.4 297.8h0M399.9 305.5h0M418.7 298.4h0M396.5 303.3h0M415.9 308.5h0M419.8 300.3h0M416.2 295.9h0M421.3 295.2h0M403.2 294.3h0M426.1 303.0h0M415.5 294.8h0M394.8 301.1h0M398.6 298.0h0M418.6 298.4h0M410.8 292.4h0M408.7 310.3h0M403.1 307.8h0M408.4 290.2h0M400.2 296.7h0M403.6 295.0h0M423.6 296.6h0M395.9 299.9h0M419.1 302.5h0M401.5 291.4h0M400.5 295.3h0M413.2 288.3h0M412.1 293.4h0M421.7 302.5h0M405.4 309.2h0M405.7 309.1h0M402.8 290.7h0M403.4 292.6h0M418.1 297.6h0M397.2 303.4h0M395.9 302.3h0M399.8 307.7h0M420.1 301.8h0M401.2 306.1h0M402.5 294.5h0M396.9 297.9h0M418.6 304.3h0M406.7 292.7h0M398.5 302.2h0M421.9 306.3h0M402.5 306.8h0M397.6 300.1h0M407.7 293.3h0M403.3 307.6h0M394.0 293.0h0M419.1 306.6h0M393.1 303.7h0M403.6 309.8h0M414.2 291.6h0M418.5 296.7h0M415.6 296.4h0M424.4 297.2h0M419.0 299.5h0M393.9 298.2h0M395.6 300.8h0M403.7 310.2h0M416.9 306.2h0M390.3 304.0h0M396.2 307.9h0M402.0 308.8h0M411.1 309.3h0M417.7 304.8h0M398.9 295.9h0M420.3 301.3h0M405.1 293.1h0M422.7 312.1h0M400.3 308.9h0M406.9 309.3h0M418.3 305.2h0M411.6 310.6h0M409.5 308.7h0M398.1 304.5h0M398.7 300.1h0M410.6 310.5h0M404.6 291.7h0M413.5 312.9h0M413.8 309.7h0M397.5 297.6h0M414.9 307.9h0M412.2 310.0h0M404.9 308.1h0M403.9 307.3h0M414.6 310.1h0M406.6 317.3h0M400.4 296.2h0M419.2 295.1h0M419.9 300.0h0M400.0 305.3h0M402.1 309.9h0M418.1 300.6h0M413.0 293.8h0M397.2 300.7h0M419.2 305.5h0M394.7 296.7h0M409.9 308.4h0M414.1 290.7h0M401.0 310.6h0M406.0 293.7h0M424.1 294.6h0M421.0 301.9h0M419.3 305.9h0M407.3 294.3h0M418.5 298.6h0M415.7 306.8h0M398.7 296.7h0M405.3 309.0h0M413.4 294.2h0M403.7 291.6h0M403.1 293.3h0M403.9 313.5h0M418.6 304.3h0M405.5 311.5h0M391.3 288.9h0M416.4 297.6h0M409.5 294.0h0M401.8 313.4h0M395.7 305.6h0M399.8 305.6h0M414.2 311.1h0M397.7 293.4h0M397.5 303.1h0M419.5 298.9h0M423.1 300.1h0M421.3 307.6h0M419.9 307.9h0M429.0 308.7h0M398.6 295.8h0M405.5 293.5h0M414.8 292.9h0M412.0 308.6h0M398.7 298.0h0M394.3 301.2h0M414.7 307.2h0M414.3 294.6h0M419.8 289.5h0M394.8 305.5h0M396.9 299.9h0M405.9 293.1h0M398.5 298.3h0M415.8 306.4h0M402.1 294.5h0M417.9 305.6h0M419.4 301.7h0M415.6 289.9h0M407.2 308.6h0M397.3 300.4h0M408.9 309.5h0M407.1 294.1h0M409.7 309.3h0M396.6 296.4h0M403.5 309.2h0M412.8 294.6h0M416.2 297.2h0M410.5 294.7h0M396.4 303.3h0M412.0 294.9h0M418.0 300.7h0M423.8 294.1h0M390.3 288.9h0M396.5 308.9h0M409.2 313.7h0M414.3 294.1h0M411.4 309.0h0M407.6 291.8h0M404.6 308.9h0M412.5 308.2h0M399.3 304.5h0M403.7 292.7h0M397.7 296.1h0M402.5 294.7h0M403.9 294.7h0M410.4 292.6h0M398.0 295.2h0M406.8 291.0h0M390.9 296.8h0M418.6 303.9h0M393.8 302.7h0M398.9 297.6h0M397.2 304.4h0M400.6 305.7h0M397.9 298.9h0M421.7 310.7h0M393.0 298.5h0M402.0 306.5h0M415.1 295.0h0M394.3 302.0h0M413.4 292.9h0M412.6 308.3h0M418.1 308.1h0M423.1 301.4h0M417.1 305.2h0M397.4 298.0h0M401.9 295.4h0M424.4 297.8h0M417.3 305.4h0M398.1 295.5h0M413.7 294.5h0M398.6 299.8h0M397.3 301.4h0M418.3 295.6h0M399.0 296.5h0M419.6 297.7h0M409.3 294.4h0M420.8 302.4h0M419.7 300.7h0M407.5 291.7h0M415.3 290.3h0M418.0 300.3h0M405.4 309.9h0M426.4 295.9h0M414.6 294.2h0M412.3 292.7h0M422.8 306.5h0M413.1 312.2h0M412.2 309.3h0M409.6 293.3h0M417.7 299.8h0M415.2 307.7h0M403.9 307.6h0M410.7 293.7h0M406.7 311.3h0M396.5 299.1h0M407.4 308.7h0M418.2 307.2h0M414.9 295.5h0M400.0 306.3h0M401.6 294.7h0M407.6 290.5h0M404.7 293.2h0M409.6 313.0h0M399.1 297.5h0M401.5 292.3h0M416.2 307.3h0M415.7 289.5h0M415.2 295.3h0M394.7 304.1h0M418.7 302.8h0M419.7 298.2h0M398.2 305.6h0M393.8 297.2h0M394.7 296.5h0M399.3 297.9h0M401.4 307.4h0M419.7 302.8h0M416.9 307.4h0M429.7 297.2h0M410.6 315.5h0M415.9 311.7h0M399.4 296.4h0M412.8 294.3h0M397.9 293.2h0M405.4 310.2h0M415.4 294.2h0M398.8 299.6h0M417.3 297.9h0M411.5 309.0h0M399.4 294.2h0M396.6 298.9h0M402.0 295.5h0M398.9 304.2h0M418.5 298.9h0M416.2 294.1h0M412.0 311.2h0M395.1 293.3h0M421.0 304.0h0M419.2 299.4h0M414.1 308.0h0M423.2 291.4h0M405.8 294.4h0M398.1 297.3h0M406.9 309.5h0M428.6 310.1h0M397.7 298.2h0M415.2 308.0h0M416.0 296.3h0M407.5 292.5h0M418.9 299.4h0M410.4 309.0h0M431.2 297.3h0M401.1 295.1h0M413.6 307.9h0M394.4 294.9h0M411.7 294.9h0M409.4 293.2h0M411.6 291.7h0M398.8 301.9h0M421.2 299.4h0M392.2 297.6h0M395.9 299.7h0M405.7 293.2h0M398.2 298.4h0M418.4 303.8h0M416.4 296.2h0M420.8 303.4h0M414.4 308.0h0M403.5 293.9h0M412.4 294.1h0M402.8 307.1h0M416.3 297.1h0M421.5 306.8h0M411.4 310.5h0M414.8 308.2h0M417.4 297.7h0M408.7 293.5h0M401.9 309.7h0M418.2 300.7h0M416.3 296.0h0M412.3 292.4h0M399.2 297.4h0M394.5 295.6h0M420.1 307.5h0M410.1 294.5h0M405.8 293.3h0M415.0 296.0h0M419.8 301.0h0M416.7 309.7h0M396.3 307.8h0M401.8 306.4h0M398.7 308.8h0M395.3 301.0h0M401.9 294.8h0M412.3 294.6h0M401.4 293.6h0M409.8 292.9h0M406.4 310.3h0M400.4 290.9h0M404.0 308.3h0M399.4 296.5h0M420.6 303.9h0M399.3 295.2h0M420.4 301.4h0M415.8 308.1h0M395.8 300.1h0M420.3 299.2h0M419.1 299.7h0M396.6 297.1h0M417.9 297.9h0M418.4 306.2h0M397.5 302.1h0M418.5 298.4h0M398.3 304.6h0M398.0 299.2h0M396.8 300.4h0M418.5 304.4h0M409.2 294.5h0M407.6 292.2h0M414.9 308.9h0M413.2 293.7h0M402.9 312.0h0M418.2 301.6h0M413.3 288.7h0M418.2 303.8h0M403.7 308.7h0M420.6 291.4h0M398.2 304.6h0M423.0 299.7h0M389.0 301.9h0M420.7 312.8h0M395.3 302.6h0M391.8 303.9h0M419.9 302.4h0M411.4 290.0h0M421.2 305.0h0M400.3 294.6h0M413.5 293.0h0M410.1 309.5h0M416.0 297.0h0M405.7 308.1h0M418.8 297.8h0M403.2 289.7h0M418.8 298.0h0M394.1 309.4h0M400.1 306.3h0M407.5 294.0h0M398.4 299.7h0M393.2 303.8h0M399.2 294.2h0M423.1 304.3h0M418.8 301.7h0M393.1 292.8h0M395.0 307.4h0M407.8 292.7h0M407.0 309.3h0M408.6 308.5h0M407.7 310.8h0M419.1 308.3h0M396.7 300.6h0M399.5 306.1h0M410.5 310.6h0M396.7 302.5h0M401.8 313.9h0M402.3 293.8h0M420.0 308.8h0M418.1 305.4h0M416.8 289.4h0M415.6 314.9h0M396.0 302.4h0M399.6 292.3h0M425.8 302.1h0M399.3 298.3h0M416.1 296.6h0M418.6 298.1h0M395.4 300.7h0M420.4 301.5h0M410.2 293.9h0M409.1 293.6h0M416.1 306.9h0M412.7 293.3h0M407.3 308.5h0M396.7 303.6h0M400.1 293.6h0M416.2 306.5h0M407.7 312.1h0M403.9 294.4h0M428.9 307.0h0M398.2 296.7h0M407.2 311.1h0M414.6 309.6h0M423.0 301.2h0M398.4 295.5h0M422.8 300.3h0M398.2 299.4h0M418.8 305.9h0M394.9 299.5h0M400.2 296.4h0M414.4 308.8h0M396.4 301.2h0M393.7 307.1h0M415.5 295.4h0M393.6 302.7h0M422.7 301.8h0M414.3 295.8h0M415.9 307.0h0M401.7 294.9h0M399.2 290.7h0M416.7 305.7h0M411.8 309.3h0M405.7 289.2h0M401.6 292.8h0M421.5 305.1h0M409.2 308.6h0M399.9 291.1h0M412.9 310.9h0M418.5 301.8h0M418.0 296.8h0M405.3 292.7h0M417.8 299.7h0M406.9 309.6h0M400.9 307.0h0M399.2 296.7h0M414.1 307.7h0M411.1 293.8h0M422.4 307.8h0M405.6 311.9h0M420.6 304.5h0M393.3 298.6h0M394.8 300.1h0M421.4 302.7h0M414.6 294.9h0M400.1 294.0h0M417.5 295.0h0M418.1 299.6h0M417.8 304.0h0M405.3 309.7h0M392.1 303.5h0M395.8 304.4h0M400.5 294.8h0M398.0 294.8h0M387.7 298.3h0M398.8 302.3h0M398.6 297.7h0M410.8 311.6h0M399.6 311.9h0M416.5 295.9h0M397.7 304.7h0M400.8 294.1h0M398.0 298.9h0M399.2 296.9h0M414.3 289.6h0M417.2 292.0h0M415.1 311.6h0M417.9 305.0h0M404.2 294.4h0M420.3 304.3h0M395.8 300.7h0M404.5 291.4h0M409.7 315.3h0M405.2 292.2h0M412.4 294.2h0M419.1 296.9h0M408.9 293.6h0M402.3 308.7h0M419.1 301.8h0M411.1 294.8h0M391.0 303.3h0M420.4 302.1h0M416.5 296.0h0M418.4 300.4h0M412.8 292.5h0M396.6 300.7h0M400.7 294.6h0M414.9 308.1h0M410.0 309.5h0M418.2 306.0h0M418.1 294.2h0M401.0 291.7h0M398.0 302.3h0M417.2 297.6h0M416.1 297.5h0M414.7 308.4h0M400.6 306.5h0M417.8 299.3h0M420.8 297.4h0M422.4 290.7h0M407.9 311.4h0M418.6 302.1h0M419.1 309.2h0M397.8 296.8h0M408.5 308.8h0M423.9 291.9h0M418.8 299.5h0M395.7 302.7h0M395.5 299.1h0M409.9 294.5h0M404.2 289.5h0M415.0 313.2h0M420.4 301.5h0M409.7 294.2h0M419.2 294.1h0M406.1 314.6h0M416.8 298.0h0M414.2 311.8h0M393.9 292.2h0M417.8 297.8h0M396.6 301.3h0M400.0 307.1h0M396.8 307.2h0M418.9 294.4h0M425.4 296.3h0M397.8 301.4h0M421.0 299.5h0M402.7 294.0h0M403.8 311.6h0M420.3 304.2h0M412.2 310.9h0M410.7 293.5h0M406.7 310.0h0M410.5 294.1h0M405.9 294.3h0M401.6 295.8h0M418.6 304.7h0M400.8 305.8h0M396.6 294.8h0M393.6 298.1h0M404.0 294.0h0M395.5 305.5h0M403.9 294.4h0M420.0 295.3h0M398.1 310.8h0M416.3 295.7h0M403.2 310.8h0M396.5 297.0h0M400.7 291.6h0M418.7 300.0h0M410.6 311.2h0M397.6 306.0h0M407.6 308.6h0M409.3 293.8h0M397.7 296.8h0M419.9 294.3h0M394.3 304.4h0M423.0 298.8h0M420.7 302.5h0M409.8 287.6h0M396.0 299.1h0M395.9 303.7h0M411.6 293.5h0M413.0 293.8h0M410.8 294.8h0M421.9 299.5h0M415.2 293.1h0M418.4 296.1h0M421.7 308.4h0M410.9 294.0h0M417.7 306.1h0M415.0 295.6h0M419.8 299.5h0M401.0 305.8h0M414.4 307.4h0M399.6 296.2h0M415.9 292.0h0M422.7 306.0h0M398.1 304.9h0M418.5 298.7h0M419.4 304.2h0M404.3 293.3h0M402.6 307.3h0M419.7 302.1h0M414.5 307.8h0M412.8 291.6h0M414.8 295.7h0M400.2 295.5h0M418.3 302.5h0M423.5 294.5h0M417.5 295.1h0M413.1 295.5h0M395.0 301.2h0M398.5 296.6h0M417.8 311.9h0M402.9 294.2h0M418.4 303.9h0M415.2 308.4h0M398.1 303.3h0M418.7 307.2h0M410.3 309.3h0M411.8 308.8h0M397.8 300.4h0M418.0 300.6h0M412.2 290.9h0M395.3 299.6h0M399.8 297.0h0M421.3 302.6h0M408.6 311.2h0M423.5 299.8h0M416.8 294.5h0M417.1 305.3h0M420.9 301.0h0M417.8 307.4h0M402.5 294.8h0M406.7 294.3h0M420.0 299.7h0M410.8 291.9h0M397.9 300.9h0M411.6 292.8h0M415.3 308.6h0M400.7 291.6h0M399.5 306.0h0M422.6 295.9h0M402.8 294.0h0M398.1 301.9h0M401.0 306.7h0M406.0 293.6h0M405.3 309.0h0M408.2 309.6h0M400.8 308.2h0M419.4 302.8h0M416.8 305.7h0M400.2 304.8h0M405.5 290.7h0M400.9 294.9h0M410.5 292.9h0M419.9 300.4h0M398.8 302.8h0M417.5 297.3h0M409.1 294.0h0M419.2 299.0h0M401.5 306.0h0M412.2 308.1h0M414.9 308.6h0M417.2 306.4h0M407.2 294.2h0M394.6 302.6h0M419.8 303.3h0M401.0 291.6h0M398.6 304.8h0M408.0 308.9h0M407.7 311.6h0M394.4 306.5h0M416.6 297.5h0M399.3 306.5h0M411.6 293.7h0M408.3 292.6h0M402.9 293.3h0M398.3 306.4h0M397.2 305.5h0M395.7 299.7h0M401.7 295.5h0M409.3 294.2h0M406.6 292.9h0M419.2 308.0h0M401.3 294.1h0M399.1 296.2h0M419.4 299.9h0M398.8 293.0h0M418.5 296.9h0M401.3 295.6h0M395.7 299.2h0M424.0 299.5h0M415.2 306.9h0M418.5 302.9h0M397.3 298.3h0M399.4 305.7h0M401.1 293.8h0M400.0 306.3h0M409.9 311.7h0M414.1 295.5h0M410.4 309.6h0M413.4 309.2h0M418.8 301.9h0M400.9 296.5h0M389.3 301.3h0M401.5 313.4h0M413.6 311.7h0M409.3 293.6h0M398.2 297.0h0M422.5 303.8h0M403.4 294.7h0M404.4 294.5h0M400.4 308.2h0M419.8 296.7h0M398.4 299.6h0M398.7 298.0h0M422.1 300.2h0M395.7 297.7h0M399.7 309.8h0M397.7 301.7h0M412.5 295.1h0M415.5 296.5h0M422.7 300.8h0M396.7 305.7h0M399.3 297.0h0M418.6 304.6h0M411.8 292.2h0M420.1 304.6h0M395.6 299.6h0M422.0 303.7h0M420.2 308.0h0M412.5 308.5h0M399.4 290.0h0M417.1 305.3h0M416.1 306.8h0M417.3 307.9h0M417.1 296.7h0M397.6 299.0h0M393.6 291.6h0M417.2 307.6h0M399.9 293.9h0M394.4 299.1h0M414.7 307.7h0M396.3 294.2h0M401.6 307.3h0M414.1 309.0h0M402.4 292.2h0M396.5 306.4h0M415.8 288.9h0M397.7 309.5h0M418.4 307.5h0M399.1 298.4h0M399.2 296.9h0M397.6 307.2h0M396.0 303.6h0M415.8 295.2h0M425.6 301.4h0M419.0 304.6h0M417.9 293.9h0M411.5 294.4h0M417.8 297.9h0M402.1 295.0h0M398.7 308.2h0M396.9 299.2h0M402.9 293.5h0M414.3 289.3h0M398.0 303.0h0M418.3 302.5h0M416.0 292.8h0M418.8 303.8h0M404.2 309.2h0M396.5 290.7h0M398.8 298.9h0M398.3 313.4h0M404.6 287.2h0M418.6 309.3h0M393.7 290.6h0M404.9 308.8h0M421.6 296.7h0M418.3 292.5h0M418.5 296.1h0M418.7 299.2h0M398.6 300.7h0M403.1 290.4h0M393.1 301.3h0M413.2 310.3h0M417.4 298.3h0M420.1 311.9h0M417.3 305.3h0M396.6 299.5h0M414.0 309.4h0M422.3 294.8h0M402.4 307.2h0M394.3 300.6h0M415.1 294.0h0M398.8 310.5h0M390.9 297.3h0M397.9 299.9h0M411.5 293.5h0M410.5 290.1h0M406.0 311.2h0M411.2 310.1h0M401.4 295.0h0M400.4 306.9h0M414.2 294.2h0M400.7 308.5h0M423.1 302.9h0M405.1 291.3h0M412.6 311.7h0M408.6 294.1h0M412.9 292.4h0M399.4 296.8h0M413.9 295.8h0M423.3 298.1h0M385.3 294.8h0M398.0 298.6h0M415.6 295.6h0M413.3 311.5h0M396.5 295.4h0M399.9 307.9h0M400.9 293.3h0M405.4 294.5h0M420.6 310.2h0M409.7 310.3h0M409.0 294.4h0M414.1 293.3h0M404.9 286.8h0M389.5 300.4h0M419.9 305.8h0M412.9 294.8h0M409.1 308.6h0M413.5 308.6h0M418.5 307.1h0M400.8 306.4h0M403.1 308.9h0M403.1 312.1h0M391.7 293.7h0M398.3 305.6h0M414.7 307.4h0M406.1 309.8h0M405.2 294.4h0M396.9 292.0h0M407.7 310.1h0M405.7 293.9h0M424.1 298.1h0M398.0 305.9h0M419.9 304.2h0M398.8 308.7h0M398.2 290.8h0M391.5 297.2h0M415.1 291.9h0M415.7 295.5h0M396.7 300.3h0M408.8 309.4h0M415.4 296.1h0M399.7 292.1h0M414.5 308.5h0M404.6 310.1h0M401.8 295.5h0M401.4 296.0h0M390.7 299.7h0M397.3 300.2h0M417.6 298.7h0M409.7 292.7h0M417.9 294.8h0M405.9 294.1h0M399.9 304.4h0M402.1 306.9h0M405.3 293.9h0M407.3 293.6h0M405.4 309.1h0M407.8 311.1h0M401.2 308.4h0M399.8 306.7h0M420.5 298.6h0M397.4 302.8h0M390.1 292.7h0M405.6 308.4h0M412.7 290.5h0M413.5 294.3h0M404.5 310.4h0M411.8 311.5h0M402.3 306.7h0M411.2 314.7h0M417.8 299.9h0M425.4 313.4h0M398.2 301.1h0M403.3 293.9h0M395.5 300.4h0M410.5 308.7h0M399.9 306.3h0M424.1 304.8h0M417.0 305.2h0M399.2 308.0h0M401.1 307.9h0M401.9 306.2h0M397.1 296.4h0M415.9 306.3h0M393.3 303.2h0M397.0 305.4h0M396.2 300.0h0M419.7 296.7h0M421.7 301.0h0M416.7 297.8h0M404.6 289.6h0M415.8 313.1h0M417.5 304.6h0M407.5 293.0h0M423.3 305.1h0M414.2 292.3h0M414.9 311.1h0M397.6 304.1h0M396.8 299.6h0M418.8 304.2h0M401.9 295.5h0M414.8 295.9h0M394.9 297.5h0M400.9 306.3h0M417.5 307.0h0M395.1 300.6h0M410.3 293.7h0M409.5 309.2h0M394.9 305.7h0M415.9 307.2h0M415.8 296.9h0M422.0 303.1h0M419.9 295.6h0M402.8 293.9h0M420.0 299.3h0M420.2 301.8h0M429.2 304.2h0M397.7 301.2h0M400.4 305.8h0M404.7 309.8h0M415.4 294.9h0M398.8 304.6h0M423.9 307.1h0M400.0 306.6h0M396.0 300.2h0M415.9 297.3h0M419.7 306.1h0M415.4 310.9h0M425.9 300.0h0M409.9 308.8h0M402.6 290.1h0M399.3 304.5h0M400.7 296.3h0M422.8 309.5h0M399.7 305.5h0M402.0 294.5h0M425.0 299.9h0M421.6 293.3h0M404.9 308.8h0M412.4 295.2h0M402.9 294.1h0M416.2 306.7h0M421.3 296.7h0M398.6 301.6h0M420.6 306.1h0M418.1 301.2h0M414.2 310.4h0M404.8 308.0h0M394.3 295.8h0M407.4 294.4h0M402.3 307.1h0M419.6 305.3h0M409.9 294.2h0M399.7 297.5h0M412.6 309.2h0M397.5 301.9h0M414.9 294.0h0M415.4 294.5h0M421.9 298.3h0M402.3 306.9h0M394.0 301.8h0M400.6 308.5h0M401.3 295.4h0M424.6 309.2h0M427.3 292.1h0M411.6 294.3h0M404.1 294.8h0M420.0 299.1h0M412.7 308.6h0M419.3 305.1h0M418.5 298.8h0M421.2 296.9h0M400.4 295.6h0M399.6 297.3h0M395.8 300.1h0M398.2 293.7h0M413.7 310.5h0M393.8 298.2h0M421.8 305.4h0M404.3 292.5h0M418.3 304.2h0M397.9 298.4h0M410.0 293.3h0M414.6 293.8h0M409.5 293.2h0M418.0 296.3h0M411.2 291.4h0M401.6 293.2h0M405.6 294.0h0M410.4 292.2h0M418.1 299.2h0M418.7 309.9h0M405.2 293.0h0M418.3 299.6h0M402.7 286.9h0M398.6 302.1h0M417.9 309.0h0M413.1 309.6h0M402.1 294.1h0M397.1 305.4h0M418.0 299.5h0M409.5 312.4h0M411.4 293.2h0M406.7 292.9h0M417.5 311.3h0M413.2 295.2h0M399.4 304.1h0M420.7 301.0h0M399.4 296.9h0M422.9 297.7h0M397.1 305.5h0M402.4 294.8h0M404.0 293.5h0M419.6 302.3h0M418.0 303.5h0M417.8 296.4h0M415.7 295.6h0M402.2 294.5h0M419.5 304.2h0M411.8 288.2h0M417.0 297.2h0M410.9 309.2h0M398.3 294.8h0M419.0 298.3h0M404.0 307.8h0M417.7 296.5h0M404.0 309.5h0M402.4 293.5h0M416.1 309.3h0M402.1 293.3h0M396.8 309.6h0M398.5 300.2h0M409.2 290.0h0M412.0 293.9h0M402.7 293.8h0M417.8 306.4h0M399.3 293.4h0M403.7 308.0h0M417.6 292.9h0M398.2 296.0h0M418.2 305.6h0M427.9 306.2h0M418.0 295.6h0M411.8 308.9h0M399.4 297.4h0M396.4 297.4h0M414.4 292.2h0M416.3 309.4h0M413.0 308.8h0M402.5 310.4h0M403.9 308.1h0M410.0 294.5h0M401.7 308.7h0M409.9 291.9h0M398.0 302.9h0M392.8 299.9h0M422.7 295.2h0M412.5 310.2h0M391.9 303.1h0M391.2 296.6h0M400.4 295.9h0M416.5 305.7h0M402.0 307.9h0M416.9 297.7h0M399.3 304.0h0M415.9 306.7h0M399.6 297.8h0M396.2 309.9h0M416.0 292.6h0M399.8 295.6h0M424.9 299.5h0M411.6 294.9h0M411.7 289.2h0M406.1 292.8h0M410.4 309.0h0M397.3 300.0h0M419.2 301.1h0M398.3 297.0h0M401.5 293.7h0M395.5 301.4h0M413.7 308.3h0M403.0 307.2h0M409.0 292.1h0M417.9 308.3h0M418.4 298.3h0M421.1 302.9h0M410.6 294.3h0M398.3 297.4h0M405.2 294.1h0M409.8 309.1h0M397.8 297.5h0M397.4 297.4h0M420.1 299.8h0M395.1 291.0h0M398.2 297.4h0M413.6 318.0h0M400.5 307.1h0M413.9 295.9h0M410.9 294.7h0M403.2 294.2h0M408.1 308.5h0M429.5 303.8h0M419.8 303.6h0M418.5 304.7h0M417.4 294.5h0M402.2 307.7h0M439.1 297.4h0M414.6 295.2h0M411.4 309.7h0M401.1 307.1h0M396.5 299.0h0M412.4 293.8h0M399.6 304.5h0M412.5 308.0h0M392.5 310.0h0M407.9 311.4h0M418.4 303.1h0M418.9 296.5h0M417.5 305.8h0M418.7 305.0h0M398.1 298.8h0M416.2 307.5h0M396.9 297.1h0M413.5 294.4h0M411.3 309.1h0M398.6 301.4h0M410.6 310.3h0M398.8 307.1h0M419.6 304.3h0M419.0 294.2h0M400.3 287.2h0M421.2 307.2h0M417.1 308.4h0M409.2 311.7h0M413.9 295.5h0M418.8 306.2h0M403.1 309.0h0M397.7 289.5h0M393.1 303.7h0M421.1 306.7h0M411.5 310.2h0M399.6 291.2h0M401.4 312.7h0M420.3 301.3h0M409.3 309.4h0M424.6 301.2h0M418.7 302.4h0M393.7 299.5h0M412.1 311.9h0M397.6 308.2h0M400.9 307.7h0M421.0 304.9h0M422.8 311.0h0M408.9 308.6h0M396.1 290.9h0M407.9 291.7h0M391.2 292.5h0M402.8 308.6h0M401.0 295.0h0M423.9 303.5h0M402.2 308.3h0M405.3 289.9h0M398.0 294.1h0M403.1 293.4h0M418.2 303.2h0M399.0 297.8h0M418.5 306.1h0M419.6 302.7h0M398.5 305.8h0M402.4 306.8h0M405.5 316.1h0M413.8 294.6h0M396.8 297.2h0M429.0 305.1h0M389.4 295.0h0M415.4 306.8h0M424.7 306.8h0M415.6 308.0h0M393.2 299.3h0M410.3 294.5h0M401.5 306.9h0M407.6 289.3h0M398.5 308.1h0M393.5 301.0h0M403.6 292.1h0M391.7 304.4h0M391.1 296.9h0M407.2 292.5h0M411.7 293.1h0M403.9 291.9h0M399.5 292.5h0M397.1 290.3h0M417.9 303.7h0M398.7 302.5h0M420.0 298.8h0M420.5 304.1h0M416.8 308.6h0M418.3 297.2h0M404.3 294.0h0M407.1 308.5h0M404.1 294.7h0M414.6 295.4h0M424.4 302.8h0M411.5 288.3h0M407.8 291.7h0M412.2 309.2h0M415.3 293.2h0M394.1 298.5h0M396.7 301.3h0M398.6 300.1h0M398.7 303.8h0M421.6 296.6h0M412.6 309.2h0M397.8 299.4h0M424.8 302.4h0M414.8 308.3h0M411.1 310.1h0M398.9 289.4h0M395.0 295.3h0M398.1 301.5h0M396.7 303.0h0M405.8 309.4h0M398.1 306.3h0M418.6 298.3h0M411.9 294.2h0M414.5 307.4h0M401.5 306.0h0M414.2 292.6h0M415.1 296.6h0M402.6 293.8h0M405.1 307.8h0M431.6 293.7h0M398.6 297.5h0M394.7 306.2h0M410.3 308.7h0M410.6 294.4h0M424.5 305.0h0M408.7 292.1h0M430.8 300.0h0M413.8 309.4h0M397.9 299.3h0M417.9 303.7h0M413.5 295.4h0M397.3 303.4h0M402.9 295.2h0M419.4 299.8h0M419.3 299.4h0M420.3 295.8h0M424.2 308.6h0M422.6 309.3h0M419.5 303.3h0M415.3 295.1h0M402.7 309.6h0M395.7 298.8h0M418.1 307.4h0M400.9 305.5h0M398.2 296.0h0M399.2 303.1h0M398.7 297.9h0M418.0 303.8h0M414.4 308.8h0M414.8 307.9h0M422.3 298.6h0M409.3 291.0h0M411.3 309.0h0M405.0 287.9h0M412.1 311.0h0M405.1 293.7h0M416.5 297.3h0M412.8 308.6h0M401.2 306.4h0M399.8 289.3h0M421.4 296.5h0M421.7 296.7h0M396.0 305.7h0M398.7 301.7h0M411.8 294.5h0M406.9 292.9h0M397.5 307.5h0M398.6 304.4h0M425.2 306.6h0M412.3 308.4h0M418.7 298.4h0M399.1 297.0h0M398.3 298.3h0M396.2 296.6h0M401.9 307.5h0M419.0 305.2h0M410.8 290.1h0M399.3 296.1h0M404.8 292.3h0M395.1 302.0h0M428.2 298.1h0M414.0 313.0h0M412.3 294.8h0M400.6 296.6h0M397.8 304.9h0M402.7 307.8h0M413.5 313.4h0M416.4 294.6h0M397.8 295.5h0M404.1 288.1h0M418.2 307.5h0M419.2 300.5h0M412.6 309.7h0M418.8 294.8h0M401.0 294.5h0M415.0 292.9h0M417.6 298.6h0M397.8 305.0h0M416.9 294.1h0M410.1 294.4h0M420.4 297.5h0M408.5 292.4h0M405.4 291.7h0M413.9 307.5h0M417.6 296.8h0M397.3 305.7h0M411.9 309.9h0M409.2 308.5h0M399.0 298.9h0M396.9 297.7h0M415.0 311.2h0M417.9 304.8h0M415.7 307.0h0M415.9 307.9h0M400.8 305.9h0M397.9 305.6h0M398.4 301.8h0M416.1 296.0h0M396.9 304.3h0M418.4 296.0h0M416.1 296.7h0M415.4 295.9h0M411.3 310.6h0M400.0 307.3h0M398.1 298.6h0M399.2 297.4h0M423.1 304.7h0M405.5 312.6h0M418.7 301.8h0M419.3 303.2h0M397.0 302.1h0M417.5 305.7h0M415.8 297.0h0M412.9 293.3h0M406.0 289.9h0M406.7 293.9h0M406.9 294.3h0M402.9 290.6h0M413.8 307.7h0M401.0 305.5h0M397.8 300.3h0M396.9 300.4h0M407.9 291.9h0M396.4 308.2h0M402.0 295.3h0M423.7 292.0h0M395.7 307.1h0M404.8 308.6h0M412.1 292.9h0M411.8 291.7h0M417.3 309.5h0M418.2 298.9h0M409.0 308.4h0M417.1 297.4h0M409.2 309.3h0M392.0 305.7h0M395.6 300.1h0M416.0 295.2h0M396.7 295.8h0M403.3 308.3h0M398.2 298.0h0M398.4 293.0h0M401.3 310.9h0M400.2 296.4h0M400.6 295.7h0M418.6 298.4h0M398.3 296.9h0M401.6 294.3h0M414.7 310.4h0M408.5 289.3h0M430.4 294.9h0M397.5 307.9h0M410.7 310.3h0M395.3 303.5h0M418.1 310.5h0M401.9 291.2h0M395.5 302.6h0M416.7 296.1h0M412.9 313.8h0M417.6 305.2h0M422.1 304.5h0M398.3 302.6h0M418.5 306.4h0M410.6 288.5h0M399.7 296.7h0M398.7 299.2h0M412.6 290.0h0M414.0 294.0h0M419.1 300.7h0M411.9 294.8h0M407.2 310.1h0M417.1 310.3h0M415.9 293.7h0M410.8 292.7h0M399.1 303.5h0M397.1 302.2h0M398.5 300.2h0M409.3 291.5h0M399.9 297.0h0M414.4 307.9h0M409.7 318.2h0M396.2 299.4h0M406.5 291.5h0M386.9 304.0h0M418.3 299.1h0M394.6 304.9h0M418.5 300.4h0M408.2 309.7h0M394.2 306.1h0M404.0 287.5h0M420.6 293.8h0M418.5 301.8h0M408.2 308.8h0M415.9 296.3h0M416.9 308.6h0M397.9 307.5h0M418.4 304.3h0M412.1 294.2h0M417.1 306.4h0M422.6 295.2h0M417.6 304.4h0M396.9 302.3h0M407.8 309.7h0M393.3 298.7h0M419.5 298.1h0M415.6 294.0h0M402.9 292.1h0M414.9 295.2h0M388.6 297.6h0M396.8 293.5h0M404.5 309.3h0M394.3 299.5h0M427.7 295.8h0M412.1 311.2h0M398.1 303.4h0M400.6 294.9h0M417.3 291.4h0M404.6 313.3h0M433.9 322.9h0M397.7 306.1h0M404.9 312.4h0M396.1 299.6h0M439.6 308.2h0M409.7 294.5h0M422.7 307.7h0M430.6 318.4h0M420.5 293.1h0M435.6 301.1h0M434.4 299.2h0M414.8 322.3h0M420.7 296.4h0M440.7 312.9h0M409.4 310.7h0M395.9 306.4h0M430.2 320.9h0M426.3 315.8h0M386.6 290.6h0M389.0 297.0h0M396.8 300.9h0M401.6 307.8h0M420.4 295.5h0M422.8 300.7h0M402.4 295.7h0M426.7 304.9h0M393.8 306.6h0M398.6 294.5h0M422.7 305.2h0M407.3 309.3h0M403.6 310.2h0M419.4 308.1h0M424.0 312.2h0M414.5 294.5h0M423.3 304.9h0M397.3 302.0h0M429.0 299.1h0M390.2 289.3h0M393.4 301.6h0M432.9 318.0h0M396.9 299.0h0M410.4 318.5h0M429.7 301.5h0M416.9 309.1h0M396.5 298.4h0M400.5 296.7h0M397.9 296.9h0M406.0 309.0h0M391.0 306.2h0M393.9 296.2h0M424.5 296.5h0M402.1 294.6h0M410.8 289.4h0M381.7 304.1h0M383.0 294.3h0M415.6 313.6h0M392.9 289.9h0M427.5 325.3h0M409.6 294.5h0M395.6 309.6h0M437.9 296.5h0M427.8 302.1h0M419.8 306.6h0M397.1 298.7h0M426.8 298.4h0M423.9 301.4h0M386.3 299.5h0M394.2 312.4h0M397.3 295.6h0M399.0 294.9h0M419.7 307.5h0M390.7 303.5h0M390.4 298.0h0M394.7 299.0h0M432.6 311.4h0M428.9 309.6h0M405.0 294.3h0M390.5 306.8h0M427.0 305.1h0M416.9 290.8h0M409.0 287.2h0M408.5 291.0h0M392.3 303.0h0M432.7 323.9h0M400.7 294.0h0M401.9 308.9h0M423.6 330.1h0M422.9 304.4h0M389.3 292.7h0M394.4 311.1h0M413.8 311.8h0M413.4 295.0h0M444.2 307.7h0M383.0 308.0h0M401.8 287.8h0M397.4 292.9h0M424.5 305.3h0M423.5 300.1h0M398.6 303.0h0M425.5 304.3h0M389.8 290.8h0M387.9 300.6h0M389.0 298.8h0M418.3 310.8h0M411.9 295.1h0M395.3 295.8h0M442.6 305.2h0M422.1 300.0h0M464.4 291.5h0M417.9 291.0h0M403.9 295.1h0M415.1 314.3h0M406.0 293.8h0M404.8 314.8h0M438.3 308.5h0M410.0 294.9h0M427.9 314.2h0M428.3 298.3h0M414.1 294.7h0M406.4 293.8h0M434.4 320.2h0M430.6 306.9h0M399.0 297.9h0M424.6 312.5h0M418.7 314.2h0M390.2 305.8h0M414.4 293.2h0M430.0 291.7h0M397.5 305.4h0M385.8 306.1h0M397.2 292.4h0M418.3 294.0h0M419.2 297.6h0M423.4 306.8h0M393.1 296.4h0M406.2 311.5h0M388.6 299.2h0M384.4 294.3h0M394.2 304.8h0M423.4 303.8h0M431.5 303.8h0M442.1 304.0h0M427.9 301.1h0M423.2 305.2h0M391.0 294.7h0M395.7 299.0h0M445.9 286.8h0M418.4 315.7h0M416.5 311.3h0M385.3 295.0h0M391.3 299.3h0M422.7 313.3h0M420.6 309.7h0M409.6 293.7h0M423.6 309.1h0M412.5 293.7h0M381.4 303.4h0M407.0 294.1h0M378.0 306.7h0M379.5 292.7h0M396.7 302.9h0M427.9 304.6h0M391.6 303.3h0M410.0 312.9h0M409.2 308.6h0M387.8 296.5h0M426.3 291.6h0M428.2 290.9h0M437.1 313.8h0M398.0 296.6h0M426.2 303.6h0M424.0 289.2h0M422.6 319.6h0M399.0 296.6h0M428.6 311.2h0M398.6 292.6h0M395.7 302.3h0M412.6 291.4h0M399.7 307.4h0M433.7 304.4h0M399.6 289.5h0M413.9 292.8h0M399.7 306.0h0M400.1 307.0h0M414.0 324.8h0M426.9 288.5h0M405.5 294.8h0M400.3 309.2h0M428.9 306.1h0M405.9 308.2h0M401.0 309.1h0M416.9 308.9h0M397.7 305.5h0M413.5 326.2h0M430.4 316.3h0M425.3 295.7h0M383.8 289.3h0M423.8 305.4h0M391.3 309.8h0M435.5 288.1h0M426.4 298.5h0M428.0 292.9h0M409.2 293.3h0M382.8 291.7h0M422.1 312.9h0M408.4 310.4h0M396.3 296.3h0M398.1 307.6h0M402.8 288.3h0M416.4 294.0h0M406.9 290.5h0M393.2 287.7h0M424.5 311.9h0M391.9 302.5h0M424.4 296.5h0M403.9 293.6h0M424.7 302.6h0M412.9 294.3h0M401.9 312.6h0M424.9 307.8h0M398.4 312.9h0M384.3 302.6h0M433.5 319.5h0M410.4 294.9h0M388.6 289.5h0M421.0 299.6h0M417.9 297.2h0M386.8 298.4h0M450.6 296.7h0M408.6 308.4h0M426.0 312.0h0M417.8 316.4h0M411.4 312.6h0M425.8 311.9h0M425.3 289.9h0M446.1 323.0h0M442.0 309.6h0M384.9 301.0h0M413.3 309.7h0M418.9 307.4h0M430.7 304.9h0M427.7 309.7h0M429.4 296.5h0M428.4 290.4h0M402.0 311.7h0M420.8 298.1h0M440.5 320.0h0M409.3 294.7h0M392.3 298.1h0M430.7 306.2h0M412.7 291.0h0M424.4 295.6h0M409.8 292.4h0M412.9 291.7h0M392.3 295.1h0M397.6 307.9h0M424.9 291.3h0M429.9 308.5h0M427.7 294.4h0M396.5 310.5h0M394.3 305.3h0M422.7 300.6h0M430.6 301.2h0M420.9 299.5h0M405.3 310.8h0M388.9 302.3h0M376.0 293.1h0M421.2 305.3h0M391.3 297.7h0M427.4 289.9h0M407.4 312.8h0M393.8 297.3h0M402.5 292.4h0M421.0 297.0h0M435.7 306.8h0M376.0 308.1h0M386.0 295.6h0M409.5 310.6h0M409.2 290.9h0M389.3 289.8h0M389.6 304.1h0M365.7 295.3h0M398.6 294.4h0M404.7 292.9h0M418.7 291.4h0M388.9 300.0h0M415.6 308.3h0M411.3 292.5h0M398.4 304.5h0M424.3 301.7h0M416.0 313.2h0M398.3 307.0h0M413.4 294.0h0M431.6 306.2h0M422.7 309.8h0M392.2 295.9h0M418.7 296.6h0M397.5 296.9h0M428.3 313.5h0M402.2 308.7h0M398.9 305.6h0M414.7 308.7h0M436.6 297.7h0M396.4 297.0h0M392.0 294.3h0M401.8 306.4h0M415.9 291.0h0M448.0 307.0h0M388.3 291.0h0M422.7 289.6h0M405.7 309.3h0M399.8 291.0h0M393.8 308.8h0M402.1 293.3h0M388.3 293.0h0M384.8 290.6h0M425.1 299.6h0M400.9 307.6h0M385.7 303.8h0M427.8 303.8h0M406.2 288.6h0M411.2 309.1h0M398.0 292.2h0M432.8 304.9h0M427.1 301.2h0M401.3 289.4h0M416.8 296.1h0M402.8 293.0h0M422.8 299.5h0M414.8 294.7h0M401.9 294.6h0M414.5 309.5h0M382.9 305.1h0M422.6 313.2h0M423.4 303.7h0M419.9 309.2h0M402.6 308.0h0M427.4 299.3h0M418.5 313.3h0M375.3 298.1h0M408.0 294.5h0M393.7 307.8h0M421.7 308.5h0M422.3 310.6h0M409.9 292.0h0M422.9 300.1h0M425.5 301.4h0M391.9 293.7h0M405.1 310.8h0M395.1 294.8h0M425.5 303.7h0M394.6 296.4h0M442.3 309.6h0M398.0 296.5h0M408.5 294.5h0M416.3 293.4h0M399.2 307.5h0M387.5 304.8h0M437.4 308.9h0M422.5 305.9h0M403.7 309.3h0M394.9 306.7h0M393.4 306.1h0M418.4 307.7h0M440.4 293.1h0M433.1 296.1h0M424.2 305.4h0M396.2 306.4h0M398.4 295.9h0M448.3 313.6h0M403.0 290.9h0M392.9 311.5h0M413.1 311.2h0M410.9 294.2h0M382.9 287.9h0M426.8 308.6h0M430.3 299.8h0M389.4 288.2h0M422.0 296.9h0M393.9 299.5h0M399.6 292.2h0M415.2 294.1h0M398.6 294.6h0M440.2 300.7h0M416.9 290.1h0M405.3 293.8h0M392.6 296.0h0M382.0 310.0h0M393.5 296.7h0M424.6 308.0h0M382.0 309.7h0M404.2 310.4h0M421.6 310.1h0M375.8 307.0h0M424.2 304.9h0M404.7 314.2h0M411.4 287.9h0M393.1 312.4h0M399.2 286.9h0M402.1 291.2h0M397.4 305.7h0M426.4 303.4h0M405.9 291.3h0M421.1 298.2h0M421.5 296.0h0M402.4 306.9h0M414.8 313.1h0M392.3 293.7h0M388.9 300.9h0M423.1 306.5h0M403.6 308.7h0M393.7 292.3h0M438.5 287.7h0M399.5 295.9h0M412.4 293.0h0M425.0 296.1h0M428.5 299.2h0M434.5 294.4h0M428.6 305.5h0M410.5 290.4h0M397.0 293.7h0M393.3 300.5h0M427.7 300.5h0M384.0 297.0h0M397.5 291.5h0M406.1 294.1h0M399.8 308.3h0M384.7 302.4h0M408.2 310.4h0M403.5 293.4h0M405.2 312.4h0M390.9 314.9h0M394.7 306.7h0M428.5 313.8h0M415.8 309.0h0M410.8 290.8h0M427.0 299.6h0M397.6 302.2h0M424.1 298.9h0M422.2 304.3h0M418.0 311.5h0M423.0 301.3h0M417.5 308.1h0M390.4 309.0h0M395.7 305.0h0M421.2 306.1h0M390.6 295.9h0M427.4 306.1h0M406.7 289.2h0M378.7 292.3h0M391.1 309.1h0M396.3 300.0h0M415.6 310.3h0M420.6 299.2h0M393.5 302.9h0M414.2 308.5h0M392.7 308.6h0M406.0 309.9h0M401.0 293.4h0M386.0 308.4h0M428.3 306.6h0M407.4 314.5h0M426.9 299.0h0M402.4 306.4h0M397.8 297.9h0M461.6 307.0h0M420.3 310.7h0M401.6 310.8h0M419.5 288.8h0M403.3 295.4h0M398.8 312.9h0M423.8 305.6h0M423.5 290.6h0M393.2 305.9h0M383.7 289.6h0M423.4 307.0h0M395.4 311.8h0M393.2 294.5h0M400.2 313.6h0M407.4 310.9h0M413.7 295.5h0M401.5 306.0h0M434.6 298.4h0M424.1 301.2h0M426.0 305.8h0M401.9 293.7h0M411.0 291.1h0M394.9 295.8h0M395.8 309.4h0M424.6 293.1h0M412.7 292.3h0M432.2 297.9h0M398.1 292.0h0M411.4 310.9h0M420.2 290.2h0M422.4 297.8h0M405.0 307.5h0M412.9 310.0h0M427.8 306.6h0M379.1 293.9h0M399.7 311.3h0M387.8 303.6h0M423.4 307.9h0M417.1 318.4h0M400.2 306.3h0M393.7 306.2h0M420.8 307.4h0M391.6 310.5h0M416.3 290.9h0M397.8 297.4h0M432.0 310.4h0M417.7 308.8h0M413.8 310.8h0M422.6 300.2h0M424.1 301.7h0M399.2 306.1h0M410.7 293.6h0M439.1 310.2h0M390.5 295.9h0M424.1 314.3h0M415.6 289.5h0M428.0 298.1h0M426.8 296.4h0M399.0 297.5h0M403.0 292.5h0M397.9 311.2h0M430.0 304.7h0M401.4 308.2h0M404.4 293.0h0M433.8 305.4h0M430.1 303.3h0M418.3 291.6h0M407.6 293.3h0M414.2 288.6h0M425.6 303.6h0M417.1 310.0h0M403.2 308.5h0M439.1 306.9h0M384.1 294.9h0M390.4 302.4h0M415.7 309.9h0M394.0 299.2h0M412.8 308.7h0M405.3 288.5h0M415.2 310.0h0M435.1 302.3h0M401.5 293.1h0M420.8 311.4h0M404.6 308.1h0M402.9 288.6h0M436.2 312.8h0M440.5 287.3h0M384.4 291.7h0M403.0 295.0h0M397.0 309.1h0M415.8 295.9h0M416.0 296.4h0M391.5 289.3h0M392.2 308.0h0M410.5 294.0h0M390.0 298.6h0M402.9 294.8h0M442.7 312.9h0M402.4 289.9h0M433.3 305.4h0M393.3 303.6h0M419.4 309.0h0M394.9 297.0h0M422.6 298.1h0M407.4 310.3h0M398.0 290.7h0M413.0 309.1h0M415.3 308.7h0M400.4 287.2h0M430.1 297.5h0M428.5 312.7h0M424.4 304.6h0M423.6 309.8h0M409.5 294.3h0M408.6 314.0h0M379.3 301.7h0M413.2 290.1h0M424.3 305.4h0M380.7 301.5h0M402.1 312.1h0M441.4 292.3h0M410.9 309.8h0M421.9 288.1h0M405.5 308.1h0M381.6 294.4h0M395.8 298.1h0M393.6 305.8h0M410.2 309.6h0M411.9 294.6h0M397.5 291.4h0M417.5 311.9h0M407.9 312.8h0M387.0 291.3h0M423.9 300.2h0M394.5 289.9h0M401.7 294.8h0M412.1 310.9h0M424.1 295.0h0M399.6 294.8h0M417.3 313.4h0M428.0 303.2h0M422.0 311.9h0M394.5 292.2h0M421.2 305.7h0M394.3 300.5h0M421.6 308.6h0M425.4 287.8h0M397.1 319.7h0M440.3 299.1h0M422.3 298.3h0M430.1 308.0h0M400.2 290.6h0M399.4 293.8h0M366.4 291.9h0M395.9 309.8h0M433.7 294.1h0M379.9 309.1h0M395.1 299.0h0M396.9 304.5h0M393.8 296.0h0M413.4 289.8h0M397.1 310.9h0M415.2 318.2h0M416.5 315.0h0M422.1 293.7h0M422.9 295.2h0M406.1 314.5h0M440.0 309.6h0M402.6 307.9h0M425.9 297.6h0M395.7 306.0h0M405.3 309.3h0M424.1 300.6h0M403.3 289.9h0M410.0 313.3h0M388.5 291.0h0M418.2 313.1h0M402.4 308.3h0M415.3 308.7h0M391.9 304.8h0M441.8 308.8h0M408.7 310.9h0M424.2 305.3h0M387.8 298.3h0M412.9 309.6h0M419.3 307.6h0M419.6 296.0h0M403.6 293.5h0M428.8 303.2h0M406.8 309.6h0M379.3 302.9h0M386.9 302.6h0M392.5 294.1h0M413.0 320.3h0M402.9 308.4h0M414.1 290.6h0M426.2 298.8h0M388.4 297.7h0M433.9 292.1h0M389.2 308.9h0M394.1 294.6h0M386.8 302.2h0M416.4 309.8h0M395.7 304.1h0M398.0 299.2h0M404.5 290.6h0M419.9 320.2h0M441.9 309.3h0M383.0 305.0h0M397.7 300.9h0M396.4 303.8h0M417.1 292.4h0M406.4 290.4h0M419.9 296.4h0M373.6 290.2h0M426.9 309.7h0M421.8 310.9h0M405.4 290.4h0M403.0 307.1h0M400.7 292.6h0M405.7 310.9h0M410.3 293.6h0M433.9 300.1h0M397.6 292.3h0M391.3 307.8h0M434.4 294.2h0M398.1 303.5h0M417.6 315.3h0M405.5 290.7h0M417.5 290.1h0M401.8 295.1h0M398.6 292.4h0M420.6 287.3h0M395.3 310.0h0M409.0 311.0h0M402.7 312.9h0M396.6 299.3h0M402.9 311.4h0M412.6 294.5h0M427.9 301.4h0M405.2 308.6h0M397.1 290.9h0M398.5 312.5h0M414.8 295.1h0M417.0 295.1h0M418.6 307.2h0M418.5 307.2h0M383.9 304.4h0M424.1 298.1h0M405.1 307.9h0M432.7 287.5h0M398.6 296.4h0M417.1 311.3h0M440.7 314.6h0M383.8 293.4h0M399.0 295.3h0M415.7 287.6h0M396.7 305.1h0M392.2 289.5h0M417.6 312.9h0M432.8 298.3h0M422.5 304.7h0M413.1 311.4h0M405.0 289.4h0M433.7 303.0h0M411.8 310.2h0M418.2 309.0h0M408.6 308.4h0M425.2 296.3h0M420.9 294.6h0M407.3 292.6h0M395.6 304.0h0M380.3 300.6h0M419.3 314.6h0M392.8 302.8h0M419.0 307.2h0M406.6 310.5h0M398.1 291.2h0M397.5 297.3h0M416.2 294.7h0M396.3 300.5h0M412.3 294.6h0M387.6 301.8h0M386.6 295.9h0M412.3 292.8h0M411.7 294.9h0M441.6 306.4h0M418.2 296.8h0M421.7 298.8h0M388.9 293.9h0M372.8 297.6h0M402.4 295.2h0M427.2 302.0h0M436.4 308.4h0M434.8 294.5h0M397.5 294.6h0M421.2 299.6h0M416.9 312.1h0M421.1 298.3h0M411.6 312.6h0M394.2 290.1h0M411.0 311.8h0M422.5 293.0h0M409.6 288.1h0M409.2 310.8h0M419.6 313.0h0M417.2 314.0h0M427.2 312.9h0M415.3 295.9h0M423.1 304.8h0M382.1 304.6h0M398.6 291.8h0M404.2 312.9h0M400.8 286.8h0M412.5 309.9h0M393.6 295.9h0M425.5 310.7h0M400.3 295.9h0M408.4 313.3h0M395.8 294.5h0M424.4 308.4h0M422.0 308.2h0M387.1 305.3h0M431.0 311.1h0M422.2 304.8h0M402.5 310.1h0M432.9 296.8h0M404.4 314.0h0M394.3 301.5h0M380.4 299.0h0M401.3 287.6h0M381.5 288.7h0M411.6 310.3h0M423.2 302.7h0M389.1 299.7h0M409.3 292.1h0M397.0 291.3h0M391.6 291.8h0M416.4 296.2h0M427.6 300.0h0M408.4 293.1h0M401.2 294.2h0M432.0 296.7h0M415.4 328.4h0M396.8 290.6h0M399.4 293.6h0M403.0 286.9h0M417.7 312.4h0M393.7 298.3h0M397.8 290.4h0M421.9 302.9h0M421.9 294.7h0M424.4 294.3h0M422.8 300.7h0M404.1 314.6h0M396.6 313.2h0M428.1 297.5h0M400.4 305.6h0M391.6 302.1h0M403.5 290.7h0M427.5 295.8h0M411.0 311.1h0M431.1 292.2h0M433.6 303.8h0M411.6 316.9h0M417.5 308.3h0M431.4 301.8h0M384.1 294.1h0M423.9 301.7h0M414.3 310.1h0M430.7 304.0h0M412.2 290.7h0M421.5 308.2h0M392.5 291.8h0M397.8 301.0h0M410.8 313.1h0M426.8 305.4h0M392.2 299.9h0M408.0 308.4h0M390.1 298.4h0M394.0 301.6h0M415.3 310.9h0M441.6 317.8h0M369.9 291.1h0M437.3 309.1h0M407.8 315.9h0M422.4 304.6h0M410.4 317.2h0M423.1 314.5h0M395.3 291.4h0M396.4 301.4h0M428.3 304.4h0M430.4 315.2h0M403.8 294.5h0M421.7 307.9h0M413.4 294.9h0M392.4 310.5h0M413.4 309.3h0M413.9 295.2h0M414.9 294.5h0M387.9 289.7h0M423.2 301.5h0M394.0 308.3h0M407.7 312.3h0M417.6 316.6h0M415.7 292.5h0M421.5 306.7h0M387.3 306.1h0M395.5 306.4h0M421.5 305.6h0M397.6 303.4h0M418.0 321.2h0M427.6 298.5h0M414.4 308.9h0M437.1 297.5h0M397.4 302.8h0M357.9 298.1h0M422.3 296.0h0M393.1 292.4h0M412.9 317.3h0M405.8 308.4h0M415.8 313.5h0M385.7 304.1h0M385.6 289.9h0M394.2 305.2h0M413.7 312.0h0M407.1 311.6h0M430.5 315.9h0M411.3 293.0h0M443.0 312.6h0M390.6 303.8h0M425.9 301.0h0M419.1 319.1h0M401.3 309.2h0M411.8 312.0h0M422.6 316.9h0M418.4 309.7h0M379.3 295.0h0M422.4 305.9h0M432.6 304.7h0M435.9 319.8h0M417.7 295.1h0M416.6 308.1h0M433.8 294.6h0M420.8 316.4h0M400.3 305.2h0M433.6 294.7h0M437.2 302.7h0M393.1 292.3h0M400.5 291.4h0M384.8 314.2h0M431.7 302.7h0M398.2 292.7h0M409.8 289.2h0M402.7 295.2h0M404.5 310.3h0M412.5 294.7h0M430.3 306.9h0M424.0 308.1h0M417.1 308.6h0M425.5 312.5h0M420.3 307.2h0M394.2 302.9h0M406.5 313.2h0M389.0 298.5h0M391.1 299.2h0M419.5 317.8h0M422.3 302.9h0M393.8 288.8h0M387.5 309.8h0M418.8 314.1h0M390.3 298.2h0M409.2 294.1h0M395.7 300.1h0M395.7 289.0h0M420.1 288.4h0M445.9 302.9h0M426.1 303.1h0M437.6 312.3h0M427.4 298.4h0M458.3 311.0h0M414.7 290.8h0M421.0 310.9h0M406.2 293.1h0M421.3 311.5h0M409.2 294.6h0M396.6 300.3h0M422.3 291.5h0M433.1 299.6h0M417.1 295.4h0M390.4 310.0h0M422.6 304.3h0M422.5 308.7h0M408.2 314.6h0M415.9 309.2h0M393.1 305.5h0M420.4 298.6h0M398.9 293.4h0M408.2 308.4h0M427.7 301.1h0M402.7 309.1h0M419.7 307.0h0M399.6 297.3h0M383.5 302.2h0M410.1 319.2h0M426.1 314.1h0M408.7 292.3h0M443.9 310.1h0M395.8 296.6h0M385.3 290.1h0M412.1 290.9h0M426.5 295.0h0M418.4 295.3h0M451.1 319.1h0M420.4 290.8h0M420.2 307.1h0M431.9 296.1h0M389.7 311.4h0M423.5 301.6h0M388.1 303.1h0M416.4 314.4h0M401.1 308.5h0M445.5 305.6h0M440.1 296.8h0M401.7 295.7h0M414.2 312.8h0M388.3 292.6h0M414.6 309.9h0M400.2 296.0h0M392.8 287.2h0M426.9 295.8h0M396.6 299.8h0M413.3 309.1h0M398.4 295.8h0M412.0 315.5h0M416.7 296.5h0M430.5 305.0h0M414.7 294.3h0M421.3 296.4h0M427.6 298.8h0M390.4 297.4h0M386.8 293.7h0M401.2 290.7h0M395.1 300.0h0M397.0 303.0h0M421.6 307.7h0M381.5 294.3h0M402.3 308.7h0M378.0 294.7h0M410.7 316.1h0M415.9 295.5h0M424.1 295.7h0M425.3 306.3h0M396.4 298.6h0M392.9 289.8h0M384.4 296.1h0M432.8 297.8h0M383.9 308.0h0M406.5 308.8h0M431.2 301.9h0M422.8 295.8h0M429.7 305.2h0M423.7 302.2h0M418.6 318.5h0M404.7 309.0h0M393.2 298.3h0M397.4 298.9h0M384.0 291.2h0M413.9 292.6h0M426.0 295.1h0M401.1 294.2h0M411.2 309.0h0M424.3 297.9h0M425.5 289.8h0M434.3 320.7h0M415.1 321.6h0M394.0 287.6h0M395.9 294.4h0M416.5 317.5h0M389.6 305.7h0M404.8 294.0h0M395.6 302.9h0M413.5 315.2h0M422.3 292.9h0M406.0 317.5h0M390.3 288.1h0M390.1 303.5h0M421.2 306.1h0M387.9 298.8h0M390.0 311.5h0M418.9 322.3h0M397.4 302.1h0M431.3 303.9h0M410.0 312.7h0M376.4 292.1h0M399.5 311.9h0M406.7 292.7h0M397.0 298.3h0M431.4 314.2h0M396.4 296.0h0M417.0 296.8h0M386.1 296.4h0M393.2 297.9h0M423.8 303.4h0M393.9 303.5h0M403.6 292.9h0M424.5 301.5h0M432.2 308.4h0M383.5 299.9h0M417.1 288.3h0M414.2 322.2h0M406.3 294.5h0M415.2 313.7h0M423.0 296.8h0M424.4 288.9h0M439.4 290.3h0M390.6 295.8h0M413.5 291.0h0M399.5 297.2h0M397.3 296.5h0M383.9 304.3h0M430.3 304.9h0M421.1 296.2h0M388.8 289.9h0M405.1 311.0h0M428.5 287.2h0M396.7 291.5h0M417.4 296.7h0M404.8 309.4h0M406.8 315.1h0M421.8 302.3h0M410.7 292.5h0M440.2 311.0h0M385.6 301.0h0M401.7 306.1h0M403.0 287.9h0M420.2 310.3h0M402.6 287.4h0M425.4 308.1h0M406.2 313.1h0M415.2 294.0h0M409.5 294.0h0M396.8 302.8h0M386.9 307.1h0M408.2 313.2h0M392.3 301.9h0M418.1 311.6h0M434.3 302.6h0M441.7 295.7h0M390.7 306.1h0M394.8 299.0h0M400.1 295.8h0M411.1 308.6h0M445.2 317.3h0M397.5 302.4h0M389.3 299.0h0M428.0 315.5h0M419.7 310.8h0M410.8 317.3h0M393.9 297.3h0M396.5 296.0h0M403.5 293.9h0M418.9 322.6h0M396.1 297.2h0M427.3 313.0h0M397.7 304.0h0M407.4 292.5h0M425.0 312.4h0M396.1 303.0h0M399.9 296.9h0M417.0 312.4h0M379.0 287.3h0M425.7 303.2h0M419.1 295.6h0M427.8 293.8h0M434.9 295.6h0M428.5 310.5h0M436.5 301.1h0M394.6 306.7h0M410.0 310.0h0M422.1 311.7h0M402.9 292.7h0M419.6 310.8h0M402.5 307.6h0M399.3 295.7h0M394.1 304.7h0M396.2 302.1h0M399.2 311.9h0M417.1 314.4h0M440.8 306.6h0M425.7 308.2h0M416.3 309.5h0M438.8 307.8h0M400.0 288.0h0M401.5 310.2h0M422.3 308.3h0M410.6 320.5h0M395.5 302.3h0M382.7 297.1h0M400.1 296.7h0M425.4 301.3h0M421.9 303.2h0M399.6 319.6h0M392.1 293.8h0M414.5 295.3h0M418.8 297.1h0M406.3 310.0h0M432.7 300.0h0M428.9 295.7h0M400.1 305.9h0M415.5 312.6h0M423.2 308.3h0M427.1 308.5h0M410.9 309.2h0M425.6 301.3h0M396.4 293.3h0M415.8 292.7h0M436.9 304.0h0M425.5 299.7h0M398.3 302.7h0M356.0 302.8h0M413.9 295.5h0M420.2 311.1h0M401.6 313.0h0M398.3 307.5h0M397.2 307.1h0M397.1 298.1h0M436.0 300.3h0M418.5 296.2h0M403.6 313.1h0M395.1 303.0h0M397.5 291.8h0M398.4 304.9h0M420.0 306.9h0M400.5 306.9h0M440.9 291.8h0M429.9 310.0h0M390.4 303.9h0M403.9 291.6h0M425.9 307.1h0M428.7 316.9h0M423.1 296.7h0M393.4 293.1h0M423.4 298.8h0M390.7 294.6h0M418.0 312.7h0M424.6 303.9h0M429.5 300.6h0M385.9 299.4h0M389.7 290.4h0M419.2 313.3h0M429.5 295.0h0M398.1 302.5h0M408.1 317.0h0M420.7 305.7h0M416.8 309.8h0M415.1 295.2h0M384.0 294.8h0M421.4 314.9h0M399.9 306.8h0M405.0 294.2h0M394.9 306.7h0M406.6 292.0h0M453.0 299.5h0M424.3 306.5h0M424.6 299.4h0M419.5 293.3h0M394.0 294.3h0M396.2 301.6h0M394.9 306.2h0M418.1 307.3h0M438.2 309.8h0M404.8 309.2h0M402.1 288.8h0M403.1 307.9h0M434.1 297.5h0M388.7 290.2h0M433.1 300.9h0M381.8 293.7h0M404.5 308.5h0M398.6 306.5h0M418.6 310.3h0M393.1 291.1h0M421.3 292.7h0M429.9 303.8h0M399.0 303.9h0M408.2 291.9h0M439.4 315.3h0M425.3 307.3h0M422.1 303.7h0M409.5 312.1h0M398.4 297.4h0M401.8 306.6h0M392.1 304.3h0M386.9 302.1h0M425.6 307.1h0M421.7 313.3h0M435.6 292.0h0M390.5 294.0h0M421.4 299.1h0M396.7 311.3h0M419.9 310.5h0M448.4 303.8h0M435.9 302.0h0M411.8 309.1h0M422.8 293.2h0M427.8 304.7h0M414.2 309.7h0M406.7 311.5h0M422.1 300.1h0M427.8 293.9h0M416.0 295.9h0M415.6 310.6h0M422.2 303.3h0M386.8 288.4h0M415.6 314.2h0M393.7 298.6h0M394.0 298.0h0M412.2 313.8h0M427.5 294.6h0M428.8 301.9h0M428.9 306.6h0M437.5 303.7h0M431.5 295.0h0M422.6 297.2h0M397.0 295.5h0M398.2 297.3h0M421.1 288.6h0M436.4 301.5h0M406.7 293.2h0M424.3 310.9h0M415.2 289.4h0M394.1 296.0h0M406.9 309.1h0M396.9 293.8h0M400.7 292.9h0M405.8 293.0h0M427.5 306.3h0M410.6 325.8h0M387.9 311.0h0M428.1 310.9h0M421.1 306.8h0M397.9 300.2h0M398.9 294.9h0M422.8 298.4h0M401.3 308.9h0M411.3 289.2h0M432.5 295.5h0M439.4 297.6h0M394.3 292.4h0M429.8 300.6h0M411.8 287.6h0M404.1 293.0h0M420.1 323.9h0M430.8 301.8h0M430.3 303.9h0M427.0 298.6h0M383.7 301.7h0M427.3 306.5h0M415.7 292.5h0M416.9 292.1h0M423.3 300.5h0M389.1 299.5h0M387.6 304.6h0M391.2 299.5h0M412.6 313.6h0M420.8 298.5h0M421.0 297.0h0M429.0 305.8h0M406.0 309.6h0M411.9 293.8h0M414.8 295.6h0M413.0 314.5h0M415.4 323.2h0M429.2 307.3h0M382.9 301.3h0M386.9 291.3h0M406.6 292.1h0M397.2 311.0h0M405.2 292.7h0M403.6 308.8h0M412.7 294.3h0M430.0 301.9h0M415.8 311.9h0M447.3 301.5h0M393.6 306.6h0M426.5 304.5h0M424.5 292.1h0M394.2 293.6h0M437.3 330.5h0M422.3 303.0h0M422.1 300.5h0M418.2 311.8h0M424.0 307.7h0M411.3 289.9h0M443.6 324.6h0M418.8 315.6h0M403.4 288.3h0M413.1 312.4h0M398.4 303.4h0M414.5 287.5h0M397.5 303.9h0M405.3 291.3h0M397.9 294.7h0M392.6 301.4h0M406.5 308.5h0M420.1 310.8h0M395.7 308.3h0M408.0 313.7h0M426.3 308.7h0M385.4 298.0h0M409.5 292.4h0M404.7 291.2h0M415.3 294.8h0M396.9 304.3h0M428.0 303.7h0M396.7 312.3h0M413.1 311.6h0M435.0 311.7h0M390.3 303.2h0M422.2 308.8h0M427.2 310.2h0M393.6 287.9h0M416.9 296.0h0M398.9 294.2h0M413.6 292.5h0M406.1 294.7h0M417.2 291.4h0M433.1 303.2h0M411.5 294.8h0M402.1 310.8h0M394.2 301.9h0M396.8 305.8h0M423.3 298.2h0M380.4 309.2h0M422.0 299.7h0M391.4 295.5h0M395.7 305.0h0M416.5 293.3h0M453.1 315.4h0M428.1 310.3h0M388.1 287.1h0M390.8 294.9h0M396.7 299.7h0M423.0 311.4h0M396.1 292.1h0M423.0 301.4h0M431.2 301.0h0M394.5 288.3h0M409.0 315.1h0M425.2 313.4h0M447.2 303.7h0M417.5 308.9h0M391.3 296.3h0M417.1 310.7h0M417.7 294.8h0M393.5 300.5h0M397.5 297.4h0M438.9 319.0h0M403.7 289.7h0M390.2 299.4h0M420.3 293.9h0M426.7 302.6h0M410.1 294.7h0M412.9 318.2h0M434.5 296.3h0M393.1 288.9h0M408.3 311.8h0M429.1 296.3h0M413.6 293.3h0M400.9 287.3h0M433.7 306.9h0M422.9 305.0h0M411.3 294.0h0M392.3 293.2h0M417.4 290.4h0M403.7 311.9h0M408.6 294.2h0M425.6 308.3h0M425.0 312.8h0M392.9 311.7h0M438.4 305.2h0M425.4 299.7h0M423.4 298.0h0M426.1 293.5h0M426.5 299.8h0M406.1 294.0h0M420.7 312.6h0M416.2 293.2h0M414.9 310.2h0M395.7 312.5h0M381.0 297.6h0M423.2 309.6h0M398.8 309.0h0M394.7 294.8h0M399.0 304.9h0M402.5 309.1h0M406.2 291.8h0M399.8 295.4h0M423.7 301.4h0M423.0 309.6h0M425.0 297.6h0M427.3 303.5h0M425.6 309.5h0M442.5 306.0h0M440.6 298.9h0M391.4 304.7h0M419.3 294.5h0M438.7 299.9h0M370.7 294.8h0M419.7 289.6h0M421.6 295.7h0M441.9 304.2h0M426.4 294.4h0M405.5 289.4h0M395.2 303.9h0M409.5 294.3h0M409.2 309.2h0M427.3 311.3h0M423.2 309.8h0M412.5 309.6h0M424.2 301.6h0M442.4 311.2h0M416.1 296.2h0M415.3 287.2h0M406.3 316.4h0M397.1 291.7h0M402.0 310.4h0M421.1 314.3h0M409.2 289.9h0M427.4 301.9h0M416.0 314.0h0M422.0 294.2h0M426.0 307.6h0M414.7 314.6h0M396.7 296.7h0M386.3 303.5h0M380.3 303.6h0M424.4 311.6h0M434.6 301.0h0M388.4 296.6h0M412.6 310.3h0M423.2 312.6h0M430.2 296.0h0M424.8 308.4h0M392.0 297.8h0M383.9 298.8h0M406.7 313.8h0M413.5 294.0h0M419.7 312.0h0M417.8 296.1h0M442.4 320.0h0M427.2 297.2h0M386.7 300.1h0M420.0 296.4h0M431.1 303.2h0M407.5 309.8h0M415.0 312.9h0M382.0 291.1h0M410.1 290.5h0M392.3 293.0h0M438.7 303.1h0M420.3 313.8h0M396.1 306.0h0M430.5 329.8h0M377.4 297.4h0M391.5 299.3h0M437.8 292.8h0M423.9 302.0h0M387.0 306.6h0M391.5 293.8h0M420.1 309.4h0M398.3 304.2h0M400.8 307.1h0M385.8 294.3h0M385.0 292.7h0M424.7 309.0h0M426.2 304.5h0M412.2 288.7h0M405.6 314.7h0M425.3 316.1h0M435.3 301.3h0M396.7 304.7h0M423.0 294.7h0M380.1 306.7h0M422.4 299.5h0M429.5 305.5h0M407.9 310.9h0M390.2 304.1h0M390.8 294.9h0M428.3 299.9h0M389.9 290.5h0M419.0 308.0h0M405.8 310.1h0M420.9 298.3h0M393.2 300.3h0M385.7 305.5h0M416.7 311.1h0M393.2 290.5h0M426.6 301.1h0M424.3 295.6h0M418.2 310.9h0M422.2 307.5h0M423.4 306.2h0M395.3 298.0h0M400.4 309.0h0M397.9 307.3h0M407.0 308.2h0M400.8 306.1h0M419.7 309.1h0M394.6 303.6h0M420.9 314.1h0M428.7 304.1h0M382.6 306.2h0M430.8 309.8h0M439.2 290.2h0M409.9 294.7h0M431.5 300.2h0M385.9 302.4h0M393.9 304.2h0M384.8 310.6h0M419.2 297.2h0M424.4 307.7h0M406.4 291.6h0M420.5 297.7h0M403.2 290.9h0M400.0 304.8h0M398.7 290.0h0M402.4 290.7h0M385.8 307.5h0M394.8 312.2h0M394.0 288.9h0M391.0 297.4h0M421.5 299.8h0M406.8 312.1h0M407.1 293.5h0M420.8 298.0h0M397.6 308.4h0M411.9 309.9h0M390.0 308.4h0M414.9 313.8h0M428.7 294.9h0M411.4 311.2h0M422.8 311.2h0M425.0 301.9h0M402.3 294.9h0M428.2 293.8h0M389.1 303.4h0M407.2 292.0h0M423.8 306.1h0M393.0 298.4h0M441.9 301.6h0M419.8 306.6h0M404.4 294.7h0M428.0 298.3h0M395.8 309.7h0M422.0 308.8h0M428.5 303.3h0M425.8 291.3h0M437.3 321.8h0M411.7 288.0h0M417.1 292.4h0M408.8 292.6h0M410.4 294.8h0M413.7 286.8h0M424.4 301.4h0M419.5 317.3h0M392.3 294.8h0M398.1 312.2h0M393.0 288.9h0M396.5 293.2h0M411.8 315.7h0M388.4 301.1h0M433.5 292.6h0M406.4 324.8h0M393.6 302.1h0M388.4 298.8h0M422.0 317.4h0M411.0 292.4h0M425.8 302.9h0M398.0 312.0h0M401.9 292.1h0M414.9 293.1h0M447.0 309.1h0M411.6 294.7h0M402.2 308.4h0M416.9 310.6h0M418.4 310.8h0M421.3 298.1h0M403.8 290.4h0M414.4 310.1h0M396.1 300.8h0M398.6 295.9h0M461.9 307.9h0M426.5 296.1h0M419.8 295.0h0M461.0 306.8h0M412.3 309.5h0M413.7 293.1h0M424.8 302.1h0M406.4 294.4h0M415.2 310.9h0M429.9 307.7h0M380.3 300.5h0M409.1 325.2h0M384.7 309.7h0M396.1 305.5h0M396.0 298.3h0M404.3 308.4h0M408.6 309.8h0M426.1 306.3h0M432.7 294.8h0M386.6 295.9h0M387.4 293.8h0M391.4 299.9h0M393.1 309.2h0M424.1 306.7h0M418.4 313.3h0M446.9 326.3h0M439.4 307.5h0M439.1 307.7h0M443.0 308.6h0M438.4 293.2h0M391.9 294.4h0M422.7 302.9h0M448.2 304.4h0M396.0 290.4h0M428.2 308.7h0M406.9 314.0h0M400.3 293.2h0M404.0 307.4h0M425.7 300.9h0M423.3 314.0h0M388.2 306.0h0M414.3 295.7h0M385.3 299.9h0M390.9 311.8h0M420.2 320.5h0M406.8 313.1h0M429.0 310.2h0M395.3 296.9h0M406.0 314.3h0M399.9 291.1h0M434.1 316.5h0M419.3 308.0h0M402.0 293.1h0M401.2 312.3h0M397.1 291.4h0M417.0 294.4h0M413.3 293.2h0M397.5 294.4h0M396.9 310.6h0M426.1 306.9h0M376.8 286.8h0M417.3 295.9h0M420.5 306.9h0M383.9 298.9h0M411.0 309.2h0M404.1 291.9h0M425.3 309.1h0M391.7 302.1h0M409.2 309.6h0M423.1 290.7h0M403.0 291.9h0M415.3 292.8h0M421.9 292.0h0M399.2 296.3h0M415.0 292.0h0M421.4 314.9h0M388.6 305.2h0M391.7 303.6h0M425.4 300.3h0M388.8 307.2h0M387.9 299.1h0M397.0 295.8h0M387.0 302.5h0M407.1 322.5h0M380.0 291.6h0M427.7 314.6h0M417.9 293.6h0M423.4 310.1h0M430.0 304.6h0M414.3 293.2h0M435.5 301.1h0M434.5 305.5h0M404.9 290.5h0M388.8 311.1h0M391.3 305.8h0M390.5 301.6h0M417.9 308.7h0M389.2 294.2h0M397.3 301.5h0M413.3 320.6h0M418.8 291.7h0M411.7 295.1h0M383.4 290.1h0M439.7 301.0h0M417.3 295.4h0M449.3 312.9h0M396.8 307.5h0M410.4 312.6h0M399.6 309.3h0M404.9 294.4h0M385.3 298.3h0M391.9 301.5h0M397.2 299.6h0M397.4 299.2h0M425.5 293.8h0M425.4 307.2h0M396.4 301.8h0M400.4 306.8h0M411.0 316.5h0M417.1 291.0h0M420.9 297.3h0M423.3 308.3h0M452.4 311.0h0M383.3 307.9h0M401.4 295.3h0M422.6 301.1h0M412.1 309.6h0M414.7 316.8h0M426.8 297.6h0M424.3 307.8h0M396.6 303.5h0M417.1 293.5h0M413.8 311.7h0M433.0 303.4h0M411.7 293.2h0M404.8 311.8h0M425.2 309.6h0M407.2 316.9h0M394.1 302.1h0M426.8 288.8h0M397.2 304.2h0M398.8 295.6h0M419.3 298.1h0M413.5 292.7h0M404.4 308.1h0M408.6 291.1h0M380.6 305.6h0M397.0 290.6h0M411.7 312.6h0M396.3 302.9h0M397.5 295.5h0M416.2 292.3h0M394.6 295.8h0M425.2 311.5h0M409.2 294.3h0M438.1 294.2h0M382.2 295.5h0M422.2 302.0h0M432.3 303.0h0M399.2 290.5h0M422.1 316.9h0M369.9 291.0h0M432.8 309.1h0M428.9 311.6h0M399.6 309.3h0M425.0 299.6h0M423.9 309.3h0M424.7 304.5h0M395.1 297.7h0M383.5 301.8h0M413.4 294.9h0M392.1 300.4h0M426.9 305.6h0M390.4 290.8h0M419.6 294.5h0M438.6 305.4h0M419.3 296.6h0M398.2 303.4h0M384.4 302.1h0M427.6 291.3h0M416.4 316.5h0M392.2 296.7h0M445.9 309.7h0M397.8 304.0h0M395.9 300.8h0M392.7 290.0h0M389.6 300.7h0M389.7 297.2h0M397.3 301.9h0M441.2 298.5h0M423.7 302.0h0M397.6 300.4h0M425.2 305.0h0M422.6 303.1h0M423.2 310.0h0M423.1 304.5h0M403.3 293.6h0M402.7 306.9h0M419.7 316.2h0M454.5 304.9h0M424.6 299.5h0M419.5 309.6h0M409.9 309.4h0M398.3 304.2h0M414.1 295.0h0M429.0 317.7h0M407.1 294.4h0M427.6 304.9h0M393.7 307.1h0M392.3 311.3h0M386.9 307.7h0M406.3 289.6h0M443.0 309.6h0M424.9 303.6h0M413.9 292.5h0M411.4 313.5h0M439.6 287.1h0M394.3 299.0h0M389.5 303.2h0M421.3 315.2h0M427.5 302.4h0M420.7 298.2h0M412.6 309.8h0M395.6 305.8h0M426.9 306.9h0M403.1 309.9h0M381.1 290.4h0M397.2 308.7h0M408.2 309.4h0M389.0 303.8h0M401.2 288.6h0M423.1 287.6h0M410.6 294.1h0M410.1 316.1h0M392.5 288.7h0M387.2 306.7h0M436.4 292.7h0M424.7 318.2h0M397.2 297.9h0M408.5 293.7h0M391.6 303.0h0M427.0 298.5h0M421.6 310.8h0M423.6 304.7h0M421.4 318.9h0M428.4 304.0h0M425.9 296.9h0M402.9 306.9h0M388.5 295.6h0M402.5 306.9h0M397.6 300.7h0M407.8 318.0h0M403.2 287.0h0M391.8 301.4h0M421.9 303.0h0M396.5 299.0h0M417.1 296.2h0M395.0 300.9h0M425.3 307.0h0M394.3 303.1h0M397.7 294.3h0M424.1 305.2h0M415.7 293.2h0M395.7 300.1h0M420.9 294.2h0M398.0 295.7h0M424.7 294.8h0M412.0 309.1h0M420.0 306.3h0M420.3 309.5h0M421.5 290.0h0M391.4 304.1h0M384.4 300.1h0M428.6 305.0h0M402.9 307.7h0M403.8 311.7h0M403.5 294.6h0M397.3 291.3h0M390.4 292.7h0M437.4 305.4h0M421.8 293.8h0M392.0 293.1h0M407.0 291.7h0M399.9 296.0h0M392.8 307.3h0M439.5 307.2h0M408.7 310.4h0M394.9 313.0h0M395.8 292.6h0M425.7 306.7h0M394.6 303.0h0M422.8 302.1h0M422.5 301.7h0M422.0 293.4h0M425.2 303.6h0M419.6 297.2h0M398.1 299.0h0M420.4 298.7h0M423.4 299.5h0M420.5 315.5h0M397.1 296.2h0M393.3 306.0h0M438.8 302.3h0M423.5 303.4h0M397.1 311.0h0M408.7 312.1h0M404.6 307.8h0M396.6 303.3h0M397.1 301.8h0M406.2 309.4h0M399.6 296.0h0M440.2 295.7h0M428.2 312.9h0M397.6 290.4h0M421.9 302.7h0M409.4 289.1h0M419.2 311.1h0M391.6 296.2h0M440.8 286.9h0M396.4 298.6h0M404.2 308.0h0M428.8 291.0h0M391.2 296.3h0M408.7 288.8h0M425.8 310.2h0M437.1 295.5h0M431.2 306.0h0M408.8 292.5h0M418.5 287.1h0M436.8 299.9h0M410.6 312.7h0M396.2 300.1h0M416.4 314.7h0M394.8 294.8h0M423.9 311.8h0M390.7 294.4h0M424.4 313.4h0M392.9 298.9h0M422.5 304.6h0M434.3 316.5h0M407.6 288.2h0M413.5 309.4h0M411.2 308.9h0M404.9 294.9h0M402.2 293.9h0M396.3 306.4h0M420.1 313.8h0M411.7 309.5h0M429.3 303.1h0M418.8 319.4h0M397.5 299.6h0M420.7 307.2h0M421.4 305.9h0M418.7 313.0h0M417.7 314.2h0M398.2 303.5h0M389.9 295.5h0M416.8 327.4h0M404.1 295.1h0M403.4 310.4h0M379.3 303.9h0M423.0 302.8h0M417.6 312.5h0M432.0 292.4h0M401.1 305.6h0M416.8 295.6h0M425.2 303.1h0M418.4 297.3h0M427.1 319.9h0M425.6 300.9h0M421.5 298.6h0M409.1 308.6h0M409.6 292.9h0M415.5 324.7h0M425.7 299.6h0M446.2 299.8h0M383.5 300.8h0M388.4 304.3h0M423.0 301.8h0M445.4 318.6h0M402.4 312.6h0M422.1 301.8h0M424.0 299.8h0M398.8 309.8h0M434.3 304.2h0M402.0 288.6h0M420.9 307.3h0M390.9 298.9h0M427.9 305.0h0M393.1 293.9h0M418.6 289.1h0M430.8 297.7h0M404.1 294.3h0M423.9 306.8h0M393.0 290.3h0M422.9 299.2h0M392.1 311.6h0M451.0 315.1h0M427.0 311.0h0M418.5 309.4h0M433.9 319.1h0M426.7 305.2h0M433.2 305.6h0M425.6 310.6h0M392.7 303.8h0M398.4 297.1h0M415.9 309.0h0M407.0 309.8h0M399.2 290.8h0M416.7 296.5h0M405.7 324.3h0M430.8 308.9h0M398.0 296.8h0M413.0 291.2h0M429.2 302.1h0M403.2 306.8h0M419.1 309.6h0M415.1 293.5h0M436.0 290.8h0M414.0 310.2h0M392.6 306.6h0M388.9 299.4h0M430.8 308.2h0M406.4 309.7h0M411.1 287.7h0M420.9 295.7h0M418.0 311.1h0M402.4 293.2h0M395.5 297.5h0M460.0 295.6h0M396.2 299.5h0M451.2 316.6h0M430.7 295.7h0M466.6 314.4h0M420.1 306.6h0M409.3 294.3h0M425.4 298.4h0M399.6 295.3h0M402.4 294.3h0M429.4 312.6h0M442.7 314.8h0M397.5 303.8h0M394.0 307.8h0M413.3 312.3h0M389.0 299.5h0M423.2 298.0h0M383.1 302.1h0M430.8 309.9h0M425.0 296.2h0M410.1 293.3h0M395.2 310.7h0M394.9 315.9h0M423.4 298.0h0M398.6 296.7h0M387.9 304.9h0M430.7 300.2h0M442.1 324.1h0M419.3 310.1h0M434.4 306.6h0M407.0 288.5h0M392.7 307.0h0M393.9 287.4h0M437.1 302.3h0M400.6 295.2h0M394.6 294.3h0M418.2 309.4h0M422.2 300.8h0M391.1 305.8h0M422.4 305.1h0M420.0 291.4h0M429.1 307.3h0M411.5 309.7h0M412.9 309.9h0M393.9 297.9h0M407.9 308.3h0M391.0 305.6h0M405.9 287.3h0M392.3 299.0h0M421.2 307.2h0M388.9 310.1h0M424.1 307.3h0M426.9 294.7h0M436.4 290.5h0M398.2 297.3h0M426.2 299.1h0M408.6 290.2h0M431.2 302.2h0M422.0 311.6h0M433.8 294.5h0M461.9 312.1h0M406.5 310.9h0M399.8 291.8h0M416.5 294.6h0M412.8 308.7h0M426.9 297.7h0M426.0 305.9h0M411.3 313.0h0M398.4 302.7h0M409.3 293.9h0M435.7 332.6h0M421.3 306.6h0M402.0 295.1h0M398.9 307.0h0M397.6 299.6h0M435.8 302.5h0M395.6 295.4h0M381.2 292.1h0M431.5 296.3h0M411.4 293.8h0M399.5 292.7h0M398.2 294.3h0M406.0 310.4h0M397.1 302.8h0M416.0 294.2h0M363.5 286.9h0M420.7 290.9h0M391.7 306.5h0M441.7 298.3h0M427.1 301.2h0M424.0 309.4h0M420.3 308.5h0M397.0 309.8h0M429.6 309.8h0M427.4 301.9h0M423.0 305.1h0M426.0 302.1h0M398.7 303.7h0M432.6 298.8h0M398.4 308.1h0M399.8 294.5h0M434.5 301.3h0M384.8 296.9h0M371.6 289.6h0M408.4 313.2h0M407.3 309.9h0M398.6 289.5h0M397.3 306.8h0M432.8 304.6h0M394.7 310.9h0M420.4 288.0h0M420.9 295.7h0M411.4 314.6h0M416.3 309.8h0M400.7 305.8h0M401.9 295.1h0M409.3 292.7h0M438.8 330.1h0M398.4 298.7h0M396.1 292.4h0M397.6 298.1h0M404.9 310.9h0M427.1 311.8h0M405.0 294.9h0M402.1 308.0h0M395.5 303.6h0M430.2 308.8h0M435.9 304.5h0M390.1 314.0h0M419.8 294.6h0M420.8 294.8h0M419.2 310.4h0M411.5 289.4h0M396.9 299.6h0M393.4 288.5h0M400.9 308.5h0M431.7 308.3h0M426.3 305.0h0M403.0 295.5h0M397.8 299.9h0M401.4 292.4h0M398.7 312.0h0M401.4 295.9h0M426.3 293.7h0M407.8 312.0h0M436.7 302.3h0M423.8 302.4h0M395.1 297.7h0M421.8 311.5h0M405.4 311.9h0M426.2 301.9h0M410.1 294.1h0M386.6 326.1h0M387.6 302.0h0M404.6 329.7h0M430.3 327.5h0M398.8 308.5h0M417.3 292.9h0M441.1 298.0h0M437.5 313.6h0M437.3 309.9h0M435.7 316.3h0M446.9 303.2h0M435.9 301.9h0M419.8 290.5h0M388.0 299.6h0M394.1 293.3h0M427.1 294.6h0M410.1 318.2h0M427.1 322.6h0M436.1 305.8h0M360.4 287.3h0M418.0 289.7h0M428.7 312.8h0M429.0 300.0h0M451.6 355.6h0M457.6 319.0h0M395.6 302.5h0M461.3 302.0h0M434.6 290.6h0M359.1 292.2h0M440.6 298.9h0M418.3 291.2h0M411.3 320.1h0M414.8 318.0h0M397.6 308.1h0M442.0 316.9h0M395.1 302.5h0M447.5 314.5h0M378.1 299.5h0M432.2 305.2h0M417.6 288.6h0M420.4 312.8h0M436.0 326.5h0M437.5 307.8h0M438.2 299.7h0M469.7 326.2h0M381.1 292.9h0M436.0 312.1h0M433.0 309.0h0M441.9 300.2h0M398.5 309.8h0M404.5 311.9h0M440.3 300.3h0M441.3 297.6h0M390.9 305.0h0M391.5 306.4h0M436.7 306.6h0M427.4 309.2h0M409.8 314.9h0M400.2 295.4h0M452.4 321.1h0M421.8 313.9h0M400.5 310.8h0M426.5 289.2h0M411.5 312.2h0M393.2 310.9h0M426.6 314.1h0M432.0 297.6h0M419.6 319.5h0M436.3 299.4h0M388.2 288.8h0M375.1 288.6h0M398.6 305.5h0M429.5 308.2h0M436.9 297.0h0M438.7 312.0h0M434.9 327.0h0M440.1 311.1h0M401.9 313.8h0M423.0 291.1h0M399.5 287.4h0M385.9 315.9h0M440.6 315.3h0M462.6 321.6h0M435.3 300.2h0M437.8 318.7h0M441.4 322.8h0M403.8 310.7h0M375.2 288.9h0M365.6 289.2h0M438.0 288.8h0M397.9 288.4h0M460.5 287.1h0M417.4 293.6h0M438.3 292.1h0M388.3 298.1h0M460.3 322.4h0M396.6 312.4h0M384.5 290.8h0M428.2 329.0h0M435.5 296.6h0M419.6 315.6h0M434.2 313.1h0M393.1 291.7h0M434.6 312.8h0M447.1 305.3h0M409.9 289.8h0M436.4 300.2h0M439.8 304.0h0M436.2 331.8h0M444.5 287.9h0M427.7 317.3h0M433.0 311.3h0M384.3 293.1h0M444.6 299.8h0M432.3 301.1h0M417.3 292.6h0M433.7 326.2h0M438.5 305.2h0M453.0 324.1h0M386.0 294.8h0M402.5 308.9h0M395.7 308.0h0M431.1 333.0h0M416.7 329.1h0M447.8 300.2h0M392.0 301.8h0M439.9 307.8h0M382.6 293.0h0M440.6 306.5h0M422.7 324.5h0M419.4 288.0h0M412.4 312.4h0M394.4 304.1h0M468.3 303.5h0M445.3 318.3h0M438.2 311.9h0M386.5 290.8h0M445.9 303.2h0M408.1 311.8h0M444.7 296.7h0M389.5 307.4h0M396.6 298.5h0M428.5 313.9h0M446.2 300.6h0M432.6 303.3h0M431.1 312.7h0M459.1 332.9h0M447.9 293.1h0M389.2 302.9h0M410.8 315.5h0M412.9 292.3h0M395.4 312.3h0M428.0 321.2h0M442.7 324.2h0M373.4 287.0h0M440.1 308.6h0M379.6 308.7h0M425.9 296.7h0M446.8 299.7h0M376.1 307.7h0M382.6 305.7h0M394.5 308.8h0M421.8 321.0h0M432.8 340.3h0M422.1 293.3h0M419.8 291.3h0M426.8 288.9h0M395.5 294.8h0M446.7 302.8h0M420.9 288.2h0M435.1 346.5h0M428.1 314.9h0M431.5 329.3h0M391.6 312.1h0M421.0 333.6h0M389.9 305.3h0M411.4 311.4h0M458.0 293.7h0M396.7 293.3h0M430.7 316.8h0M408.3 320.8h0M437.2 299.3h0M398.3 295.7h0M405.7 286.8h0M431.3 305.7h0M390.0 304.9h0M387.1 289.1h0M374.1 293.7h0M401.4 311.8h0M436.9 326.7h0M396.1 298.8h0M385.1 299.8h0M432.2 311.5h0M439.0 289.6h0M428.4 311.5h0M383.4 307.6h0M401.9 310.5h0M447.8 293.9h0M427.6 326.2h0M420.7 313.1h0M444.0 314.1h0M433.5 313.8h0M378.9 298.9h0M394.2 293.1h0M394.5 301.7h0M453.4 303.8h0M371.8 294.7h0M397.2 288.3h0M437.8 304.2h0M369.5 290.1h0M367.8 291.9h0M369.8 289.8h0M371.3 288.4h0M371.9 287.2h0M369.7 289.6h0M372.3 287.0h0M368.8 290.9h0M370.4 289.2h0M368.3 291.1h0M370.6 288.9h0M367.7 292.3h0M367.5 292.7h0M370.7 288.7h0M369.2 290.7h0M370.8 288.8h0M370.7 289.1h0M370.0 289.7h0M370.0 289.6h0M369.5 290.1h0M372.3 286.9h0M369.4 290.7h0M372.3 287.2h0M368.5 291.2h0M368.9 290.8h0M371.9 287.4h0M369.2 290.3h0M370.9 288.6h0M371.0 288.4h0M369.2 290.7h0M370.3 289.5h0M369.0 290.9h0M383.9 292.2h0M387.5 288.4h0M376.2 302.7h0M385.1 290.8h0M381.7 295.4h0M384.4 292.2h0M384.8 291.7h0M383.8 292.9h0M378.2 300.5h0M378.3 299.9h0M384.0 292.4h0M380.6 296.7h0M380.7 297.0h0M376.6 302.4h0M380.9 296.6h0M379.6 298.3h0M384.9 291.8h0M375.7 303.2h0M379.2 298.5h0M375.6 303.3h0M377.4 300.8h0M381.6 295.1h0M383.1 293.8h0M378.2 299.8h0M379.9 297.8h0M378.4 299.7h0M383.0 293.7h0M380.2 297.6h0M377.4 301.2h0M381.0 297.2h0M379.3 298.8h0M384.5 291.8h0M385.1 290.9h0M379.4 298.4h0M384.9 291.4h0M378.5 299.6h0M381.1 296.9h0M382.4 294.6h0M378.0 300.3h0M383.7 293.0h0M379.8 298.2h0M377.0 301.3h0M386.7 288.7h0M381.9 295.6h0M386.7 288.9h0M384.0 292.3h0M375.9 303.4h0M383.2 293.0h0M386.1 289.4h0M387.0 289.2h0M382.6 294.2h0M377.5 301.0h0M382.9 294.0h0M381.9 295.2h0M378.5 299.9h0M375.9 303.1h0M375.8 302.9h0M377.1 301.6h0M382.6 294.2h0M382.5 294.5h0M376.0 302.8h0M386.0 290.2h0M378.6 299.4h0M376.2 302.7h0M376.5 302.5h0M384.6 290.9h0M382.4 294.6h0M378.0 300.3h0M380.2 297.5h0M384.5 291.5h0M385.6 296.8h0M388.6 292.8h0M386.9 295.5h0M385.5 296.6h0M384.2 299.5h0M385.6 297.0h0M387.2 294.9h0M384.4 298.7h0M381.7 303.7h0M382.6 301.4h0M385.3 297.7h0M382.4 302.1h0M387.4 294.1h0M387.7 293.5h0M384.1 299.5h0M388.8 291.5h0M389.8 290.8h0M388.8 292.2h0M385.9 296.1h0M389.0 291.3h0M387.2 294.9h0M381.1 304.5h0M381.2 304.0h0M382.0 302.2h0M387.3 294.4h0M384.6 298.6h0M386.1 296.3h0M386.9 294.8h0M389.5 291.0h0M382.9 301.5h0M386.1 296.8h0M384.4 298.9h0M382.4 302.0h0M387.6 293.2h0M388.5 292.2h0M385.2 297.2h0M387.3 294.2h0M384.3 298.8h0M387.5 294.0h0M384.0 299.9h0M390.2 290.3h0M383.0 301.1h0M388.4 292.3h0M387.2 294.2h0M384.2 298.7h0M384.7 298.0h0M390.1 290.0h0M382.3 302.0h0M382.8 301.8h0M382.0 302.8h0M439.4 317.5h0M414.8 311.6h0M417.5 307.4h0M402.9 354.3h0M466.9 308.2h0M424.2 344.7h0M397.2 315.3h0M443.6 301.3h0M428.9 313.7h0M424.3 328.7h0M430.9 310.5h0M451.6 293.0h0M452.9 308.3h0M452.9 324.6h0M416.7 292.3h0M415.3 288.1h0M455.6 329.0h0M393.5 355.5h0M414.0 295.0h0M406.6 294.8h0M398.8 317.1h0M420.0 312.2h0M424.8 303.0h0M429.1 315.2h0M388.1 311.9h0M439.3 328.7h0M446.3 319.2h0M413.1 294.5h0M424.7 307.5h0M435.9 294.1h0M400.8 315.0h0M437.2 292.1h0M426.9 315.8h0M424.8 318.9h0M446.1 327.9h0M429.0 303.2h0M452.7 349.5h0M432.1 299.8h0M460.4 303.0h0M428.7 303.8h0M438.0 336.7h0M411.8 318.8h0M424.1 312.7h0M408.7 339.1h0M433.5 339.2h0M424.3 301.2h0M440.4 311.7h0M452.5 292.5h0M408.3 297.3h0M418.0 308.0h0M438.9 333.0h0M418.7 293.0h0M451.0 313.4h0M424.8 328.2h0M422.2 335.8h0M431.6 318.4h0M436.9 341.0h0M453.0 321.9h0M426.5 307.0h0M380.9 318.1h0M434.3 336.0h0M410.9 350.6h0M435.9 300.7h0M408.9 293.8h0M415.1 304.7h0M446.1 302.0h0M419.2 312.5h0M425.1 311.5h0M432.1 302.6h0M382.6 302.9h0M376.1 330.9h0M432.6 302.7h0M432.5 291.2h0M387.8 289.1h0M421.8 346.2h0M403.5 310.4h0M431.0 315.0h0M437.8 297.5h0M380.0 332.3h0M408.3 306.0h0M436.3 307.8h0M442.6 315.3h0M419.4 304.8h0" stroke="#000" stroke-width="0.8" stroke-linecap="round" fill="none" opacity="0.85"/>
<path d="M421.9 277.6h0M401.7 286.2h0M403.5 284.9h0M411.4 285.8h0M414.2 285.2h0M421.1 286.7h0M407.0 285.7h0M407.0 283.6h0M407.2 286.0h0M411.1 283.9h0M405.0 283.2h0M405.3 286.2h0M411.6 286.4h0M412.8 280.8h0M421.4 284.3h0M410.9 286.2h0M407.0 283.5h0M419.6 285.5h0M415.7 285.1h0M420.7 283.9h0M406.3 280.0h0M412.9 284.7h0M421.5 266.8h0M421.8 285.2h0M402.9 280.5h0M419.3 276.9h0M415.9 285.5h0M416.4 285.3h0M412.8 280.4h0M415.8 279.8h0M404.6 283.9h0M413.9 275.1h0M407.2 267.6h0M405.4 284.5h0M414.5 271.2h0M417.4 284.1h0M402.1 282.6h0M415.8 284.1h0M422.4 277.9h0M401.4 283.7h0M417.0 284.5h0M406.6 285.0h0M415.3 284.7h0M403.0 283.7h0M406.1 282.1h0M402.1 282.9h0M413.0 285.5h0M417.2 285.8h0M415.9 285.3h0M410.5 279.4h0M403.3 267.2h0M409.8 284.9h0M404.8 286.0h0M401.6 286.7h0M410.3 285.0h0M418.9 286.3h0M413.8 275.9h0M412.7 286.1h0M405.3 285.3h0M408.9 285.4h0M408.6 282.2h0M408.7 286.8h0M401.4 286.2h0M412.1 278.8h0M403.6 286.3h0M421.9 282.3h0M403.3 282.7h0M412.0 285.1h0M422.4 284.9h0M419.4 283.3h0M415.1 286.7h0M406.3 284.7h0M412.9 280.4h0M408.2 276.1h0M419.2 281.2h0M401.5 285.4h0M414.4 281.9h0M407.1 285.8h0M417.9 283.5h0M406.0 286.3h0M416.7 280.8h0M421.7 286.2h0M404.7 285.3h0M416.3 279.1h0M401.5 285.0h0M418.7 278.7h0M422.2 274.0h0M417.4 274.3h0M413.1 284.2h0M401.4 269.3h0M411.3 277.0h0M407.2 283.8h0M417.2 283.8h0M406.7 283.0h0M417.2 258.2h0M406.1 277.5h0M414.1 270.4h0M408.0 280.5h0M416.1 280.8h0M417.3 273.7h0M408.7 281.1h0M418.1 286.6h0M420.1 271.4h0M404.5 281.8h0M420.0 276.7h0M409.4 281.0h0M409.3 265.9h0M418.8 285.2h0M420.7 285.0h0M416.1 285.5h0M405.0 282.2h0M406.4 273.3h0M406.6 283.2h0M403.9 276.8h0M414.2 285.0h0M402.1 282.7h0M408.9 285.3h0M409.2 286.1h0M412.7 281.9h0M420.7 281.1h0M413.0 282.8h0M408.2 272.5h0M415.2 284.2h0M410.1 270.9h0M412.9 282.6h0M410.4 276.5h0M409.5 286.5h0M406.4 282.1h0M401.5 282.8h0M411.9 272.5h0M415.4 272.2h0M411.3 277.9h0M410.7 285.6h0M420.6 284.4h0M414.7 282.4h0M410.1 277.4h0M407.8 284.0h0M415.3 277.7h0M407.6 286.6h0M413.9 284.5h0M418.6 285.2h0M402.1 283.1h0M402.4 283.4h0M410.2 269.8h0M405.1 286.6h0M416.0 275.5h0M408.6 283.8h0M413.2 286.0h0M410.7 282.1h0M412.3 283.8h0M421.5 272.3h0M402.7 274.1h0M413.4 281.1h0M411.3 285.5h0M410.9 280.9h0M415.9 282.9h0M412.7 286.0h0M415.5 286.4h0M408.9 284.7h0M405.7 285.6h0M407.4 273.8h0M408.0 283.2h0M414.0 284.3h0M404.9 286.6h0M421.3 271.2h0M402.6 284.3h0M414.9 277.2h0M412.2 283.5h0M408.2 284.7h0M419.9 284.9h0M404.4 275.3h0M414.6 284.7h0M420.8 284.1h0M415.3 284.3h0M406.6 277.3h0M412.6 277.2h0M417.2 278.3h0M413.4 279.7h0M418.7 284.5h0M413.9 280.9h0M407.8 285.1h0M412.4 284.1h0M411.6 275.6h0M402.2 283.5h0M406.1 278.3h0M417.4 285.6h0M407.8 272.0h0M401.5 266.7h0M407.1 283.9h0M420.9 280.1h0M411.9 284.4h0M407.2 276.0h0M405.1 285.8h0M421.1 274.2h0M415.2 276.8h0M406.9 279.6h0M413.7 286.5h0M406.6 283.7h0M409.5 278.5h0M415.3 278.0h0M410.3 285.5h0M402.0 283.4h0M408.8 283.3h0M411.2 282.1h0M408.2 279.5h0M413.5 265.9h0M415.0 282.4h0M405.6 278.7h0M422.3 274.3h0M420.0 284.0h0M406.7 285.4h0M421.4 275.5h0M407.1 285.7h0M413.1 280.5h0M414.9 282.3h0M419.8 285.2h0M403.9 273.5h0M411.3 285.7h0M417.4 279.3h0M419.1 285.0h0M408.3 281.3h0M417.4 280.1h0M405.6 273.8h0M414.6 285.7h0M410.8 283.6h0M403.1 285.1h0M410.5 283.3h0M418.2 284.6h0M419.1 282.8h0M417.0 286.4h0M421.1 276.2h0M416.5 281.0h0M407.3 285.2h0M409.2 266.2h0M416.4 279.0h0M418.2 286.3h0M407.2 281.7h0M413.9 284.5h0M413.0 277.3h0M406.6 274.8h0M412.9 265.6h0M405.3 280.2h0M410.4 275.0h0M410.3 283.4h0M419.6 284.3h0M418.9 285.9h0M412.6 265.1h0M406.5 281.0h0M411.9 271.0h0M409.4 284.0h0M413.6 283.6h0M409.3 281.1h0M406.6 283.0h0M414.5 283.8h0M403.9 279.5h0M410.8 282.1h0M412.1 284.5h0M408.9 284.9h0M406.8 286.5h0M405.0 283.3h0M415.2 279.9h0M406.2 280.0h0M416.8 281.9h0M417.0 283.4h0M413.5 285.8h0M410.3 272.1h0M401.7 267.0h0M417.0 283.4h0M415.5 286.0h0M405.5 284.8h0M420.5 283.3h0M406.7 272.9h0M416.6 282.3h0M404.5 284.2h0M407.8 285.1h0M409.2 284.2h0M418.8 282.4h0M412.2 280.3h0M402.1 265.4h0M413.8 278.5h0M409.0 280.1h0M413.1 268.5h0M409.5 285.3h0M404.7 281.8h0M406.1 262.1h0M416.7 284.2h0M409.0 277.5h0M409.6 267.3h0M413.8 286.3h0M412.6 281.5h0M406.0 285.3h0M407.4 281.0h0M411.2 284.1h0M409.9 285.2h0M414.4 283.3h0M408.3 278.7h0M406.8 286.4h0M407.3 283.0h0M409.4 276.8h0M412.2 284.1h0M407.4 283.1h0M407.7 265.4h0M406.2 280.5h0M408.9 266.3h0M403.0 286.4h0M408.5 285.9h0M413.4 284.0h0M417.8 281.7h0M404.1 282.6h0M407.8 283.0h0M408.8 286.3h0M415.3 276.8h0M415.2 283.1h0M419.5 283.9h0M415.2 273.8h0M418.9 281.9h0M418.4 285.1h0M410.4 285.8h0M407.8 281.4h0M407.2 282.0h0M411.2 280.0h0M414.0 281.8h0M421.1 285.9h0M419.2 282.9h0M415.6 284.6h0M410.5 280.6h0M411.3 285.1h0M412.3 281.8h0M411.7 281.0h0M406.3 277.9h0M409.0 278.7h0M410.1 285.4h0M408.0 283.6h0M403.0 284.8h0M411.8 283.7h0M415.7 286.0h0M411.4 285.8h0M402.3 279.6h0M417.2 284.6h0M409.9 276.0h0M421.7 277.8h0M412.7 284.0h0M420.9 285.3h0M409.9 279.9h0M407.5 282.7h0M416.8 275.3h0M411.4 280.5h0M416.9 283.5h0M404.4 277.7h0M410.0 266.1h0M415.0 285.8h0M416.7 282.3h0M401.5 272.3h0M405.8 279.3h0M417.4 274.0h0M413.5 283.6h0M407.2 285.9h0M402.4 286.4h0M417.1 275.5h0M407.6 280.2h0M422.0 272.3h0M415.7 281.2h0M407.8 263.3h0M421.0 265.3h0M404.3 267.2h0M412.2 286.1h0M405.7 277.9h0M416.8 284.5h0M419.3 283.5h0M416.1 279.3h0M412.2 275.5h0M420.9 276.6h0M407.8 250.5h0M403.8 272.7h0M403.8 284.3h0M414.4 281.2h0M404.8 271.3h0M408.9 276.2h0M404.8 276.4h0M401.4 277.0h0M408.2 268.4h0M419.8 280.1h0M406.7 281.3h0M412.3 276.9h0M409.0 275.4h0M419.3 284.5h0M422.1 282.9h0M414.5 285.3h0M407.7 277.4h0M419.7 277.1h0M412.4 259.3h0M403.5 286.3h0M417.8 261.0h0M406.4 286.4h0M416.7 284.8h0M415.2 284.6h0M413.8 286.3h0M407.1 278.2h0M408.5 285.6h0M417.0 277.3h0M418.8 285.7h0M401.8 284.4h0M414.6 285.1h0M412.6 277.7h0M409.9 272.2h0M406.4 274.0h0M416.8 271.2h0M404.4 278.1h0M401.5 286.7h0M416.6 276.6h0M402.4 283.7h0M406.8 283.9h0M410.4 282.1h0M418.8 285.1h0M417.6 282.6h0M404.3 284.3h0M416.4 284.3h0M404.8 281.8h0M408.2 284.6h0M404.7 274.1h0M403.0 276.9h0M411.9 277.1h0M414.9 281.5h0M405.1 280.0h0M418.9 279.2h0M404.6 286.7h0M410.3 279.5h0M408.4 282.1h0M403.2 277.2h0M417.5 282.0h0M407.6 283.0h0M407.2 284.5h0M411.1 283.7h0M416.6 283.6h0M414.5 280.6h0M406.8 281.4h0M421.9 280.9h0M411.1 283.3h0M419.0 285.2h0M412.4 286.6h0M409.5 281.4h0M420.3 286.6h0M411.1 286.4h0M413.2 285.9h0M411.5 284.1h0M420.9 281.8h0M415.6 280.7h0M417.1 277.5h0M420.9 285.9h0M411.6 269.5h0M415.5 284.5h0M410.4 284.9h0M421.5 285.3h0M408.1 284.6h0M417.3 278.4h0M416.8 285.9h0M407.1 282.4h0M421.1 275.2h0M415.6 286.7h0M404.2 277.4h0M418.4 272.4h0M409.7 275.3h0M405.3 279.3h0M409.4 286.1h0M412.7 285.9h0M415.0 273.3h0M408.6 282.6h0M418.2 277.2h0M416.5 267.2h0M407.5 280.2h0M410.7 281.7h0M409.4 286.1h0M409.8 274.0h0M409.4 286.5h0M414.0 283.0h0M418.4 281.5h0M404.9 279.6h0M414.4 282.1h0M408.5 283.8h0M416.0 283.1h0M405.0 285.9h0M421.9 281.7h0M417.0 277.1h0M409.7 284.0h0M401.8 283.7h0M403.1 285.9h0M420.9 285.6h0M411.9 283.9h0M412.8 285.7h0M408.4 286.4h0M406.5 280.9h0M414.4 284.3h0M407.5 279.0h0M415.0 275.2h0M403.5 282.7h0M412.6 281.3h0M412.2 283.5h0M418.3 281.8h0M416.0 286.0h0M421.1 285.1h0M416.7 250.8h0M401.3 276.9h0M415.9 275.4h0M416.1 279.3h0M411.6 285.1h0M415.1 272.3h0M403.7 281.8h0M419.7 286.8h0M411.0 278.6h0M418.2 281.4h0M407.9 285.1h0M415.7 277.3h0M421.5 273.7h0M422.1 263.4h0M403.0 286.1h0M420.1 279.4h0M421.8 286.1h0M404.9 264.7h0M405.7 280.2h0M404.1 284.5h0M417.3 282.9h0M411.5 283.0h0M417.8 285.8h0M408.6 286.3h0M416.4 282.3h0M404.9 284.6h0M409.1 285.2h0M418.7 283.5h0M411.5 276.4h0M420.9 276.5h0M413.0 280.0h0M415.4 286.0h0M405.7 284.2h0M409.7 275.3h0M408.2 281.7h0M404.7 284.3h0M413.2 285.7h0M410.9 280.9h0M412.6 285.0h0M411.1 286.3h0M418.6 274.9h0M408.7 284.1h0M406.5 281.2h0M409.7 284.4h0M421.3 260.3h0M412.7 281.5h0M417.1 285.9h0M409.2 276.9h0M406.1 266.5h0M409.4 280.5h0M422.0 280.6h0M414.1 274.8h0M412.2 281.3h0M403.4 285.3h0M408.7 286.7h0M421.6 279.0h0M414.8 282.8h0M415.9 284.4h0M409.1 286.0h0M407.2 282.0h0M419.8 278.5h0M419.7 284.9h0M411.0 278.7h0M413.1 280.9h0M420.5 281.0h0M409.4 284.1h0M417.3 286.8h0M422.3 286.5h0M401.3 282.1h0M417.6 285.8h0M401.5 282.4h0M405.7 244.5h0M412.0 279.1h0M412.4 277.0h0M411.3 282.9h0M412.1 285.3h0M413.9 284.0h0M409.8 286.1h0M420.0 282.4h0M404.7 284.7h0M415.7 286.2h0M407.8 281.3h0M405.7 283.9h0M413.1 275.6h0M409.2 282.2h0M410.4 285.6h0M421.5 280.1h0M405.3 272.5h0M416.9 284.0h0M409.9 279.6h0M403.5 273.1h0M405.1 275.1h0M419.5 285.0h0M410.0 284.0h0M401.7 271.4h0M401.6 284.6h0M414.6 283.9h0M412.9 282.1h0M415.2 286.2h0M410.4 281.2h0M418.5 280.9h0M404.4 283.8h0M407.8 272.7h0M404.8 276.6h0M416.6 266.5h0M416.1 284.0h0M404.5 281.1h0M415.4 280.9h0M414.2 284.9h0M419.2 285.8h0M410.5 282.9h0M414.3 276.9h0M415.3 286.5h0" stroke="#000" stroke-width="0.75" stroke-linecap="round" fill="none" opacity="0.7"/>
<path d="M398.3 285.8h0M393.5 280.5h0M397.4 285.1h0M397.4 284.0h0M396.7 285.7h0M382.2 286.6h0M396.7 282.3h0M393.8 285.3h0M393.7 283.6h0M382.5 286.0h0M369.4 280.1h0M384.5 282.3h0M390.1 271.2h0M375.1 285.9h0M381.5 284.5h0M393.3 270.9h0M380.9 285.0h0M372.9 278.6h0M367.1 283.5h0M379.5 282.6h0M385.0 286.2h0M365.3 273.5h0M401.2 285.2h0M394.2 285.4h0M394.5 286.5h0M376.8 281.0h0M400.7 280.9h0M396.1 285.5h0M391.5 286.7h0M392.1 282.7h0M400.1 286.0h0M377.0 286.6h0M386.9 280.5h0M391.0 266.9h0M392.9 284.5h0M393.0 281.9h0M381.3 284.0h0M399.5 278.8h0M373.7 277.1h0M391.0 284.4h0M397.1 277.9h0M397.2 286.2h0M401.1 276.3h0M383.1 286.1h0M397.8 278.7h0M398.1 286.1h0M388.0 286.5h0M397.9 284.2h0M381.0 283.3h0M374.3 277.8h0M388.5 284.6h0M399.4 282.8h0M380.5 284.5h0M398.7 285.8h0M388.2 285.2h0M379.1 283.5h0M388.4 284.0h0M398.4 286.6h0M363.1 283.8h0M396.3 283.7h0M364.6 283.5h0M399.2 286.4h0M389.3 282.9h0M383.0 280.7h0M382.4 275.0h0M399.7 280.6h0M398.8 285.8h0M356.9 271.5h0M385.1 280.6h0M384.1 261.2h0M394.7 277.6h0M397.2 281.0h0M355.2 271.7h0M390.0 263.1h0M356.2 286.4h0M386.7 278.0h0M397.7 281.1h0M396.3 279.5h0M396.9 272.0h0M383.8 278.9h0M401.3 282.7h0M380.0 278.0h0M397.1 282.2h0M397.7 274.5h0M382.2 282.3h0M392.9 271.3h0M396.7 267.5h0M395.3 286.6h0M393.4 276.3h0M391.6 280.5h0M395.1 272.3h0M389.8 284.9h0M396.7 266.8h0M397.5 286.7h0M396.1 278.6h0M391.9 277.8h0M364.8 270.9h0M398.8 281.9h0M392.8 286.7h0M379.9 268.3h0M390.0 284.0h0M389.2 266.4h0M390.2 279.6h0M357.1 268.2h0M370.3 281.1h0M376.8 271.6h0M398.4 282.4h0M400.1 283.4h0M382.8 273.8h0M379.1 283.4h0M369.4 280.7h0M376.3 286.2h0M400.4 286.6h0M392.0 270.7h0M396.7 270.0h0M398.8 280.2h0M398.9 283.6h0M397.9 277.7h0M397.8 285.3h0M382.2 285.0h0M397.7 267.9h0M373.0 286.3h0M388.1 275.0h0M398.2 271.0h0M388.3 285.5h0M392.1 281.3h0M394.7 285.2h0M393.9 281.6h0M396.5 268.6h0M396.1 280.3h0M392.8 284.3h0M397.1 285.0h0M360.8 278.0h0M365.9 278.8h0M394.4 280.0h0M396.4 282.6h0M400.3 275.6h0M399.0 280.7h0M396.8 286.5h0M380.5 265.3h0M399.3 278.2h0M396.6 276.7h0M392.1 278.8h0M397.9 271.3h0M399.9 279.3h0M393.5 283.4h0M399.5 286.2h0M385.1 281.5h0M383.1 280.0h0M396.5 286.0h0M398.4 278.5h0M394.8 274.5h0M400.1 273.2h0M397.8 275.2h0M387.9 267.7h0M391.7 285.3h0M367.8 265.0h0M392.7 263.9h0M399.8 271.5h0M392.4 279.1h0M396.5 260.5h0M399.0 286.5h0M390.7 257.9h0M399.5 272.5h0M399.2 275.3h0M401.2 276.0h0M387.7 278.9h0M398.4 272.2h0M397.7 282.7h0M384.7 271.4h0M382.9 285.5h0M390.8 278.8h0M393.0 269.5h0M382.2 283.8h0M391.6 273.2h0M396.4 279.7h0M393.9 261.5h0M399.6 263.8h0M398.4 275.3h0M397.7 273.4h0M388.2 279.3h0M386.7 275.0h0M381.0 282.2h0M400.7 269.9h0M397.9 275.8h0M393.8 268.2h0M389.7 276.4h0M395.4 280.3h0M397.2 265.2h0M395.9 276.8h0M397.3 274.4h0M396.5 270.1h0M383.9 280.8h0M397.6 273.7h0M394.1 273.1h0M396.7 277.8h0M399.6 286.1h0M390.0 283.2h0M383.2 266.7h0M398.7 278.4h0M400.4 282.7h0M399.7 273.5h0M400.0 278.4h0M383.1 279.6h0M393.3 274.5h0M398.2 275.0h0M396.5 273.8h0M398.4 273.1h0M396.2 281.5h0M400.4 286.2h0M393.4 266.9h0M386.9 283.2h0M380.7 266.9h0M391.6 273.9h0M400.8 279.2h0M390.6 283.0h0M369.5 280.6h0M383.4 281.6h0M398.7 285.0h0M399.8 283.8h0M394.9 285.2h0M400.2 273.3h0M380.0 283.3h0M379.7 282.9h0M393.9 280.2h0M398.4 282.6h0M390.2 273.5h0M394.0 281.6h0M395.5 279.4h0M385.7 277.6h0M399.0 281.1h0M384.7 275.6h0M401.2 278.2h0M397.5 269.7h0M401.2 269.4h0M400.2 280.6h0M385.4 281.9h0M375.8 278.2h0M392.0 268.8h0M399.1 276.7h0M400.5 283.9h0M396.0 264.9h0M395.5 284.9h0M375.2 279.6h0M394.2 286.6h0M390.2 282.6h0M383.7 283.0h0M390.9 253.6h0M394.1 277.7h0M399.1 266.5h0M388.7 282.2h0M398.7 285.6h0M399.4 284.3h0M390.2 283.8h0M392.1 283.2h0M397.7 279.3h0M390.9 277.0h0M400.0 271.3h0M400.0 267.2h0M384.7 280.6h0M398.1 282.5h0M391.0 285.9h0M372.0 285.6h0M383.0 285.9h0M396.0 285.8h0M397.8 283.8h0M399.8 276.1h0M390.3 276.0h0M395.7 277.9h0M391.7 282.8h0M390.0 267.3h0M368.1 278.1h0M383.6 278.5h0M373.6 267.9h0M366.7 285.0h0M389.5 276.2h0M396.7 284.3h0M401.2 281.1h0M389.0 281.7h0M393.6 282.4h0M399.8 286.4h0M400.9 279.2h0M383.9 277.9h0M379.4 284.3h0M400.7 284.4h0M377.1 267.4h0M393.1 280.0h0M396.5 280.6h0M394.0 280.8h0M391.0 282.0h0M398.2 278.6h0M389.9 278.4h0M395.9 280.1h0M397.9 286.1h0M385.2 286.6h0M399.2 284.2h0M401.0 278.8h0M390.8 268.7h0M400.8 284.9h0M401.0 273.8h0M372.8 277.4h0M394.0 283.7h0M400.4 284.1h0M400.4 275.8h0M394.4 275.6h0M395.4 284.7h0M396.7 276.6h0M395.7 282.0h0M383.2 286.1h0M401.3 272.9h0M400.9 283.2h0M399.0 286.1h0M369.8 277.2h0M400.5 275.8h0M396.9 275.6h0M395.9 285.5h0M394.6 275.9h0M400.6 281.4h0M400.2 276.6h0M381.8 282.2h0M372.6 270.5h0M397.5 285.4h0M399.4 286.4h0M389.2 282.0h0M391.3 273.9h0M383.9 284.1h0M398.1 279.5h0M398.6 281.1h0M400.1 286.0h0M398.3 284.4h0M398.4 286.6h0M395.6 285.1h0M394.2 281.4h0M399.3 286.6h0M366.5 270.6h0M398.1 268.9h0M389.6 284.9h0M400.3 286.3h0M392.4 285.2h0M397.8 279.5h0M396.2 285.9h0M387.5 280.4h0M388.9 280.6h0M392.3 282.0h0M376.5 282.4h0M397.4 282.3h0M392.8 258.4h0M399.5 282.1h0M392.8 266.0h0M398.6 285.8h0M369.6 272.1h0M388.8 286.4h0M381.9 268.6h0M396.6 275.1h0M359.3 286.7h0M371.9 286.2h0M400.6 286.7h0M391.0 275.2h0M398.1 270.8h0M400.1 273.2h0M397.9 281.6h0M399.3 276.6h0M374.4 276.1h0M386.5 283.2h0M399.5 277.1h0M373.0 283.1h0M380.3 283.8h0M399.7 281.4h0M398.1 281.7h0M393.6 265.4h0M370.5 286.6h0M397.8 274.8h0M399.2 269.7h0M398.7 280.1h0M390.7 281.1h0M396.4 280.1h0M399.3 283.5h0M397.9 284.7h0M390.3 278.3h0M392.9 266.4h0M398.3 284.9h0M397.8 274.5h0M395.1 258.9h0M397.6 282.9h0M395.2 284.4h0M395.2 270.4h0M385.1 277.9h0M386.9 286.3h0M394.3 275.2h0M388.0 282.6h0M392.3 272.8h0M386.1 284.7h0M389.6 272.2h0M393.8 284.9h0M398.4 282.9h0M389.9 284.3h0M390.6 279.2h0M396.6 278.0h0M395.5 270.7h0M390.2 272.9h0M387.8 274.6h0M399.6 280.5h0M391.4 284.9h0M399.2 281.6h0M390.2 256.3h0M397.8 264.8h0M379.2 286.1h0M391.2 272.5h0M400.8 267.1h0M396.6 276.2h0M387.7 280.6h0M381.0 273.2h0M382.1 286.7h0M394.4 277.8h0M380.2 257.2h0M397.6 274.8h0M396.6 274.0h0M401.0 272.6h0M400.5 281.1h0M396.2 285.4h0M361.4 283.7h0M395.3 285.0h0M397.0 286.0h0M394.0 286.5h0M397.9 281.7h0M397.9 276.5h0M394.0 285.4h0M396.9 283.0h0M398.3 276.5h0M394.0 284.4h0M372.5 265.0h0M394.6 263.5h0M398.8 274.6h0M398.2 283.5h0M398.9 285.5h0M378.7 273.1h0M392.1 286.4h0M394.3 284.8h0M401.2 274.8h0M392.7 285.9h0M387.8 282.1h0M381.1 280.2h0M391.7 275.5h0M396.2 281.8h0M384.7 266.1h0M399.3 279.1h0M395.7 281.4h0M373.6 271.7h0M372.4 282.4h0M394.4 285.6h0M393.9 263.7h0M400.4 279.5h0M385.8 281.2h0M396.6 258.1h0M394.0 280.2h0M386.3 268.8h0M375.6 278.6h0M379.0 261.6h0M389.0 276.9h0M392.0 269.9h0M395.8 285.0h0M378.1 279.0h0M397.1 279.8h0M389.5 270.9h0M399.3 274.4h0M368.9 279.8h0M374.5 284.1h0M393.9 257.1h0M399.5 285.3h0M380.2 286.0h0M389.9 283.2h0M388.7 280.4h0M399.8 283.2h0M399.6 284.3h0M365.6 284.0h0M400.3 284.4h0M391.2 263.7h0M392.6 272.4h0M386.1 271.3h0M395.1 286.6h0M387.1 282.4h0M397.5 284.5h0M397.4 283.5h0M381.1 273.3h0M400.3 278.2h0M391.6 278.2h0M399.7 285.0h0M395.0 286.4h0M394.6 284.5h0M398.7 275.9h0M399.8 286.2h0M382.8 263.8h0M385.6 285.1h0M398.9 281.2h0M393.3 272.7h0M391.7 274.1h0M386.2 275.4h0M388.3 283.9h0M373.7 282.4h0M386.1 264.8h0M392.5 277.3h0M399.9 283.2h0M396.8 283.1h0M380.0 266.6h0M390.0 276.7h0M391.3 275.7h0M397.2 283.8h0M398.6 277.9h0M399.1 276.8h0M385.0 279.0h0M368.9 271.0h0M392.9 283.6h0M394.6 265.6h0M398.2 276.6h0M394.3 277.1h0M378.1 286.3h0M400.5 286.0h0M390.8 260.9h0M397.1 273.9h0M387.1 273.8h0M390.7 283.1h0M392.7 268.6h0M396.2 273.8h0M394.0 268.5h0M393.8 267.4h0M393.5 286.1h0M395.0 272.8h0M399.0 274.1h0M388.6 275.3h0M394.2 286.5h0M399.9 286.3h0M375.0 281.2h0M385.4 283.1h0M395.3 285.8h0M397.5 282.0h0M391.2 286.0h0M396.2 274.5h0M396.2 279.4h0M400.1 279.6h0M390.9 286.3h0M401.2 283.9h0M399.8 271.3h0M396.3 279.1h0M393.1 277.3h0M395.9 274.1h0M384.2 273.7h0M367.4 275.6h0M391.9 279.8h0M397.6 281.2h0M385.4 277.4h0M399.1 275.6h0M390.6 277.8h0M390.9 253.7h0M398.5 286.7h0M393.4 286.0h0M399.6 284.7h0M397.4 279.9h0M391.3 281.3h0M395.2 280.3h0M396.1 279.4h0M394.2 284.5h0M399.9 278.7h0M373.0 282.2h0M384.6 285.8h0M394.2 282.8h0M388.5 277.7h0M391.3 285.7h0M370.8 281.8h0M397.1 272.0h0M400.6 284.2h0M376.9 283.1h0M376.8 285.6h0M394.9 286.8h0M370.8 279.3h0M381.9 283.2h0M392.7 279.6h0M378.2 286.5h0M385.8 284.9h0M400.9 277.5h0M399.8 274.3h0M388.5 286.6h0M382.2 262.7h0M387.5 275.1h0M394.0 272.4h0M399.8 281.2h0M397.4 280.1h0M392.4 284.6h0M398.5 284.1h0M383.2 257.3h0M393.6 281.3h0M377.5 273.8h0M392.7 283.6h0M378.1 278.4h0M388.6 272.0h0M395.6 285.2h0M383.3 279.0h0M389.7 282.7h0M397.1 280.3h0M393.3 278.6h0M391.8 280.3h0M395.8 282.8h0M401.0 279.7h0M396.8 284.3h0M393.9 270.5h0M394.5 284.5h0M397.8 272.0h0M396.9 283.2h0M391.6 283.1h0M388.1 268.1h0M393.2 280.8h0M391.5 285.2h0M387.8 283.7h0M399.0 271.5h0M392.7 281.5h0M390.5 267.2h0M381.0 268.6h0M386.4 267.6h0M375.6 279.5h0M397.6 286.4h0M386.6 282.0h0M396.0 272.5h0M385.6 282.5h0M396.6 285.4h0M395.4 272.5h0M388.5 274.1h0M394.7 284.0h0M395.0 286.1h0M401.2 280.6h0M398.9 284.9h0M397.3 280.3h0M398.4 270.3h0M398.5 286.1h0M395.4 279.4h0M389.7 277.4h0M392.7 281.8h0M397.6 273.2h0M395.0 278.2h0M395.4 282.6h0M385.3 276.7h0M392.1 281.3h0M394.0 285.6h0M388.5 264.4h0M400.8 266.4h0M396.8 270.8h0M390.7 286.7h0M382.3 286.7h0M393.7 285.6h0M389.5 283.9h0M396.4 285.5h0M396.0 282.3h0M386.5 278.9h0M395.3 282.4h0M387.9 286.2h0M372.3 278.6h0M377.6 282.6h0M389.0 277.9h0M400.4 285.8h0M381.1 281.2h0M374.1 271.8h0M395.9 284.1h0M378.8 274.7h0M377.2 259.9h0M398.0 284.0h0M393.3 269.7h0M399.0 286.6h0M394.1 285.8h0M399.1 283.4h0M397.2 285.2h0M387.3 285.7h0M395.6 278.5h0M395.0 274.3h0M360.4 285.1h0M388.3 269.1h0M389.2 278.1h0M397.3 269.1h0M393.9 282.7h0M400.6 285.1h0M394.4 284.0h0M398.0 271.6h0M401.0 284.2h0M389.6 281.3h0M391.0 286.1h0M399.3 281.2h0M397.1 273.5h0M399.7 281.8h0M400.0 281.4h0M366.2 274.5h0M392.7 272.0h0M386.4 278.0h0M392.0 276.0h0M393.9 277.5h0M372.3 266.0h0M400.9 285.8h0M391.9 283.4h0M398.8 273.9h0M395.3 283.3h0M398.7 285.4h0M360.5 282.6h0M398.9 281.9h0M395.8 282.9h0M400.6 275.8h0M379.7 284.3h0M398.3 284.4h0M385.0 283.7h0M397.6 285.0h0M395.3 284.7h0M384.5 282.0h0M390.5 281.4h0M392.0 275.6h0M389.5 273.5h0M383.6 279.9h0M395.2 270.6h0M394.8 286.3h0M391.9 284.0h0M394.2 281.9h0M383.2 273.5h0M388.4 283.3h0M390.2 278.6h0M396.5 275.5h0M399.1 266.8h0M394.6 284.2h0M401.0 265.3h0M400.6 282.5h0M395.8 285.5h0M398.3 284.3h0M390.7 246.1h0M391.8 248.6h0M386.0 251.7h0M389.7 251.1h0M367.9 252.3h0M359.3 256.6h0M356.9 262.2h0M396.0 252.9h0M377.0 256.0h0M378.8 273.4h0M375.7 277.4h0M380.5 270.8h0M375.4 277.2h0M374.4 279.4h0M375.0 278.8h0M380.5 269.7h0M370.9 283.8h0M378.9 273.6h0M377.7 273.7h0M375.3 278.0h0M374.1 279.7h0M372.9 281.2h0M377.2 275.9h0M376.5 275.6h0M376.7 275.2h0M376.0 276.5h0M373.0 282.3h0M371.9 283.0h0M377.1 275.3h0M377.3 274.3h0M371.7 283.6h0M374.3 278.6h0M377.4 275.0h0M378.7 273.4h0M376.4 276.3h0M380.0 271.1h0M375.0 277.2h0M370.8 283.7h0M372.8 282.4h0M370.4 261.4h0M368.7 263.4h0M365.8 265.8h0M368.4 263.5h0M369.6 262.8h0M366.3 266.5h0M368.5 263.0h0M370.8 261.3h0M371.2 260.7h0M368.7 263.5h0M389.1 258.7h0M389.0 258.6h0M387.3 260.4h0M385.9 261.8h0M389.5 258.7h0M388.1 259.3h0M386.1 260.8h0M386.2 261.9h0M385.5 261.7h0M386.8 260.0h0M388.5 281.2h0M392.7 275.3h0M391.7 276.2h0M395.8 271.3h0M395.2 271.8h0M389.9 280.4h0M396.4 270.2h0M394.7 272.1h0M389.6 279.7h0M396.9 269.3h0M395.4 271.0h0M395.1 271.5h0M393.0 274.9h0M396.2 271.0h0M391.2 277.9h0M396.7 269.5h0M392.1 275.8h0M396.7 269.7h0M394.6 273.5h0M395.9 270.7h0M397.4 269.0h0M389.7 279.9h0M388.4 281.8h0M388.4 281.6h0M397.9 268.1h0M390.1 279.1h0M391.7 276.4h0M395.5 271.7h0M397.8 267.8h0M395.2 272.0h0M388.7 280.7h0M394.9 273.0h0M396.6 271.1h0M395.3 271.4h0M388.8 286.0h0M399.8 273.3h0M392.5 281.9h0M389.8 285.5h0M394.4 279.6h0M395.5 277.7h0M395.3 278.2h0M396.8 276.5h0M390.8 284.4h0M392.1 282.5h0M396.5 276.7h0M394.5 278.9h0M394.0 279.4h0M397.6 274.9h0M394.2 279.5h0M393.6 280.6h0M393.6 281.1h0M395.7 277.7h0M391.8 282.2h0M394.5 278.4h0M399.0 274.4h0M395.2 278.0h0M393.5 280.6h0M389.7 285.6h0M398.6 274.2h0M391.1 283.7h0M389.9 284.6h0M389.4 285.9h0M389.1 286.6h0M388.8 285.8h0M393.9 283.4h0M393.6 284.1h0M400.8 272.2h0M398.1 277.5h0M399.2 274.5h0M392.4 285.8h0M397.6 278.3h0M392.9 286.3h0M400.7 273.2h0M400.3 272.8h0M393.6 284.7h0M397.5 277.0h0M392.5 285.4h0M396.9 279.0h0M395.3 281.2h0M400.0 274.8h0M397.3 277.6h0M395.7 280.7h0M393.2 284.7h0M395.3 281.4h0M397.1 277.6h0M392.7 286.0h0M393.2 284.9h0M393.2 284.0h0M400.4 273.2h0M400.3 274.6h0M398.3 276.9h0M395.6 281.3h0M392.7 285.4h0M393.6 284.3h0M383.7 275.5h0M383.7 275.6h0M376.5 284.0h0M380.9 278.6h0M382.7 276.3h0M378.3 282.6h0M384.1 274.7h0M381.0 278.9h0M377.1 283.8h0M381.1 279.2h0M379.2 281.5h0M377.6 283.3h0M396.3 283.6h0M396.7 283.0h0M396.9 282.3h0M399.8 279.3h0M395.1 285.5h0M395.8 284.4h0M395.8 283.5h0M396.5 282.5h0M395.9 284.6h0M400.5 277.5h0M400.2 277.9h0M399.6 279.6h0M397.6 281.6h0M399.2 279.0h0M397.2 282.2h0M398.3 280.2h0M398.8 279.7h0M399.7 278.4h0M383.1 272.9h0M382.3 273.9h0M381.5 275.6h0M387.9 265.6h0M381.5 276.5h0M382.7 272.8h0M382.5 275.3h0M384.1 270.0h0M382.5 275.0h0M382.3 274.0h0" stroke="#06852a" stroke-width="1.1" stroke-linecap="round" fill="none" opacity="0.95"/>
<path d="M434.1 283.3h0M423.8 274.9h0M423.4 284.9h0M426.9 281.2h0M448.0 283.2h0M425.1 283.9h0M424.9 284.8h0M432.1 285.4h0M428.4 270.3h0M431.8 282.8h0M435.5 285.7h0M424.9 284.8h0M425.0 286.7h0M446.2 284.3h0M465.5 284.8h0M467.4 284.4h0M445.7 280.1h0M460.0 278.2h0M442.8 286.3h0M428.5 283.2h0M437.2 267.5h0M432.2 273.5h0M467.5 285.6h0M437.8 277.6h0M434.0 280.5h0M432.4 280.3h0M439.9 283.5h0M434.0 279.4h0M432.9 270.2h0M423.5 283.9h0M428.4 278.7h0M422.9 285.8h0M424.4 251.4h0M456.2 277.3h0M428.9 279.8h0M447.8 283.1h0M425.3 286.0h0M425.3 279.6h0M427.0 276.7h0M427.0 280.3h0M432.4 279.8h0M428.7 274.0h0M437.9 278.9h0M430.3 285.3h0M448.5 283.7h0M431.8 261.9h0M432.7 271.1h0M429.9 271.1h0M429.6 276.9h0M424.2 285.8h0M426.7 286.3h0M423.8 285.8h0M439.4 275.4h0M435.7 275.3h0M425.5 285.2h0M432.6 286.3h0M436.2 284.8h0M428.8 285.1h0M434.4 284.8h0M425.3 283.7h0M426.8 255.3h0M426.1 282.4h0M430.3 284.3h0M431.5 275.8h0M424.7 283.3h0M431.5 275.0h0M436.4 274.5h0M423.0 279.5h0M425.4 265.4h0M429.3 276.2h0M433.0 286.7h0M428.5 256.3h0M437.5 269.5h0M425.8 282.8h0M428.6 276.9h0M434.0 273.3h0M422.5 279.8h0M435.6 270.5h0M432.1 280.4h0M422.7 257.9h0M434.8 285.1h0M428.2 280.0h0M442.6 285.7h0M438.2 276.5h0M426.9 278.9h0M423.3 280.4h0M424.7 284.6h0M430.2 278.1h0M433.7 285.2h0M450.8 286.1h0M436.8 285.6h0M439.4 280.2h0M423.7 282.8h0M427.2 278.8h0M423.7 286.4h0M423.9 285.6h0M424.8 286.2h0M422.7 273.9h0M438.7 285.3h0M434.5 284.0h0M425.9 285.6h0M424.2 286.3h0M423.5 286.1h0M423.7 282.5h0M428.8 273.3h0M423.1 284.4h0M426.1 270.1h0M425.1 285.2h0M428.4 276.7h0M426.1 281.8h0M422.8 277.0h0M431.1 281.1h0M422.9 272.5h0M424.4 286.1h0M425.5 283.6h0M424.1 277.1h0M428.0 286.4h0M425.6 277.5h0M422.6 286.7h0M423.4 282.6h0M426.9 282.7h0M422.7 284.9h0M435.0 284.1h0M428.5 285.3h0M425.6 285.3h0M426.6 286.4h0M423.0 285.4h0M427.5 282.7h0M427.0 285.2h0M426.8 284.9h0M423.1 283.1h0M431.9 277.1h0M422.7 276.8h0M430.0 286.3h0M424.6 286.2h0M429.5 282.0h0M428.0 285.3h0M422.9 285.4h0M426.4 278.3h0M429.1 282.7h0M428.8 286.7h0M429.9 285.0h0M424.5 277.9h0M424.0 277.3h0M424.6 279.4h0M429.2 280.5h0M424.1 273.0h0M425.2 282.6h0M433.1 283.1h0M422.7 281.3h0M431.6 285.8h0M428.3 285.5h0M424.2 286.1h0M427.7 277.9h0" stroke="#de3524" stroke-width="1.05" stroke-linecap="round" fill="none" opacity="0.92"/>
<path d="M401.5 206.6V363.5" stroke="#333" stroke-width=".75" stroke-dasharray="2.5 1.2"/>
<path d="M422.5 206.6V363.5" stroke="#333" stroke-width=".75" stroke-dasharray="2.5 1.2"/>
<path d="M350.5 286.5H508" stroke="#808080" stroke-width="1" stroke-dasharray="2.5 1.2"/>
<path d="M350.5 240.3V363.5H475.5" fill="none" stroke="#1a1a1a" stroke-width=".7"/>
<path d="M349.1 240.6H350.5" stroke="#1a1a1a" stroke-width=".5"/>
<text x="347.6" y="242.9" font-size="5.2" font-family="DejaVu Sans, Liberation Sans, sans-serif" fill="#111" text-anchor="end"  stroke="#111" stroke-width=".1">1.00</text>
<path d="M349.1 256.0H350.5" stroke="#1a1a1a" stroke-width=".5"/>
<text x="347.6" y="258.3" font-size="5.2" font-family="DejaVu Sans, Liberation Sans, sans-serif" fill="#111" text-anchor="end"  stroke="#111" stroke-width=".1">0.75</text>
<path d="M349.1 271.4H350.5" stroke="#1a1a1a" stroke-width=".5"/>
<text x="347.6" y="273.7" font-size="5.2" font-family="DejaVu Sans, Liberation Sans, sans-serif" fill="#111" text-anchor="end"  stroke="#111" stroke-width=".1">0.50</text>
<path d="M349.1 286.8H350.5" stroke="#1a1a1a" stroke-width=".5"/>
<text x="347.6" y="289.1" font-size="5.2" font-family="DejaVu Sans, Liberation Sans, sans-serif" fill="#111" text-anchor="end"  stroke="#111" stroke-width=".1">0.25</text>
<path d="M349.1 302.2H350.5" stroke="#1a1a1a" stroke-width=".5"/>
<text x="347.6" y="304.5" font-size="5.2" font-family="DejaVu Sans, Liberation Sans, sans-serif" fill="#111" text-anchor="end"  stroke="#111" stroke-width=".1">0.00</text>
<path d="M349.1 317.6H350.5" stroke="#1a1a1a" stroke-width=".5"/>
<text x="347.6" y="319.9" font-size="5.2" font-family="DejaVu Sans, Liberation Sans, sans-serif" fill="#111" text-anchor="end"  stroke="#111" stroke-width=".1">−0.25</text>
<path d="M349.1 333.0H350.5" stroke="#1a1a1a" stroke-width=".5"/>
<text x="347.6" y="335.3" font-size="5.2" font-family="DejaVu Sans, Liberation Sans, sans-serif" fill="#111" text-anchor="end"  stroke="#111" stroke-width=".1">−0.50</text>
<path d="M349.1 348.4H350.5" stroke="#1a1a1a" stroke-width=".5"/>
<text x="347.6" y="350.7" font-size="5.2" font-family="DejaVu Sans, Liberation Sans, sans-serif" fill="#111" text-anchor="end"  stroke="#111" stroke-width=".1">−0.75</text>
<path d="M369.6 363.5v1.4" stroke="#1a1a1a" stroke-width=".5"/>
<text x="369.57000000000005" y="371.4" font-size="5.2" font-family="DejaVu Sans, Liberation Sans, sans-serif" fill="#111" text-anchor="middle"  stroke="#111" stroke-width=".1">−4</text>
<path d="M390.7 363.5v1.4" stroke="#1a1a1a" stroke-width=".5"/>
<text x="390.71000000000004" y="371.4" font-size="5.2" font-family="DejaVu Sans, Liberation Sans, sans-serif" fill="#111" text-anchor="middle"  stroke="#111" stroke-width=".1">−2</text>
<path d="M411.9 363.5v1.4" stroke="#1a1a1a" stroke-width=".5"/>
<text x="411.85" y="371.4" font-size="5.2" font-family="DejaVu Sans, Liberation Sans, sans-serif" fill="#111" text-anchor="middle"  stroke="#111" stroke-width=".1">0</text>
<path d="M433.0 363.5v1.4" stroke="#1a1a1a" stroke-width=".5"/>
<text x="432.99" y="371.4" font-size="5.2" font-family="DejaVu Sans, Liberation Sans, sans-serif" fill="#111" text-anchor="middle"  stroke="#111" stroke-width=".1">2</text>
<path d="M454.1 363.5v1.4" stroke="#1a1a1a" stroke-width=".5"/>
<text x="454.13" y="371.4" font-size="5.2" font-family="DejaVu Sans, Liberation Sans, sans-serif" fill="#111" text-anchor="middle"  stroke="#111" stroke-width=".1">4</text>
<path d="M475.3 363.5v1.4" stroke="#1a1a1a" stroke-width=".5"/>
<text x="475.07000000000005" y="371.4" font-size="5.2" font-family="DejaVu Sans, Liberation Sans, sans-serif" fill="#111" text-anchor="middle"  stroke="#111" stroke-width=".1">6</text>
<text x="413.4" y="378.2" font-size="5.2" font-family="DejaVu Sans, Liberation Sans, sans-serif" fill="#111" text-anchor="middle"  stroke="#111" stroke-width=".1">log2(pi_ratio)</text>
<text transform="translate(328.9 299.3) rotate(-90)" font-size="4.8" font-family="DejaVu Sans, Liberation Sans, sans-serif" fill="#111" text-anchor="middle">Fst</text>
<rect x="491.9" y="198.6" width="8.9" height="4.7" fill="#ff0000"/>
<rect x="491.9" y="207.4" width="8.9" height="4.8" fill="#00b050"/>
<text x="504.3" y="202.9" font-size="4.9" font-family="Liberation Serif, Times New Roman, serif" fill="#111" text-anchor="start"  stroke="#111" stroke-width=".1">KST</text>
<text x="504.3" y="211.9" font-size="4.9" font-family="Liberation Serif, Times New Roman, serif" fill="#111" text-anchor="start"  stroke="#111" stroke-width=".1">n-KST</text>
<text x="427.4" y="400.2" font-size="13.6" font-family="Liberation Serif, Times New Roman, serif" fill="#111" text-anchor="middle" textLength="116" lengthAdjust="spacingAndGlyphs" stroke="#111" stroke-width=".22">Select Clear Analysis</text>
</svg>
</body></html>
